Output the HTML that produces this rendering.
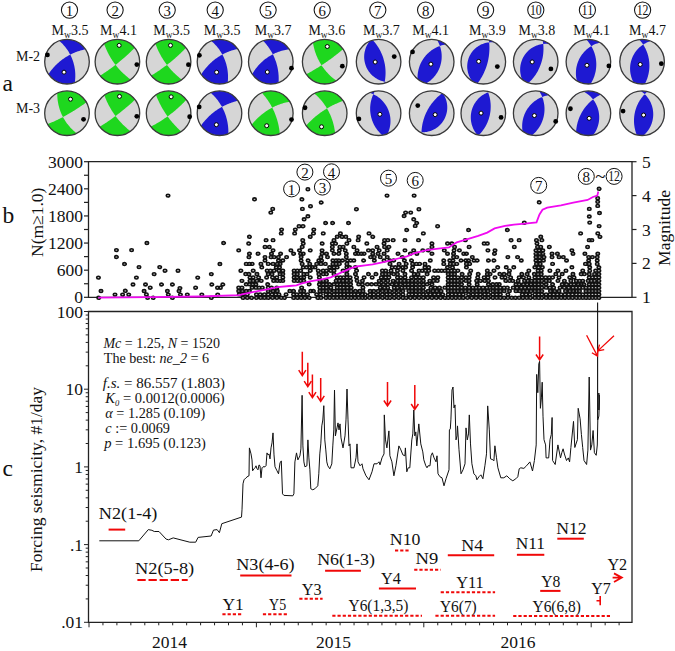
<!DOCTYPE html>
<html><head><meta charset="utf-8"><style>
html,body{margin:0;padding:0;background:#fff;width:675px;height:651px;overflow:hidden}
svg{display:block}
text{font-family:'Liberation Serif',serif;fill:#111}
</style></head><body>
<svg width="675" height="651" viewBox="0 0 675 651">
<text x="2.5" y="90.5" font-size="23.5" text-anchor="start" >a</text>
<text x="16" y="60.7" font-size="14" text-anchor="start" >M-2</text>
<text x="16" y="112.6" font-size="14" text-anchor="start" >M-3</text>
<circle cx="69.5" cy="10.1" r="8.1" fill="none" stroke="#111" stroke-width="1.05"/>
<text x="69.5" y="15.6" font-size="14.8" text-anchor="middle" >1</text>
<text x="70.0" y="34.5" font-size="14" text-anchor="middle">M<tspan font-size="9.5" dy="3">w</tspan><tspan dy="-3">3.5</tspan></text>
<circle cx="115.1" cy="10.1" r="8.1" fill="none" stroke="#111" stroke-width="1.05"/>
<text x="115.1" y="15.6" font-size="14.8" text-anchor="middle" >2</text>
<text x="118.5" y="34.5" font-size="14" text-anchor="middle">M<tspan font-size="9.5" dy="3">w</tspan><tspan dy="-3">4.1</tspan></text>
<circle cx="167.2" cy="10.1" r="8.1" fill="none" stroke="#111" stroke-width="1.05"/>
<text x="167.2" y="15.6" font-size="14.8" text-anchor="middle" >3</text>
<text x="171.7" y="34.5" font-size="14" text-anchor="middle">M<tspan font-size="9.5" dy="3">w</tspan><tspan dy="-3">3.5</tspan></text>
<circle cx="215.2" cy="10.1" r="8.1" fill="none" stroke="#111" stroke-width="1.05"/>
<text x="215.2" y="15.6" font-size="14.8" text-anchor="middle" >4</text>
<text x="222.1" y="34.5" font-size="14" text-anchor="middle">M<tspan font-size="9.5" dy="3">w</tspan><tspan dy="-3">3.5</tspan></text>
<circle cx="268.1" cy="10.1" r="8.1" fill="none" stroke="#111" stroke-width="1.05"/>
<text x="268.1" y="15.6" font-size="14.8" text-anchor="middle" >5</text>
<text x="273.1" y="34.5" font-size="14" text-anchor="middle">M<tspan font-size="9.5" dy="3">w</tspan><tspan dy="-3">3.7</tspan></text>
<circle cx="322.2" cy="10.1" r="8.1" fill="none" stroke="#111" stroke-width="1.05"/>
<text x="322.2" y="15.6" font-size="14.8" text-anchor="middle" >6</text>
<text x="326.8" y="34.5" font-size="14" text-anchor="middle">M<tspan font-size="9.5" dy="3">w</tspan><tspan dy="-3">3.6</tspan></text>
<circle cx="377.8" cy="10.1" r="8.1" fill="none" stroke="#111" stroke-width="1.05"/>
<text x="377.8" y="15.6" font-size="14.8" text-anchor="middle" >7</text>
<text x="381.4" y="34.5" font-size="14" text-anchor="middle">M<tspan font-size="9.5" dy="3">w</tspan><tspan dy="-3">3.7</tspan></text>
<circle cx="425.6" cy="10.1" r="8.1" fill="none" stroke="#111" stroke-width="1.05"/>
<text x="425.6" y="15.6" font-size="14.8" text-anchor="middle" >8</text>
<text x="430.7" y="34.5" font-size="14" text-anchor="middle">M<tspan font-size="9.5" dy="3">w</tspan><tspan dy="-3">4.1</tspan></text>
<circle cx="485.6" cy="10.1" r="8.1" fill="none" stroke="#111" stroke-width="1.05"/>
<text x="485.6" y="15.6" font-size="14.8" text-anchor="middle" >9</text>
<text x="487.4" y="34.5" font-size="14" text-anchor="middle">M<tspan font-size="9.5" dy="3">w</tspan><tspan dy="-3">3.9</tspan></text>
<circle cx="535.8" cy="10.1" r="8.1" fill="none" stroke="#111" stroke-width="1.05"/>
<text x="535.8" y="15.1" font-size="14.5" text-anchor="middle" textLength="11.8" lengthAdjust="spacingAndGlyphs">10</text>
<text x="536.9" y="34.5" font-size="14" text-anchor="middle">M<tspan font-size="9.5" dy="3">w</tspan><tspan dy="-3">3.8</tspan></text>
<circle cx="587.4" cy="10.1" r="8.1" fill="none" stroke="#111" stroke-width="1.05"/>
<text x="587.4" y="15.1" font-size="14.5" text-anchor="middle" textLength="11.8" lengthAdjust="spacingAndGlyphs">11</text>
<text x="591.7" y="34.5" font-size="14" text-anchor="middle">M<tspan font-size="9.5" dy="3">w</tspan><tspan dy="-3">4.1</tspan></text>
<circle cx="642.6" cy="10.1" r="8.1" fill="none" stroke="#111" stroke-width="1.05"/>
<text x="642.6" y="15.1" font-size="14.5" text-anchor="middle" textLength="11.8" lengthAdjust="spacingAndGlyphs">12</text>
<text x="647.5" y="34.5" font-size="14" text-anchor="middle">M<tspan font-size="9.5" dy="3">w</tspan><tspan dy="-3">4.7</tspan></text>
<circle cx="67" cy="61.7" r="22.3" fill="#1e19d2"/>
<path d="M74.77,82.60 L74.97,81.17 L75.12,79.80 L75.22,78.51 L75.28,77.27 L75.31,76.08 L75.30,74.95 L75.28,73.86 L75.22,72.81 L75.15,71.80 L75.06,70.82 L74.95,69.87 L74.82,68.95 L74.68,68.06 L74.53,67.19 L74.36,66.34 L74.18,65.51 L73.99,64.69 L73.78,63.89 L73.57,63.10 L73.34,62.33 L73.10,61.56 L72.85,60.80 L72.58,60.05 L72.30,59.30 L72.01,58.56 L71.71,57.82 L71.39,57.09 L71.05,56.35 L70.70,55.61 L70.34,54.87 L69.95,54.13 L69.54,53.38 L69.11,52.63 L68.66,51.87 L68.18,51.10 L67.68,50.32 L67.14,49.53 L66.57,48.73 L65.97,47.92 L65.32,47.09 L64.63,46.24 L63.89,45.38 L63.10,44.50 L62.24,43.61 L61.32,42.69 L60.32,41.75 L59.23,40.80 L59.23,40.80 L57.85,41.36 L56.51,42.02 L55.22,42.76 L53.98,43.59 L52.80,44.50 L51.69,45.49 L50.64,46.55 L49.66,47.68 L48.76,48.86 L47.95,50.11 L47.22,51.41 L46.57,52.75 L46.02,54.14 L45.56,55.56 L45.20,57.00 L44.94,58.47 L44.77,59.95 L44.70,61.44 L44.73,62.93 L44.87,64.41 L45.10,65.89 L45.42,67.34 L45.85,68.77 L46.37,70.16 L46.98,71.52 L47.68,72.84 L48.47,74.10 L49.34,75.31 L50.29,76.46 L51.31,77.55 L52.40,78.56 L53.56,79.50 L54.78,80.35 L56.05,81.13 L57.38,81.82 L58.74,82.41 L60.14,82.92 L61.58,83.33 L63.03,83.64 L64.51,83.86 L65.99,83.98 L67.48,83.99 L68.97,83.91 L70.45,83.73 L71.91,83.45 L73.36,83.07 L74.77,82.60Z M85.53,49.29 L84.11,49.59 L82.78,49.90 L81.53,50.23 L80.35,50.57 L79.23,50.91 L78.17,51.26 L77.16,51.61 L76.19,51.97 L75.26,52.34 L74.37,52.70 L73.51,53.07 L72.68,53.44 L71.88,53.82 L71.10,54.19 L70.35,54.57 L69.61,54.96 L68.89,55.35 L68.19,55.74 L67.50,56.14 L66.82,56.54 L66.15,56.95 L65.50,57.36 L64.85,57.79 L64.20,58.22 L63.56,58.66 L62.93,59.11 L62.30,59.57 L61.67,60.05 L61.04,60.53 L60.40,61.03 L59.77,61.55 L59.14,62.09 L58.50,62.64 L57.85,63.22 L57.20,63.81 L56.54,64.44 L55.87,65.09 L55.20,65.78 L54.51,66.50 L53.81,67.26 L53.10,68.06 L52.37,68.91 L51.62,69.81 L50.86,70.78 L50.09,71.81 L49.29,72.92 L48.47,74.11 L48.47,74.11 L49.34,75.32 L50.29,76.47 L51.32,77.55 L52.41,78.57 L53.57,79.50 L54.79,80.36 L56.06,81.13 L57.39,81.82 L58.75,82.42 L60.15,82.92 L61.59,83.33 L63.04,83.65 L64.52,83.86 L66.00,83.98 L67.49,83.99 L68.98,83.91 L70.46,83.73 L71.92,83.45 L73.37,83.07 L74.78,82.60 L76.16,82.03 L77.50,81.38 L78.79,80.63 L80.02,79.80 L81.20,78.89 L82.32,77.90 L83.37,76.84 L84.34,75.72 L85.24,74.53 L86.06,73.28 L86.79,71.98 L87.43,70.64 L87.98,69.25 L88.44,67.83 L88.80,66.39 L89.07,64.92 L89.23,63.44 L89.30,61.95 L89.27,60.46 L89.13,58.98 L88.90,57.50 L88.57,56.05 L88.15,54.62 L87.63,53.23 L87.02,51.87 L86.31,50.55 L85.53,49.29Z" fill="#d6d6d6" fill-rule="evenodd"/>
<circle cx="67" cy="61.7" r="22.3" fill="none" stroke="#3a3a3a" stroke-width="1.3"/>
<circle cx="47.43" cy="54.90" r="2.4" fill="#000"/>
<circle cx="64.03" cy="72.15" r="2.0" fill="#fff" stroke="#000" stroke-width="1"/>
<circle cx="117.4" cy="61.7" r="22.3" fill="#1ed71e"/>
<path d="M104.10,43.80 L104.59,45.16 L105.08,46.43 L105.55,47.62 L106.03,48.75 L106.50,49.81 L106.96,50.82 L107.42,51.78 L107.87,52.70 L108.32,53.58 L108.76,54.42 L109.20,55.23 L109.64,56.01 L110.07,56.77 L110.50,57.50 L110.93,58.22 L111.37,58.91 L111.80,59.59 L112.23,60.26 L112.66,60.91 L113.10,61.55 L113.54,62.19 L113.99,62.81 L114.43,63.43 L114.89,64.04 L115.35,64.65 L115.82,65.25 L116.30,65.86 L116.79,66.46 L117.29,67.07 L117.80,67.67 L118.32,68.28 L118.87,68.90 L119.42,69.52 L120.00,70.14 L120.60,70.78 L121.22,71.42 L121.87,72.08 L122.55,72.74 L123.26,73.43 L124.01,74.12 L124.80,74.84 L125.63,75.57 L126.51,76.33 L127.45,77.11 L128.46,77.91 L129.54,78.74 L130.70,79.60 L130.70,79.60 L131.86,78.67 L132.96,77.67 L134.00,76.59 L134.95,75.45 L135.83,74.25 L136.63,72.99 L137.34,71.68 L137.96,70.33 L138.49,68.93 L138.93,67.51 L139.27,66.06 L139.51,64.59 L139.66,63.10 L139.70,61.61 L139.64,60.12 L139.49,58.64 L139.24,57.17 L138.88,55.73 L138.44,54.30 L137.90,52.92 L137.26,51.57 L136.54,50.26 L135.74,49.01 L134.85,47.81 L133.88,46.68 L132.84,45.61 L131.73,44.62 L130.56,43.70 L129.33,42.86 L128.04,42.10 L126.71,41.44 L125.33,40.86 L123.92,40.38 L122.49,39.99 L121.02,39.70 L119.55,39.50 L118.06,39.41 L116.57,39.42 L115.08,39.52 L113.61,39.73 L112.15,40.03 L110.71,40.43 L109.31,40.92 L107.94,41.51 L106.61,42.19 L105.33,42.95 L104.10,43.80Z M100.01,75.67 L101.24,74.90 L102.38,74.17 L103.46,73.47 L104.47,72.81 L105.43,72.17 L106.34,71.55 L107.20,70.96 L108.03,70.39 L108.83,69.83 L109.60,69.29 L110.34,68.76 L111.05,68.24 L111.74,67.74 L112.42,67.24 L113.08,66.75 L113.72,66.27 L114.35,65.79 L114.97,65.32 L115.58,64.85 L116.18,64.38 L116.77,63.91 L117.36,63.45 L117.95,62.98 L118.53,62.51 L119.12,62.04 L119.70,61.57 L120.28,61.09 L120.87,60.60 L121.46,60.11 L122.05,59.60 L122.65,59.09 L123.26,58.57 L123.88,58.03 L124.51,57.48 L125.16,56.91 L125.82,56.32 L126.49,55.72 L127.18,55.08 L127.90,54.43 L128.64,53.74 L129.41,53.02 L130.20,52.26 L131.03,51.47 L131.90,50.62 L132.81,49.72 L133.77,48.76 L134.79,47.73 L134.79,47.73 L133.81,46.60 L132.77,45.54 L131.65,44.55 L130.48,43.64 L129.24,42.80 L127.95,42.06 L126.62,41.39 L125.24,40.82 L123.83,40.35 L122.39,39.97 L120.93,39.68 L119.45,39.49 L117.96,39.41 L116.47,39.42 L114.98,39.53 L113.51,39.74 L112.05,40.05 L110.62,40.46 L109.21,40.96 L107.84,41.55 L106.52,42.23 L105.24,43.00 L104.02,43.86 L102.86,44.79 L101.76,45.80 L100.74,46.88 L99.78,48.03 L98.91,49.23 L98.12,50.50 L97.41,51.81 L96.80,53.17 L96.27,54.56 L95.84,55.99 L95.51,57.44 L95.27,58.91 L95.14,60.40 L95.10,61.89 L95.16,63.38 L95.32,64.86 L95.58,66.32 L95.94,67.77 L96.40,69.19 L96.94,70.58 L97.58,71.92 L98.31,73.22 L99.12,74.47 L100.01,75.67Z" fill="#d6d6d6" fill-rule="evenodd"/>
<circle cx="117.4" cy="61.7" r="22.3" fill="none" stroke="#3a3a3a" stroke-width="1.3"/>
<circle cx="136.83" cy="64.57" r="2.4" fill="#000"/>
<circle cx="119.16" cy="45.36" r="2.0" fill="#fff" stroke="#000" stroke-width="1"/>
<circle cx="168.6" cy="61.7" r="22.3" fill="#1ed71e"/>
<path d="M155.40,43.73 L155.90,45.08 L156.40,46.35 L156.89,47.54 L157.37,48.66 L157.84,49.72 L158.31,50.72 L158.77,51.68 L159.23,52.59 L159.68,53.47 L160.12,54.31 L160.57,55.11 L161.00,55.89 L161.44,56.65 L161.87,57.38 L162.30,58.09 L162.73,58.79 L163.16,59.47 L163.59,60.13 L164.02,60.78 L164.46,61.42 L164.89,62.06 L165.33,62.68 L165.78,63.30 L166.23,63.91 L166.69,64.52 L167.15,65.13 L167.62,65.74 L168.11,66.34 L168.60,66.95 L169.10,67.56 L169.62,68.17 L170.16,68.79 L170.71,69.41 L171.28,70.05 L171.87,70.69 L172.48,71.34 L173.12,72.00 L173.79,72.67 L174.49,73.37 L175.22,74.07 L176.00,74.80 L176.82,75.55 L177.69,76.32 L178.61,77.11 L179.60,77.94 L180.66,78.79 L181.80,79.67 L181.80,79.67 L182.97,78.75 L184.08,77.75 L185.12,76.68 L186.08,75.55 L186.97,74.35 L187.77,73.09 L188.49,71.79 L189.12,70.44 L189.66,69.05 L190.10,67.62 L190.45,66.17 L190.70,64.71 L190.85,63.22 L190.90,61.73 L190.85,60.24 L190.71,58.76 L190.46,57.29 L190.12,55.84 L189.68,54.42 L189.14,53.03 L188.52,51.67 L187.80,50.36 L187.00,49.11 L186.12,47.91 L185.16,46.77 L184.13,45.69 L183.02,44.69 L181.85,43.77 L180.63,42.92 L179.35,42.16 L178.02,41.49 L176.65,40.90 L175.24,40.41 L173.80,40.02 L172.34,39.72 L170.87,39.52 L169.38,39.41 L167.89,39.41 L166.40,39.51 L164.92,39.71 L163.46,40.00 L162.03,40.39 L160.62,40.88 L159.24,41.46 L157.91,42.13 L156.63,42.89 L155.40,43.73Z M151.17,75.61 L152.40,74.86 L153.56,74.15 L154.64,73.47 L155.66,72.82 L156.63,72.19 L157.55,71.59 L158.43,71.00 L159.26,70.44 L160.07,69.89 L160.84,69.36 L161.58,68.84 L162.30,68.32 L163.00,67.82 L163.68,67.33 L164.34,66.85 L164.99,66.37 L165.62,65.90 L166.25,65.43 L166.86,64.96 L167.46,64.50 L168.06,64.03 L168.65,63.57 L169.24,63.10 L169.83,62.64 L170.41,62.17 L170.99,61.69 L171.58,61.21 L172.17,60.73 L172.76,60.23 L173.35,59.73 L173.96,59.22 L174.57,58.69 L175.18,58.16 L175.82,57.60 L176.46,57.03 L177.12,56.44 L177.79,55.83 L178.48,55.20 L179.20,54.54 L179.93,53.85 L180.70,53.13 L181.49,52.36 L182.31,51.56 L183.18,50.71 L184.08,49.80 L185.03,48.83 L186.03,47.79 L186.03,47.79 L185.06,46.66 L184.02,45.59 L182.91,44.60 L181.74,43.68 L180.51,42.84 L179.22,42.09 L177.89,41.43 L176.51,40.85 L175.10,40.37 L173.66,39.98 L172.20,39.69 L170.72,39.50 L169.24,39.41 L167.75,39.42 L166.26,39.52 L164.78,39.73 L163.32,40.03 L161.89,40.43 L160.48,40.93 L159.11,41.52 L157.79,42.20 L156.51,42.96 L155.28,43.81 L154.12,44.74 L153.02,45.75 L151.99,46.82 L151.03,47.97 L150.15,49.17 L149.36,50.43 L148.65,51.74 L148.03,53.10 L147.50,54.49 L147.06,55.91 L146.73,57.37 L146.48,58.84 L146.34,60.32 L146.30,61.81 L146.36,63.30 L146.51,64.78 L146.77,66.25 L147.12,67.70 L147.57,69.12 L148.11,70.51 L148.75,71.86 L149.47,73.16 L150.28,74.41 L151.17,75.61Z" fill="#d6d6d6" fill-rule="evenodd"/>
<circle cx="168.6" cy="61.7" r="22.3" fill="none" stroke="#3a3a3a" stroke-width="1.3"/>
<circle cx="188.44" cy="64.65" r="2.4" fill="#000"/>
<circle cx="170.49" cy="45.35" r="2.0" fill="#fff" stroke="#000" stroke-width="1"/>
<circle cx="219.5" cy="61.7" r="22.3" fill="#1e19d2"/>
<path d="M227.70,82.44 L227.85,81.00 L227.95,79.63 L228.00,78.33 L228.02,77.09 L228.01,75.91 L227.97,74.78 L227.91,73.69 L227.82,72.65 L227.72,71.64 L227.60,70.67 L227.46,69.73 L227.31,68.82 L227.15,67.93 L226.97,67.07 L226.78,66.23 L226.58,65.40 L226.37,64.59 L226.15,63.80 L225.91,63.02 L225.67,62.25 L225.41,61.50 L225.15,60.75 L224.87,60.00 L224.57,59.27 L224.27,58.53 L223.95,57.80 L223.62,57.08 L223.27,56.35 L222.91,55.62 L222.53,54.89 L222.14,54.16 L221.72,53.42 L221.28,52.67 L220.82,51.92 L220.33,51.16 L219.82,50.39 L219.27,49.61 L218.70,48.82 L218.08,48.02 L217.43,47.20 L216.73,46.36 L215.99,45.51 L215.19,44.64 L214.33,43.75 L213.40,42.84 L212.39,41.91 L211.30,40.96 L211.30,40.96 L209.93,41.56 L208.61,42.24 L207.33,43.01 L206.11,43.87 L204.95,44.80 L203.85,45.81 L202.83,46.89 L201.88,48.04 L201.00,49.24 L200.21,50.51 L199.51,51.82 L198.89,53.18 L198.37,54.57 L197.94,56.00 L197.61,57.45 L197.37,58.93 L197.24,60.41 L197.20,61.90 L197.26,63.39 L197.43,64.87 L197.69,66.34 L198.05,67.78 L198.50,69.20 L199.05,70.59 L199.69,71.94 L200.42,73.24 L201.23,74.48 L202.12,75.68 L203.10,76.81 L204.14,77.87 L205.26,78.86 L206.43,79.77 L207.67,80.60 L208.96,81.35 L210.29,82.01 L211.67,82.58 L213.08,83.06 L214.52,83.44 L215.99,83.72 L217.47,83.91 L218.95,83.99 L220.44,83.98 L221.93,83.87 L223.41,83.66 L224.86,83.35 L226.30,82.94 L227.70,82.44Z M237.78,48.93 L236.37,49.24 L235.04,49.57 L233.79,49.90 L232.61,50.25 L231.50,50.61 L230.44,50.97 L229.43,51.34 L228.46,51.71 L227.54,52.08 L226.65,52.46 L225.79,52.84 L224.97,53.23 L224.17,53.61 L223.40,54.00 L222.65,54.40 L221.92,54.79 L221.20,55.20 L220.50,55.60 L219.82,56.01 L219.15,56.43 L218.49,56.85 L217.83,57.28 L217.19,57.72 L216.55,58.16 L215.92,58.62 L215.29,59.08 L214.67,59.55 L214.05,60.04 L213.43,60.54 L212.81,61.06 L212.18,61.59 L211.56,62.14 L210.93,62.71 L210.30,63.31 L209.66,63.92 L209.02,64.56 L208.37,65.24 L207.71,65.94 L207.04,66.68 L206.36,67.46 L205.66,68.28 L204.96,69.15 L204.24,70.08 L203.51,71.06 L202.76,72.12 L202.00,73.25 L201.22,74.47 L201.22,74.47 L202.11,75.66 L203.09,76.79 L204.13,77.86 L205.24,78.85 L206.42,79.76 L207.66,80.60 L208.95,81.34 L210.28,82.01 L211.66,82.58 L213.07,83.05 L214.51,83.43 L215.97,83.72 L217.45,83.91 L218.94,83.99 L220.43,83.98 L221.92,83.87 L223.39,83.66 L224.85,83.35 L226.28,82.94 L227.69,82.44 L229.05,81.85 L230.38,81.17 L231.65,80.40 L232.88,79.54 L234.04,78.61 L235.13,77.60 L236.16,76.52 L237.11,75.38 L237.99,74.17 L238.78,72.91 L239.49,71.59 L240.10,70.24 L240.63,68.84 L241.06,67.41 L241.39,65.96 L241.62,64.49 L241.76,63.01 L241.80,61.52 L241.74,60.03 L241.58,58.54 L241.32,57.08 L240.96,55.63 L240.50,54.21 L239.96,52.82 L239.32,51.48 L238.59,50.18 L237.78,48.93Z" fill="#d6d6d6" fill-rule="evenodd"/>
<circle cx="219.5" cy="61.7" r="22.3" fill="none" stroke="#3a3a3a" stroke-width="1.3"/>
<circle cx="199.41" cy="55.29" r="2.4" fill="#000"/>
<circle cx="216.64" cy="72.22" r="2.0" fill="#fff" stroke="#000" stroke-width="1"/>
<circle cx="270.8" cy="61.7" r="22.3" fill="#1e19d2"/>
<path d="M289.35,49.32 L287.91,49.51 L286.56,49.73 L285.28,49.97 L284.08,50.23 L282.93,50.51 L281.84,50.81 L280.80,51.11 L279.81,51.43 L278.85,51.75 L277.93,52.08 L277.05,52.42 L276.20,52.77 L275.37,53.12 L274.57,53.48 L273.80,53.85 L273.04,54.22 L272.30,54.60 L271.58,54.98 L270.87,55.38 L270.18,55.78 L269.49,56.19 L268.82,56.61 L268.16,57.03 L267.50,57.47 L266.85,57.92 L266.21,58.38 L265.57,58.85 L264.93,59.34 L264.30,59.84 L263.67,60.36 L263.03,60.90 L262.40,61.45 L261.76,62.03 L261.12,62.63 L260.48,63.26 L259.83,63.92 L259.18,64.60 L258.52,65.32 L257.86,66.08 L257.19,66.88 L256.51,67.72 L255.82,68.62 L255.12,69.57 L254.41,70.58 L253.70,71.67 L252.98,72.83 L252.25,74.08 L252.25,74.08 L253.12,75.29 L254.07,76.44 L255.09,77.53 L256.18,78.54 L257.34,79.48 L258.56,80.34 L259.83,81.12 L261.15,81.81 L262.52,82.40 L263.92,82.91 L265.35,83.32 L266.81,83.64 L268.28,83.86 L269.77,83.98 L271.26,84.00 L272.75,83.91 L274.22,83.74 L275.69,83.46 L277.13,83.08 L278.55,82.61 L279.92,82.05 L281.26,81.39 L282.56,80.65 L283.79,79.82 L284.98,78.91 L286.09,77.93 L287.14,76.87 L288.12,75.75 L289.02,74.56 L289.84,73.31 L290.57,72.01 L291.22,70.67 L291.77,69.29 L292.23,67.87 L292.59,66.42 L292.86,64.96 L293.03,63.48 L293.10,61.99 L293.07,60.50 L292.94,59.01 L292.71,57.54 L292.38,56.09 L291.96,54.66 L291.44,53.26 L290.83,51.90 L290.13,50.58 L289.35,49.32Z M278.56,82.61 L278.64,81.16 L278.68,79.80 L278.69,78.50 L278.67,77.27 L278.63,76.10 L278.56,74.98 L278.47,73.90 L278.37,72.87 L278.25,71.88 L278.12,70.92 L277.97,69.99 L277.82,69.09 L277.65,68.22 L277.47,67.37 L277.29,66.54 L277.09,65.72 L276.89,64.93 L276.67,64.14 L276.45,63.37 L276.22,62.62 L275.97,61.87 L275.72,61.12 L275.46,60.39 L275.19,59.66 L274.91,58.93 L274.61,58.20 L274.31,57.47 L273.99,56.75 L273.66,56.02 L273.31,55.29 L272.95,54.55 L272.56,53.80 L272.16,53.05 L271.74,52.29 L271.30,51.52 L270.83,50.74 L270.34,49.94 L269.81,49.13 L269.25,48.30 L268.66,47.45 L268.02,46.57 L267.34,45.68 L266.61,44.76 L265.82,43.82 L264.97,42.84 L264.05,41.83 L263.04,40.79 L263.04,40.79 L261.67,41.36 L260.33,42.01 L259.04,42.76 L257.80,43.58 L256.62,44.49 L255.50,45.48 L254.45,46.54 L253.47,47.66 L252.57,48.85 L251.76,50.10 L251.02,51.40 L250.38,52.74 L249.83,54.12 L249.37,55.54 L249.00,56.99 L248.74,58.45 L248.57,59.93 L248.50,61.42 L248.53,62.91 L248.66,64.40 L248.89,65.87 L249.22,67.32 L249.64,68.75 L250.16,70.15 L250.77,71.51 L251.47,72.83 L252.26,74.09 L253.13,75.30 L254.08,76.45 L255.10,77.54 L256.19,78.55 L257.35,79.49 L258.57,80.35 L259.84,81.12 L261.16,81.81 L262.53,82.41 L263.93,82.92 L265.36,83.33 L266.82,83.64 L268.29,83.86 L269.78,83.98 L271.27,84.00 L272.76,83.91 L274.24,83.73 L275.70,83.46 L277.14,83.08 L278.56,82.61Z" fill="#d6d6d6" fill-rule="evenodd"/>
<circle cx="270.8" cy="61.7" r="22.3" fill="none" stroke="#3a3a3a" stroke-width="1.3"/>
<circle cx="291.48" cy="68.21" r="2.4" fill="#000"/>
<circle cx="267.29" cy="72.04" r="2.0" fill="#fff" stroke="#000" stroke-width="1"/>
<circle cx="324.7" cy="61.7" r="22.3" fill="#1ed71e"/>
<path d="M313.00,42.71 L313.23,44.14 L313.49,45.48 L313.76,46.75 L314.04,47.94 L314.33,49.08 L314.63,50.16 L314.94,51.19 L315.26,52.17 L315.58,53.12 L315.91,54.02 L316.24,54.90 L316.58,55.74 L316.92,56.56 L317.27,57.35 L317.62,58.13 L317.97,58.88 L318.33,59.61 L318.69,60.33 L319.07,61.04 L319.44,61.73 L319.83,62.42 L320.22,63.09 L320.62,63.76 L321.02,64.42 L321.44,65.08 L321.87,65.73 L322.30,66.38 L322.76,67.03 L323.22,67.68 L323.70,68.33 L324.19,68.98 L324.71,69.64 L325.24,70.29 L325.79,70.96 L326.37,71.63 L326.97,72.31 L327.61,73.00 L328.27,73.70 L328.97,74.42 L329.70,75.14 L330.48,75.88 L331.31,76.64 L332.19,77.41 L333.13,78.20 L334.14,79.01 L335.23,79.84 L336.40,80.69 L336.40,80.69 L337.64,79.86 L338.82,78.96 L339.95,77.97 L341.00,76.92 L341.98,75.80 L342.88,74.61 L343.70,73.37 L344.44,72.07 L345.09,70.73 L345.65,69.35 L346.11,67.93 L346.48,66.49 L346.75,65.02 L346.92,63.54 L347.00,62.06 L346.97,60.57 L346.85,59.08 L346.62,57.61 L346.30,56.15 L345.88,54.72 L345.37,53.32 L344.76,51.96 L344.07,50.64 L343.28,49.37 L342.42,48.16 L341.47,47.01 L340.46,45.92 L339.37,44.90 L338.21,43.96 L337.00,43.10 L335.73,42.32 L334.41,41.62 L333.05,41.02 L331.65,40.51 L330.21,40.09 L328.76,39.77 L327.29,39.55 L325.80,39.43 L324.31,39.40 L322.82,39.48 L321.34,39.65 L319.88,39.93 L318.43,40.30 L317.02,40.77 L315.64,41.32 L314.30,41.98 L313.00,42.71Z M306.28,74.27 L307.55,73.58 L308.74,72.93 L309.86,72.31 L310.91,71.71 L311.91,71.14 L312.86,70.59 L313.77,70.06 L314.64,69.55 L315.47,69.05 L316.27,68.56 L317.05,68.09 L317.80,67.63 L318.53,67.17 L319.24,66.73 L319.93,66.29 L320.61,65.86 L321.27,65.43 L321.92,65.01 L322.56,64.58 L323.20,64.16 L323.83,63.75 L324.45,63.33 L325.07,62.91 L325.69,62.49 L326.31,62.06 L326.92,61.63 L327.54,61.20 L328.16,60.76 L328.79,60.32 L329.42,59.87 L330.07,59.41 L330.72,58.93 L331.38,58.45 L332.05,57.95 L332.74,57.44 L333.44,56.91 L334.17,56.36 L334.91,55.79 L335.68,55.20 L336.47,54.58 L337.30,53.93 L338.16,53.24 L339.06,52.52 L339.99,51.75 L340.98,50.94 L342.02,50.07 L343.12,49.13 L343.12,49.13 L342.24,47.93 L341.28,46.79 L340.25,45.72 L339.15,44.71 L337.98,43.79 L336.76,42.94 L335.48,42.18 L334.15,41.50 L332.78,40.91 L331.37,40.42 L329.93,40.02 L328.47,39.72 L327.00,39.52 L325.51,39.41 L324.02,39.41 L322.53,39.51 L321.06,39.70 L319.60,39.99 L318.16,40.38 L316.75,40.87 L315.37,41.44 L314.04,42.11 L312.76,42.87 L311.53,43.71 L310.35,44.63 L309.25,45.62 L308.21,46.69 L307.24,47.83 L306.35,49.02 L305.55,50.28 L304.83,51.58 L304.20,52.93 L303.66,54.32 L303.21,55.74 L302.86,57.19 L302.61,58.66 L302.45,60.14 L302.40,61.63 L302.45,63.12 L302.59,64.61 L302.83,66.08 L303.17,67.53 L303.61,68.95 L304.14,70.34 L304.77,71.70 L305.48,73.01 L306.28,74.27Z" fill="#d6d6d6" fill-rule="evenodd"/>
<circle cx="324.7" cy="61.7" r="22.3" fill="none" stroke="#3a3a3a" stroke-width="1.3"/>
<circle cx="342.33" cy="66.15" r="2.4" fill="#000"/>
<circle cx="327.30" cy="46.52" r="2.0" fill="#fff" stroke="#000" stroke-width="1"/>
<circle cx="378.6" cy="61.7" r="22.3" fill="#1e19d2"/>
<path d="M369.49,41.35 L368.62,42.53 L367.85,43.72 L367.16,44.92 L366.56,46.12 L366.03,47.32 L365.58,48.52 L365.20,49.70 L364.89,50.88 L364.63,52.04 L364.43,53.19 L364.29,54.32 L364.21,55.44 L364.17,56.55 L364.18,57.64 L364.23,58.71 L364.33,59.77 L364.48,60.81 L364.66,61.83 L364.89,62.84 L365.15,63.83 L365.45,64.81 L365.79,65.77 L366.17,66.71 L366.58,67.63 L367.03,68.54 L367.52,69.44 L368.05,70.31 L368.61,71.17 L369.21,72.01 L369.86,72.83 L370.54,73.63 L371.26,74.40 L372.02,75.16 L372.83,75.89 L373.68,76.60 L374.57,77.28 L375.51,77.94 L376.50,78.55 L377.53,79.14 L378.62,79.69 L379.76,80.19 L380.95,80.65 L382.19,81.06 L383.49,81.41 L384.84,81.69 L386.25,81.91 L387.71,82.05 L387.71,82.05 L389.05,81.40 L390.34,80.66 L391.58,79.83 L392.76,78.93 L393.88,77.94 L394.93,76.88 L395.91,75.76 L396.81,74.57 L397.63,73.33 L398.36,72.03 L399.01,70.69 L399.56,69.30 L400.02,67.89 L400.39,66.44 L400.66,64.97 L400.83,63.49 L400.90,62.01 L400.87,60.52 L400.74,59.03 L400.51,57.56 L400.19,56.10 L399.76,54.67 L399.25,53.28 L398.64,51.92 L397.94,50.60 L397.16,49.33 L396.29,48.12 L395.34,46.97 L394.32,45.88 L393.23,44.87 L392.07,43.93 L390.86,43.07 L389.58,42.29 L388.26,41.60 L386.90,41.00 L385.50,40.49 L384.07,40.08 L382.61,39.76 L381.14,39.54 L379.65,39.42 L378.16,39.40 L376.67,39.48 L375.19,39.66 L373.73,39.94 L372.29,40.31 L370.87,40.78 L369.49,41.35Z M384.39,83.23 L384.69,81.82 L384.93,80.47 L385.12,79.18 L385.27,77.96 L385.39,76.78 L385.47,75.65 L385.52,74.57 L385.55,73.52 L385.56,72.51 L385.54,71.53 L385.51,70.59 L385.46,69.67 L385.39,68.77 L385.31,67.89 L385.22,67.04 L385.11,66.20 L384.99,65.37 L384.86,64.56 L384.71,63.76 L384.55,62.97 L384.38,62.19 L384.20,61.42 L384.01,60.65 L383.81,59.89 L383.59,59.13 L383.36,58.37 L383.11,57.61 L382.85,56.85 L382.58,56.09 L382.28,55.32 L381.97,54.54 L381.65,53.76 L381.30,52.98 L380.93,52.18 L380.54,51.37 L380.12,50.55 L379.67,49.71 L379.19,48.86 L378.68,47.99 L378.13,47.10 L377.54,46.19 L376.90,45.25 L376.22,44.29 L375.47,43.30 L374.66,42.29 L373.77,41.24 L372.81,40.17 L372.81,40.17 L371.38,40.60 L369.99,41.13 L368.63,41.75 L367.32,42.46 L366.06,43.26 L364.86,44.14 L363.72,45.09 L362.64,46.12 L361.64,47.22 L360.71,48.39 L359.86,49.61 L359.09,50.89 L358.42,52.22 L357.83,53.59 L357.33,55.00 L356.93,56.43 L356.63,57.89 L356.42,59.37 L356.32,60.85 L356.31,62.34 L356.40,63.83 L356.59,65.31 L356.88,66.77 L357.27,68.21 L357.75,69.62 L358.33,70.99 L358.99,72.33 L359.75,73.61 L360.59,74.85 L361.50,76.02 L362.50,77.13 L363.57,78.17 L364.70,79.14 L365.90,80.03 L367.15,80.83 L368.45,81.56 L369.80,82.19 L371.19,82.73 L372.61,83.18 L374.06,83.53 L375.53,83.79 L377.01,83.94 L378.50,84.00 L379.99,83.96 L381.47,83.81 L382.94,83.57 L384.39,83.23Z" fill="#d6d6d6" fill-rule="evenodd"/>
<circle cx="378.6" cy="61.7" r="22.3" fill="none" stroke="#3a3a3a" stroke-width="1.3"/>
<circle cx="394.22" cy="56.57" r="2.4" fill="#000"/>
<circle cx="375.16" cy="62.01" r="2.0" fill="#fff" stroke="#000" stroke-width="1"/>
<circle cx="431.7" cy="61.7" r="22.3" fill="#1e19d2"/>
<path d="M426.35,83.35 L427.58,82.58 L428.73,81.79 L429.80,80.98 L430.79,80.17 L431.71,79.35 L432.56,78.52 L433.36,77.69 L434.11,76.86 L434.80,76.03 L435.44,75.20 L436.05,74.37 L436.61,73.53 L437.13,72.71 L437.62,71.88 L438.07,71.05 L438.50,70.22 L438.89,69.39 L439.25,68.56 L439.59,67.73 L439.90,66.89 L440.18,66.06 L440.44,65.22 L440.67,64.37 L440.88,63.52 L441.07,62.66 L441.23,61.80 L441.37,60.93 L441.49,60.04 L441.58,59.15 L441.64,58.25 L441.68,57.33 L441.70,56.40 L441.68,55.46 L441.64,54.50 L441.56,53.52 L441.45,52.52 L441.30,51.51 L441.12,50.47 L440.89,49.41 L440.62,48.33 L440.31,47.22 L439.93,46.09 L439.50,44.93 L439.00,43.75 L438.44,42.54 L437.79,41.31 L437.05,40.05 L437.05,40.05 L435.60,39.74 L434.12,39.53 L432.63,39.42 L431.14,39.41 L429.66,39.49 L428.18,39.68 L426.71,39.96 L425.27,40.35 L423.86,40.82 L422.49,41.39 L421.15,42.05 L419.86,42.80 L418.63,43.64 L417.45,44.55 L416.33,45.54 L415.29,46.60 L414.32,47.73 L413.42,48.92 L412.61,50.17 L411.88,51.47 L411.24,52.82 L410.70,54.21 L410.24,55.63 L409.89,57.07 L409.63,58.54 L409.46,60.02 L409.40,61.51 L409.44,63.00 L409.57,64.48 L409.81,65.96 L410.14,67.41 L410.57,68.84 L411.10,70.23 L411.71,71.59 L412.42,72.90 L413.21,74.16 L414.08,75.37 L415.03,76.52 L416.06,77.60 L417.16,78.61 L418.32,79.54 L419.54,80.39 L420.82,81.16 L422.14,81.85 L423.51,82.44 L424.91,82.94 L426.35,83.35Z M445.85,44.46 L444.42,44.72 L443.06,45.03 L441.78,45.37 L440.57,45.75 L439.42,46.15 L438.32,46.58 L437.28,47.03 L436.29,47.50 L435.35,47.99 L434.44,48.48 L433.58,49.00 L432.75,49.52 L431.96,50.06 L431.19,50.60 L430.46,51.16 L429.75,51.73 L429.07,52.31 L428.41,52.90 L427.77,53.49 L427.16,54.10 L426.57,54.73 L425.99,55.36 L425.43,56.00 L424.89,56.66 L424.37,57.34 L423.86,58.03 L423.36,58.73 L422.89,59.45 L422.42,60.19 L421.97,60.95 L421.54,61.73 L421.12,62.54 L420.72,63.37 L420.33,64.22 L419.96,65.11 L419.61,66.02 L419.27,66.97 L418.96,67.95 L418.67,68.98 L418.40,70.04 L418.17,71.15 L417.96,72.30 L417.79,73.51 L417.65,74.77 L417.57,76.10 L417.53,77.48 L417.55,78.94 L417.55,78.94 L418.74,79.84 L419.98,80.67 L421.27,81.41 L422.61,82.06 L423.99,82.63 L425.41,83.09 L426.85,83.47 L428.31,83.74 L429.79,83.92 L431.28,84.00 L432.77,83.97 L434.26,83.85 L435.73,83.63 L437.19,83.31 L438.62,82.90 L440.02,82.39 L441.38,81.79 L442.70,81.10 L443.97,80.32 L445.19,79.46 L446.35,78.52 L447.44,77.50 L448.46,76.41 L449.40,75.26 L450.27,74.05 L451.05,72.78 L451.75,71.47 L452.36,70.10 L452.87,68.71 L453.29,67.28 L453.62,65.82 L453.84,64.35 L453.97,62.86 L454.00,61.37 L453.93,59.88 L453.76,58.40 L453.49,56.94 L453.12,55.49 L452.66,54.08 L452.10,52.69 L451.45,51.35 L450.72,50.06 L449.90,48.81 L449.00,47.62 L448.02,46.50 L446.97,45.45 L445.85,44.46Z" fill="#d6d6d6" fill-rule="evenodd"/>
<circle cx="431.7" cy="61.7" r="22.3" fill="none" stroke="#3a3a3a" stroke-width="1.3"/>
<circle cx="412.53" cy="51.91" r="2.4" fill="#000"/>
<circle cx="430.89" cy="64.15" r="2.0" fill="#fff" stroke="#000" stroke-width="1"/>
<circle cx="483.3" cy="61.7" r="22.3" fill="#1e19d2"/>
<path d="M494.59,42.47 L493.13,42.32 L491.70,42.26 L490.30,42.29 L488.93,42.39 L487.61,42.56 L486.32,42.80 L485.08,43.11 L483.87,43.47 L482.71,43.88 L481.59,44.34 L480.52,44.85 L479.48,45.41 L478.49,46.00 L477.54,46.63 L476.63,47.30 L475.76,48.01 L474.93,48.74 L474.15,49.51 L473.40,50.30 L472.70,51.12 L472.03,51.97 L471.41,52.85 L470.82,53.75 L470.28,54.67 L469.78,55.62 L469.32,56.60 L468.90,57.59 L468.52,58.61 L468.19,59.65 L467.91,60.71 L467.67,61.79 L467.48,62.89 L467.34,64.01 L467.25,65.15 L467.21,66.30 L467.23,67.48 L467.31,68.66 L467.45,69.87 L467.66,71.08 L467.93,72.31 L468.27,73.54 L468.68,74.78 L469.18,76.03 L469.75,77.27 L470.41,78.50 L471.16,79.72 L472.01,80.93 L472.01,80.93 L473.32,81.64 L474.67,82.26 L476.06,82.79 L477.49,83.23 L478.94,83.57 L480.41,83.81 L481.89,83.96 L483.38,84.00 L484.87,83.94 L486.35,83.79 L487.82,83.54 L489.27,83.19 L490.69,82.74 L492.08,82.20 L493.43,81.57 L494.74,80.84 L495.99,80.04 L497.19,79.15 L498.32,78.18 L499.39,77.14 L500.38,76.03 L501.30,74.86 L502.14,73.63 L502.90,72.34 L503.56,71.01 L504.14,69.64 L504.62,68.23 L505.01,66.79 L505.30,65.33 L505.50,63.85 L505.59,62.36 L505.58,60.87 L505.48,59.39 L505.28,57.91 L504.97,56.45 L504.57,55.01 L504.08,53.61 L503.49,52.24 L502.82,50.91 L502.05,49.63 L501.20,48.41 L500.28,47.24 L499.27,46.14 L498.20,45.11 L497.06,44.15 L495.85,43.27 L494.59,42.47Z M477.67,83.28 L478.52,82.11 L479.30,80.99 L480.01,79.91 L480.66,78.87 L481.26,77.87 L481.82,76.90 L482.34,75.96 L482.82,75.04 L483.27,74.16 L483.69,73.29 L484.08,72.45 L484.45,71.62 L484.80,70.81 L485.13,70.01 L485.44,69.22 L485.74,68.45 L486.01,67.68 L486.28,66.92 L486.53,66.17 L486.77,65.42 L486.99,64.67 L487.21,63.92 L487.42,63.17 L487.61,62.43 L487.80,61.67 L487.97,60.92 L488.14,60.15 L488.30,59.38 L488.45,58.60 L488.59,57.81 L488.72,57.00 L488.84,56.18 L488.96,55.35 L489.06,54.49 L489.15,53.61 L489.23,52.71 L489.30,51.78 L489.36,50.82 L489.40,49.82 L489.43,48.79 L489.44,47.72 L489.42,46.60 L489.39,45.43 L489.32,44.21 L489.23,42.92 L489.10,41.56 L488.93,40.12 L488.93,40.12 L487.48,39.79 L486.01,39.56 L484.52,39.43 L483.03,39.40 L481.54,39.47 L480.06,39.64 L478.60,39.90 L477.15,40.26 L475.73,40.72 L474.35,41.28 L473.00,41.92 L471.71,42.65 L470.46,43.47 L469.27,44.37 L468.14,45.34 L467.08,46.39 L466.10,47.51 L465.19,48.69 L464.36,49.93 L463.62,51.22 L462.96,52.56 L462.39,53.94 L461.92,55.35 L461.55,56.79 L461.27,58.26 L461.09,59.74 L461.01,61.22 L461.02,62.71 L461.14,64.20 L461.36,65.67 L461.67,67.13 L462.08,68.56 L462.59,69.97 L463.19,71.33 L463.87,72.65 L464.65,73.92 L465.51,75.14 L466.45,76.30 L467.46,77.39 L468.54,78.42 L469.69,79.37 L470.90,80.24 L472.17,81.02 L473.48,81.72 L474.84,82.33 L476.24,82.85 L477.67,83.28Z" fill="#d6d6d6" fill-rule="evenodd"/>
<circle cx="483.3" cy="61.7" r="22.3" fill="none" stroke="#3a3a3a" stroke-width="1.3"/>
<circle cx="497.32" cy="66.60" r="2.4" fill="#000"/>
<circle cx="478.69" cy="61.40" r="2.0" fill="#fff" stroke="#000" stroke-width="1"/>
<circle cx="535.7" cy="61.7" r="22.3" fill="#1e19d2"/>
<path d="M549.30,44.03 L547.85,43.88 L546.43,43.81 L545.05,43.81 L543.72,43.89 L542.43,44.03 L541.18,44.23 L539.97,44.49 L538.81,44.79 L537.69,45.14 L536.61,45.53 L535.56,45.96 L534.56,46.43 L533.59,46.92 L532.66,47.46 L531.77,48.02 L530.91,48.61 L530.08,49.22 L529.29,49.86 L528.53,50.53 L527.80,51.23 L527.10,51.94 L526.43,52.68 L525.80,53.45 L525.19,54.24 L524.61,55.05 L524.07,55.88 L523.55,56.74 L523.07,57.62 L522.62,58.53 L522.20,59.46 L521.82,60.42 L521.47,61.40 L521.15,62.41 L520.88,63.44 L520.64,64.50 L520.45,65.59 L520.30,66.71 L520.20,67.86 L520.15,69.03 L520.15,70.23 L520.22,71.46 L520.34,72.72 L520.54,74.01 L520.80,75.31 L521.15,76.65 L521.58,78.00 L522.10,79.37 L522.10,79.37 L523.31,80.24 L524.57,81.03 L525.89,81.73 L527.25,82.34 L528.65,82.85 L530.07,83.28 L531.53,83.61 L533.00,83.84 L534.49,83.97 L535.98,84.00 L537.46,83.93 L538.94,83.76 L540.41,83.50 L541.86,83.13 L543.27,82.67 L544.66,82.12 L546.00,81.48 L547.30,80.75 L548.55,79.93 L549.74,79.03 L550.86,78.05 L551.92,77.00 L552.91,75.89 L553.81,74.71 L554.64,73.47 L555.39,72.17 L556.04,70.84 L556.61,69.46 L557.08,68.04 L557.45,66.60 L557.73,65.14 L557.91,63.66 L558.00,62.17 L557.98,60.68 L557.86,59.19 L557.64,57.72 L557.33,56.26 L556.92,54.83 L556.41,53.43 L555.81,52.06 L555.12,50.74 L554.35,49.47 L553.49,48.25 L552.55,47.09 L551.54,46.00 L550.45,44.98 L549.30,44.03Z M528.65,82.85 L529.69,81.85 L530.65,80.87 L531.53,79.92 L532.35,78.98 L533.10,78.07 L533.80,77.18 L534.46,76.31 L535.07,75.46 L535.64,74.63 L536.17,73.80 L536.68,73.00 L537.15,72.20 L537.60,71.42 L538.02,70.64 L538.42,69.87 L538.80,69.11 L539.15,68.36 L539.49,67.61 L539.82,66.86 L540.12,66.11 L540.42,65.37 L540.69,64.62 L540.96,63.87 L541.21,63.12 L541.45,62.36 L541.67,61.60 L541.89,60.82 L542.09,60.04 L542.28,59.25 L542.46,58.45 L542.63,57.63 L542.78,56.79 L542.92,55.94 L543.05,55.07 L543.16,54.17 L543.26,53.25 L543.34,52.30 L543.41,51.33 L543.45,50.31 L543.48,49.27 L543.48,48.18 L543.45,47.04 L543.39,45.86 L543.30,44.63 L543.17,43.33 L542.99,41.97 L542.75,40.55 L542.75,40.55 L541.33,40.12 L539.87,39.79 L538.40,39.56 L536.91,39.43 L535.42,39.40 L533.94,39.47 L532.46,39.64 L530.99,39.90 L529.54,40.27 L528.13,40.73 L526.74,41.28 L525.40,41.92 L524.10,42.65 L522.85,43.47 L521.66,44.37 L520.54,45.35 L519.48,46.40 L518.49,47.51 L517.59,48.69 L516.76,49.93 L516.01,51.23 L515.36,52.56 L514.79,53.94 L514.32,55.36 L513.95,56.80 L513.67,58.26 L513.49,59.74 L513.40,61.23 L513.42,62.72 L513.54,64.21 L513.76,65.68 L514.07,67.14 L514.48,68.57 L514.99,69.97 L515.59,71.34 L516.28,72.66 L517.05,73.93 L517.91,75.15 L518.85,76.31 L519.86,77.40 L520.95,78.42 L522.10,79.37 L523.31,80.24 L524.57,81.03 L525.89,81.73 L527.25,82.34 L528.65,82.85Z" fill="#d6d6d6" fill-rule="evenodd"/>
<circle cx="535.7" cy="61.7" r="22.3" fill="none" stroke="#3a3a3a" stroke-width="1.3"/>
<circle cx="550.90" cy="68.90" r="2.4" fill="#000"/>
<circle cx="532.17" cy="61.92" r="2.0" fill="#fff" stroke="#000" stroke-width="1"/>
<circle cx="588.4" cy="61.7" r="22.3" fill="#1e19d2"/>
<path d="M599.94,42.62 L598.53,42.99 L597.20,43.41 L595.95,43.86 L594.76,44.35 L593.64,44.86 L592.58,45.40 L591.57,45.96 L590.62,46.53 L589.71,47.12 L588.85,47.73 L588.03,48.34 L587.25,48.97 L586.50,49.60 L585.79,50.25 L585.11,50.91 L584.47,51.57 L583.85,52.25 L583.26,52.93 L582.69,53.63 L582.15,54.33 L581.63,55.05 L581.13,55.77 L580.66,56.51 L580.21,57.26 L579.77,58.02 L579.36,58.79 L578.97,59.59 L578.60,60.39 L578.25,61.22 L577.92,62.06 L577.61,62.92 L577.32,63.80 L577.05,64.71 L576.81,65.64 L576.59,66.59 L576.40,67.58 L576.23,68.59 L576.10,69.63 L576.00,70.71 L575.93,71.82 L575.91,72.97 L575.92,74.16 L575.99,75.39 L576.11,76.67 L576.29,77.99 L576.54,79.36 L576.86,80.78 L576.86,80.78 L578.16,81.51 L579.51,82.15 L580.89,82.70 L582.31,83.15 L583.76,83.51 L585.23,83.77 L586.71,83.94 L588.20,84.00 L589.69,83.96 L591.17,83.83 L592.64,83.59 L594.09,83.26 L595.52,82.83 L596.92,82.31 L598.28,81.69 L599.59,80.99 L600.85,80.20 L602.06,79.33 L603.21,78.37 L604.29,77.35 L605.30,76.25 L606.23,75.09 L607.09,73.87 L607.86,72.60 L608.54,71.27 L609.14,69.90 L609.64,68.50 L610.04,67.07 L610.35,65.61 L610.57,64.13 L610.68,62.65 L610.69,61.16 L610.61,59.67 L610.42,58.19 L610.14,56.73 L609.76,55.29 L609.28,53.88 L608.71,52.50 L608.05,51.16 L607.31,49.87 L606.47,48.64 L605.56,47.46 L604.57,46.34 L603.51,45.30 L602.38,44.33 L601.19,43.43 L599.94,42.62Z M590.56,83.89 L591.32,82.66 L592.00,81.45 L592.61,80.28 L593.14,79.14 L593.62,78.03 L594.04,76.94 L594.42,75.89 L594.75,74.86 L595.04,73.85 L595.29,72.86 L595.51,71.90 L595.70,70.95 L595.86,70.02 L595.99,69.11 L596.09,68.21 L596.18,67.32 L596.24,66.45 L596.28,65.58 L596.29,64.73 L596.29,63.88 L596.27,63.04 L596.22,62.20 L596.16,61.36 L596.08,60.53 L595.98,59.70 L595.86,58.87 L595.72,58.04 L595.56,57.21 L595.38,56.37 L595.17,55.53 L594.95,54.68 L594.69,53.83 L594.42,52.97 L594.11,52.10 L593.77,51.21 L593.41,50.32 L593.01,49.42 L592.57,48.50 L592.09,47.57 L591.57,46.62 L590.99,45.65 L590.37,44.67 L589.69,43.67 L588.94,42.66 L588.12,41.62 L587.22,40.57 L586.24,39.51 L586.24,39.51 L584.76,39.70 L583.30,39.99 L581.86,40.38 L580.45,40.86 L579.08,41.44 L577.74,42.11 L576.46,42.87 L575.23,43.71 L574.06,44.63 L572.95,45.62 L571.91,46.69 L570.94,47.82 L570.05,49.02 L569.25,50.28 L568.53,51.58 L567.90,52.93 L567.36,54.32 L566.91,55.74 L566.56,57.19 L566.31,58.66 L566.15,60.14 L566.10,61.63 L566.15,63.12 L566.29,64.60 L566.53,66.07 L566.87,67.52 L567.31,68.95 L567.84,70.34 L568.47,71.69 L569.18,73.00 L569.98,74.26 L570.86,75.47 L571.81,76.61 L572.85,77.68 L573.95,78.68 L575.12,79.61 L576.34,80.46 L577.62,81.22 L578.95,81.90 L580.32,82.48 L581.73,82.98 L583.16,83.38 L584.62,83.68 L586.10,83.88 L587.58,83.99 L589.07,83.99 L590.56,83.89Z" fill="#d6d6d6" fill-rule="evenodd"/>
<circle cx="588.4" cy="61.7" r="22.3" fill="none" stroke="#3a3a3a" stroke-width="1.3"/>
<circle cx="608.88" cy="65.96" r="2.4" fill="#000"/>
<circle cx="586.95" cy="65.27" r="2.0" fill="#fff" stroke="#000" stroke-width="1"/>
<circle cx="642.1" cy="61.7" r="22.3" fill="#1e19d2"/>
<path d="M650.68,41.12 L649.29,41.56 L647.98,42.06 L646.74,42.60 L645.57,43.17 L644.47,43.77 L643.43,44.40 L642.45,45.05 L641.52,45.72 L640.65,46.41 L639.82,47.11 L639.04,47.83 L638.30,48.55 L637.60,49.29 L636.94,50.04 L636.31,50.80 L635.73,51.56 L635.17,52.34 L634.65,53.12 L634.15,53.92 L633.69,54.72 L633.26,55.53 L632.85,56.36 L632.47,57.19 L632.12,58.03 L631.79,58.89 L631.50,59.76 L631.22,60.64 L630.98,61.53 L630.76,62.44 L630.57,63.37 L630.41,64.31 L630.28,65.27 L630.18,66.24 L630.12,67.24 L630.08,68.25 L630.09,69.29 L630.13,70.35 L630.22,71.43 L630.34,72.54 L630.52,73.67 L630.75,74.82 L631.04,76.00 L631.38,77.21 L631.80,78.44 L632.29,79.70 L632.86,80.98 L633.52,82.28 L633.52,82.28 L634.91,82.81 L636.34,83.24 L637.79,83.58 L639.26,83.82 L640.75,83.96 L642.24,84.00 L643.73,83.94 L645.21,83.78 L646.68,83.53 L648.12,83.17 L649.54,82.72 L650.93,82.18 L652.28,81.54 L653.58,80.82 L654.83,80.01 L656.03,79.12 L657.16,78.15 L658.22,77.10 L659.22,75.99 L660.13,74.82 L660.97,73.58 L661.72,72.30 L662.39,70.96 L662.96,69.59 L663.44,68.18 L663.82,66.74 L664.11,65.27 L664.30,63.80 L664.39,62.31 L664.38,60.82 L664.27,59.33 L664.07,57.86 L663.76,56.40 L663.36,54.96 L662.86,53.56 L662.27,52.19 L661.59,50.86 L660.82,49.59 L659.97,48.36 L659.04,47.20 L658.03,46.10 L656.96,45.07 L655.81,44.11 L654.61,43.24 L653.35,42.44 L652.04,41.74 L650.68,41.12Z M644.89,83.82 L645.55,82.53 L646.13,81.28 L646.63,80.07 L647.08,78.90 L647.47,77.76 L647.82,76.66 L648.12,75.60 L648.38,74.56 L648.60,73.55 L648.79,72.56 L648.95,71.60 L649.09,70.66 L649.19,69.74 L649.28,68.83 L649.34,67.94 L649.38,67.07 L649.41,66.21 L649.41,65.36 L649.39,64.52 L649.36,63.69 L649.31,62.86 L649.24,62.04 L649.15,61.22 L649.05,60.41 L648.93,59.60 L648.79,58.79 L648.64,57.97 L648.46,57.16 L648.27,56.34 L648.05,55.52 L647.82,54.69 L647.56,53.85 L647.28,53.01 L646.97,52.15 L646.64,51.29 L646.28,50.41 L645.88,49.52 L645.45,48.61 L644.98,47.69 L644.47,46.74 L643.92,45.78 L643.31,44.80 L642.65,43.80 L641.93,42.78 L641.13,41.74 L640.26,40.67 L639.31,39.58 L639.31,39.58 L637.83,39.81 L636.38,40.15 L634.96,40.58 L633.56,41.10 L632.20,41.72 L630.89,42.42 L629.63,43.21 L628.42,44.09 L627.28,45.04 L626.20,46.07 L625.19,47.17 L624.25,48.33 L623.40,49.55 L622.63,50.83 L621.95,52.15 L621.36,53.52 L620.86,54.92 L620.45,56.36 L620.14,57.81 L619.93,59.29 L619.82,60.77 L619.81,62.27 L619.89,63.75 L620.08,65.23 L620.37,66.69 L620.75,68.13 L621.23,69.55 L621.80,70.92 L622.46,72.26 L623.21,73.55 L624.04,74.78 L624.95,75.96 L625.95,77.07 L627.01,78.12 L628.14,79.09 L629.33,79.98 L630.58,80.79 L631.88,81.52 L633.23,82.16 L634.62,82.71 L636.03,83.16 L637.48,83.52 L638.95,83.78 L640.43,83.94 L641.92,84.00 L643.41,83.96 L644.89,83.82Z" fill="#d6d6d6" fill-rule="evenodd"/>
<circle cx="642.1" cy="61.7" r="22.3" fill="none" stroke="#3a3a3a" stroke-width="1.3"/>
<circle cx="661.33" cy="63.63" r="2.4" fill="#000"/>
<circle cx="640.25" cy="64.48" r="2.0" fill="#fff" stroke="#000" stroke-width="1"/>
<circle cx="67" cy="113.2" r="22.3" fill="#1ed71e"/>
<path d="M57.30,93.12 L57.29,94.57 L57.32,95.94 L57.39,97.24 L57.48,98.47 L57.60,99.64 L57.74,100.76 L57.90,101.83 L58.08,102.86 L58.27,103.85 L58.47,104.80 L58.69,105.73 L58.91,106.62 L59.15,107.48 L59.40,108.32 L59.65,109.14 L59.92,109.95 L60.19,110.73 L60.47,111.50 L60.77,112.25 L61.07,112.99 L61.38,113.73 L61.70,114.45 L62.03,115.16 L62.37,115.87 L62.73,116.58 L63.10,117.28 L63.48,117.98 L63.87,118.68 L64.28,119.37 L64.71,120.07 L65.15,120.77 L65.61,121.48 L66.10,122.19 L66.60,122.90 L67.13,123.63 L67.69,124.36 L68.28,125.10 L68.90,125.85 L69.56,126.61 L70.26,127.39 L71.00,128.18 L71.79,128.99 L72.63,129.81 L73.54,130.65 L74.51,131.51 L75.57,132.38 L76.70,133.28 L76.70,133.28 L78.02,132.58 L79.29,131.80 L80.51,130.94 L81.66,130.00 L82.75,128.98 L83.77,127.90 L84.72,126.74 L85.58,125.53 L86.36,124.26 L87.06,122.94 L87.67,121.58 L88.18,120.18 L88.60,118.75 L88.92,117.30 L89.15,115.82 L89.27,114.34 L89.30,112.85 L89.22,111.36 L89.05,109.88 L88.78,108.41 L88.41,106.97 L87.95,105.55 L87.39,104.17 L86.74,102.83 L86.01,101.53 L85.18,100.29 L84.28,99.11 L83.30,97.98 L82.25,96.93 L81.13,95.95 L79.94,95.04 L78.70,94.22 L77.41,93.48 L76.07,92.83 L74.69,92.27 L73.27,91.80 L71.83,91.43 L70.36,91.15 L68.88,90.98 L67.39,90.90 L65.90,90.93 L64.42,91.05 L62.94,91.27 L61.49,91.59 L60.06,92.01 L58.66,92.52 L57.30,93.12Z M47.59,124.18 L48.92,123.62 L50.17,123.10 L51.35,122.59 L52.45,122.10 L53.51,121.63 L54.51,121.17 L55.46,120.73 L56.37,120.30 L57.25,119.88 L58.10,119.47 L58.91,119.07 L59.70,118.68 L60.47,118.29 L61.22,117.91 L61.95,117.54 L62.66,117.17 L63.36,116.80 L64.05,116.43 L64.72,116.07 L65.39,115.70 L66.06,115.34 L66.71,114.98 L67.37,114.61 L68.02,114.24 L68.67,113.87 L69.32,113.49 L69.97,113.11 L70.63,112.73 L71.29,112.34 L71.96,111.93 L72.64,111.52 L73.32,111.11 L74.02,110.67 L74.73,110.23 L75.46,109.77 L76.20,109.30 L76.96,108.80 L77.75,108.29 L78.56,107.75 L79.40,107.19 L80.27,106.60 L81.18,105.98 L82.12,105.32 L83.11,104.63 L84.15,103.88 L85.25,103.08 L86.41,102.22 L86.41,102.22 L85.64,100.95 L84.78,99.73 L83.84,98.58 L82.82,97.49 L81.74,96.46 L80.59,95.52 L79.38,94.65 L78.11,93.86 L76.79,93.16 L75.43,92.56 L74.03,92.04 L72.61,91.62 L71.15,91.29 L69.68,91.06 L68.19,90.93 L66.70,90.90 L65.22,90.97 L63.73,91.14 L62.27,91.41 L60.82,91.77 L59.41,92.23 L58.02,92.79 L56.68,93.43 L55.38,94.17 L54.14,94.98 L52.95,95.88 L51.82,96.86 L50.77,97.91 L49.78,99.03 L48.87,100.21 L48.05,101.45 L47.30,102.74 L46.65,104.08 L46.09,105.46 L45.62,106.88 L45.24,108.32 L44.96,109.78 L44.78,111.26 L44.70,112.75 L44.72,114.24 L44.84,115.73 L45.06,117.20 L45.38,118.66 L45.79,120.09 L46.30,121.49 L46.90,122.85 L47.59,124.18Z" fill="#d6d6d6" fill-rule="evenodd"/>
<circle cx="67" cy="113.2" r="22.3" fill="none" stroke="#3a3a3a" stroke-width="1.3"/>
<circle cx="83.54" cy="119.29" r="2.4" fill="#000"/>
<circle cx="70.52" cy="99.19" r="2.0" fill="#fff" stroke="#000" stroke-width="1"/>
<circle cx="117.4" cy="113.2" r="22.3" fill="#1ed71e"/>
<path d="M104.33,95.13 L104.83,96.49 L105.32,97.75 L105.81,98.95 L106.28,100.07 L106.75,101.13 L107.22,102.14 L107.67,103.09 L108.13,104.01 L108.57,104.89 L109.01,105.73 L109.45,106.54 L109.88,107.32 L110.31,108.08 L110.74,108.81 L111.16,109.53 L111.59,110.22 L112.02,110.90 L112.44,111.57 L112.87,112.22 L113.30,112.87 L113.73,113.50 L114.17,114.13 L114.61,114.75 L115.05,115.37 L115.50,115.98 L115.96,116.59 L116.43,117.20 L116.91,117.81 L117.40,118.42 L117.90,119.03 L118.41,119.65 L118.94,120.27 L119.48,120.90 L120.05,121.54 L120.63,122.18 L121.24,122.84 L121.87,123.51 L122.53,124.19 L123.22,124.89 L123.95,125.60 L124.72,126.34 L125.53,127.09 L126.39,127.87 L127.31,128.67 L128.29,129.51 L129.34,130.37 L130.47,131.27 L130.47,131.27 L131.65,130.36 L132.76,129.37 L133.81,128.30 L134.78,127.18 L135.67,125.98 L136.49,124.73 L137.21,123.43 L137.85,122.09 L138.40,120.70 L138.85,119.28 L139.21,117.84 L139.47,116.37 L139.64,114.89 L139.70,113.40 L139.66,111.91 L139.53,110.42 L139.29,108.95 L138.96,107.50 L138.53,106.07 L138.01,104.68 L137.39,103.32 L136.69,102.01 L135.90,100.74 L135.02,99.54 L134.07,98.39 L133.04,97.31 L131.95,96.30 L130.79,95.37 L129.57,94.51 L128.29,93.74 L126.97,93.06 L125.60,92.46 L124.20,91.96 L122.76,91.55 L121.30,91.24 L119.83,91.03 L118.34,90.92 L116.85,90.91 L115.37,90.99 L113.89,91.18 L112.42,91.46 L110.98,91.84 L109.57,92.32 L108.19,92.89 L106.86,93.55 L105.57,94.30 L104.33,95.13Z M99.72,126.80 L100.95,126.03 L102.10,125.31 L103.17,124.62 L104.19,123.96 L105.15,123.33 L106.07,122.72 L106.94,122.13 L107.77,121.57 L108.58,121.02 L109.35,120.49 L110.09,119.97 L110.81,119.46 L111.51,118.97 L112.19,118.48 L112.86,118.00 L113.51,117.53 L114.15,117.06 L114.77,116.60 L115.39,116.14 L116.00,115.69 L116.60,115.23 L117.20,114.78 L117.79,114.32 L118.39,113.87 L118.98,113.41 L119.57,112.95 L120.16,112.48 L120.76,112.01 L121.36,111.53 L121.97,111.04 L122.58,110.55 L123.20,110.04 L123.84,109.52 L124.48,108.99 L125.14,108.44 L125.82,107.87 L126.51,107.29 L127.22,106.68 L127.96,106.04 L128.72,105.38 L129.51,104.69 L130.33,103.96 L131.19,103.19 L132.09,102.38 L133.03,101.51 L134.02,100.59 L135.08,99.60 L135.08,99.60 L134.13,98.45 L133.11,97.37 L132.01,96.36 L130.86,95.42 L129.64,94.56 L128.37,93.78 L127.04,93.09 L125.68,92.49 L124.28,91.99 L122.85,91.58 L121.39,91.26 L119.91,91.04 L118.43,90.92 L116.94,90.90 L115.45,90.99 L113.97,91.17 L112.51,91.44 L111.06,91.82 L109.65,92.29 L108.27,92.85 L106.93,93.51 L105.64,94.25 L104.40,95.08 L103.22,95.99 L102.10,96.97 L101.05,98.03 L100.08,99.16 L99.18,100.35 L98.36,101.59 L97.63,102.89 L96.98,104.23 L96.43,105.62 L95.97,107.04 L95.61,108.48 L95.34,109.95 L95.17,111.43 L95.10,112.92 L95.13,114.41 L95.26,115.89 L95.49,117.36 L95.82,118.82 L96.24,120.25 L96.76,121.64 L97.37,123.00 L98.07,124.32 L98.86,125.59 L99.72,126.80Z" fill="#d6d6d6" fill-rule="evenodd"/>
<circle cx="117.4" cy="113.2" r="22.3" fill="none" stroke="#3a3a3a" stroke-width="1.3"/>
<circle cx="136.80" cy="116.36" r="2.4" fill="#000"/>
<circle cx="119.53" cy="96.41" r="2.0" fill="#fff" stroke="#000" stroke-width="1"/>
<circle cx="168.6" cy="113.2" r="22.3" fill="#1ed71e"/>
<path d="M155.94,94.84 L156.47,96.19 L156.98,97.44 L157.48,98.63 L157.97,99.74 L158.45,100.79 L158.92,101.79 L159.39,102.74 L159.84,103.65 L160.29,104.53 L160.72,105.36 L161.16,106.17 L161.59,106.95 L162.01,107.71 L162.43,108.44 L162.85,109.15 L163.27,109.85 L163.68,110.53 L164.10,111.20 L164.51,111.86 L164.93,112.51 L165.34,113.14 L165.77,113.78 L166.19,114.40 L166.62,115.02 L167.05,115.64 L167.50,116.26 L167.94,116.88 L168.40,117.50 L168.87,118.12 L169.35,118.75 L169.83,119.38 L170.34,120.01 L170.86,120.66 L171.39,121.31 L171.95,121.98 L172.53,122.65 L173.13,123.35 L173.75,124.05 L174.41,124.78 L175.10,125.53 L175.82,126.30 L176.59,127.09 L177.41,127.92 L178.27,128.77 L179.20,129.66 L180.19,130.59 L181.26,131.56 L181.26,131.56 L182.46,130.67 L183.59,129.71 L184.66,128.67 L185.66,127.56 L186.58,126.39 L187.42,125.16 L188.18,123.88 L188.85,122.54 L189.43,121.17 L189.91,119.76 L190.30,118.32 L190.60,116.86 L190.79,115.38 L190.89,113.90 L190.89,112.41 L190.78,110.92 L190.58,109.44 L190.28,107.98 L189.88,106.55 L189.39,105.14 L188.81,103.77 L188.13,102.44 L187.37,101.16 L186.52,99.93 L185.60,98.77 L184.60,97.66 L183.52,96.63 L182.38,95.67 L181.18,94.79 L179.92,93.99 L178.61,93.28 L177.26,92.65 L175.87,92.12 L174.45,91.68 L173.00,91.34 L171.53,91.09 L170.04,90.95 L168.55,90.90 L167.06,90.95 L165.58,91.11 L164.11,91.36 L162.66,91.70 L161.24,92.15 L159.85,92.69 L158.50,93.32 L157.19,94.04 L155.94,94.84Z M150.80,126.63 L152.08,125.97 L153.28,125.33 L154.41,124.72 L155.47,124.13 L156.47,123.56 L157.42,123.01 L158.33,122.47 L159.20,121.95 L160.03,121.44 L160.82,120.94 L161.59,120.45 L162.34,119.97 L163.06,119.50 L163.76,119.03 L164.44,118.57 L165.11,118.12 L165.76,117.67 L166.40,117.22 L167.03,116.77 L167.65,116.33 L168.27,115.88 L168.87,115.43 L169.48,114.98 L170.08,114.53 L170.67,114.08 L171.27,113.61 L171.87,113.15 L172.47,112.67 L173.07,112.19 L173.68,111.69 L174.29,111.19 L174.91,110.67 L175.54,110.14 L176.18,109.60 L176.83,109.03 L177.49,108.45 L178.17,107.84 L178.87,107.21 L179.59,106.55 L180.33,105.86 L181.09,105.14 L181.89,104.37 L182.71,103.57 L183.57,102.71 L184.47,101.79 L185.41,100.82 L186.40,99.77 L186.40,99.77 L185.46,98.61 L184.45,97.51 L183.37,96.49 L182.22,95.54 L181.01,94.67 L179.74,93.88 L178.43,93.18 L177.07,92.57 L175.67,92.05 L174.24,91.63 L172.79,91.30 L171.32,91.07 L169.83,90.93 L168.34,90.90 L166.85,90.97 L165.37,91.13 L163.91,91.40 L162.46,91.76 L161.04,92.22 L159.66,92.77 L158.31,93.41 L157.01,94.15 L155.77,94.96 L154.58,95.86 L153.45,96.83 L152.39,97.88 L151.41,99.00 L150.50,100.18 L149.67,101.42 L148.92,102.71 L148.26,104.05 L147.70,105.43 L147.23,106.84 L146.85,108.28 L146.57,109.75 L146.39,111.22 L146.31,112.71 L146.32,114.20 L146.44,115.69 L146.65,117.16 L146.97,118.62 L147.38,120.05 L147.88,121.45 L148.48,122.82 L149.17,124.14 L149.94,125.42 L150.80,126.63Z" fill="#d6d6d6" fill-rule="evenodd"/>
<circle cx="168.6" cy="113.2" r="22.3" fill="none" stroke="#3a3a3a" stroke-width="1.3"/>
<circle cx="189.65" cy="116.74" r="2.4" fill="#000"/>
<circle cx="171.13" cy="96.84" r="2.0" fill="#fff" stroke="#000" stroke-width="1"/>
<circle cx="219.5" cy="113.2" r="22.3" fill="#1e19d2"/>
<path d="M228.34,133.67 L228.37,132.23 L228.36,130.86 L228.31,129.57 L228.24,128.33 L228.15,127.16 L228.03,126.04 L227.90,124.97 L227.75,123.94 L227.59,122.95 L227.42,122.00 L227.23,121.08 L227.03,120.18 L226.82,119.32 L226.61,118.47 L226.38,117.65 L226.14,116.84 L225.90,116.05 L225.65,115.28 L225.38,114.52 L225.11,113.77 L224.83,113.03 L224.54,112.30 L224.24,111.58 L223.93,110.86 L223.61,110.15 L223.28,109.43 L222.93,108.72 L222.58,108.01 L222.20,107.30 L221.81,106.59 L221.41,105.87 L220.98,105.14 L220.54,104.41 L220.07,103.68 L219.59,102.93 L219.07,102.17 L218.53,101.40 L217.95,100.62 L217.34,99.82 L216.70,99.01 L216.01,98.18 L215.27,97.33 L214.49,96.46 L213.64,95.56 L212.72,94.64 L211.74,93.70 L210.66,92.73 L210.66,92.73 L209.32,93.36 L208.01,94.09 L206.76,94.90 L205.57,95.79 L204.44,96.76 L203.37,97.80 L202.38,98.91 L201.46,100.09 L200.63,101.32 L199.88,102.61 L199.21,103.94 L198.64,105.32 L198.16,106.73 L197.77,108.17 L197.49,109.63 L197.30,111.11 L197.21,112.60 L197.22,114.09 L197.33,115.57 L197.53,117.05 L197.84,118.51 L198.24,119.94 L198.74,121.35 L199.33,122.72 L200.01,124.04 L200.78,125.32 L201.63,126.54 L202.56,127.71 L203.57,128.80 L204.65,129.83 L205.79,130.79 L207.00,131.67 L208.26,132.46 L209.57,133.17 L210.93,133.79 L212.32,134.31 L213.75,134.74 L215.20,135.08 L216.67,135.32 L218.15,135.46 L219.64,135.50 L221.13,135.44 L222.61,135.28 L224.08,135.02 L225.53,134.67 L226.95,134.22 L228.34,133.67Z M238.03,100.79 L236.62,101.12 L235.30,101.47 L234.06,101.82 L232.89,102.18 L231.78,102.55 L230.72,102.92 L229.72,103.29 L228.76,103.66 L227.84,104.04 L226.96,104.41 L226.11,104.79 L225.29,105.17 L224.49,105.55 L223.72,105.93 L222.97,106.32 L222.24,106.71 L221.53,107.10 L220.83,107.49 L220.15,107.89 L219.48,108.29 L218.81,108.70 L218.16,109.12 L217.51,109.54 L216.87,109.97 L216.24,110.41 L215.60,110.85 L214.97,111.31 L214.34,111.78 L213.71,112.26 L213.08,112.76 L212.45,113.27 L211.81,113.80 L211.17,114.34 L210.53,114.91 L209.87,115.50 L209.21,116.11 L208.54,116.76 L207.85,117.43 L207.16,118.14 L206.45,118.88 L205.72,119.67 L204.98,120.51 L204.22,121.39 L203.44,122.34 L202.64,123.35 L201.82,124.44 L200.97,125.61 L200.97,125.61 L201.85,126.82 L202.79,127.97 L203.82,129.06 L204.91,130.07 L206.07,131.00 L207.29,131.86 L208.56,132.63 L209.89,133.32 L211.25,133.92 L212.65,134.42 L214.09,134.83 L215.54,135.15 L217.02,135.36 L218.51,135.48 L220.00,135.49 L221.48,135.41 L222.96,135.23 L224.43,134.95 L225.87,134.57 L227.28,134.10 L228.66,133.53 L230.00,132.87 L231.29,132.13 L232.53,131.30 L233.71,130.39 L234.82,129.40 L235.87,128.34 L236.85,127.22 L237.74,126.03 L238.56,124.78 L239.29,123.48 L239.93,122.14 L240.48,120.75 L240.94,119.33 L241.30,117.89 L241.57,116.42 L241.73,114.94 L241.80,113.45 L241.77,111.96 L241.63,110.48 L241.40,109.00 L241.07,107.55 L240.65,106.12 L240.13,104.72 L239.51,103.37 L238.81,102.05 L238.03,100.79Z" fill="#d6d6d6" fill-rule="evenodd"/>
<circle cx="219.5" cy="113.2" r="22.3" fill="none" stroke="#3a3a3a" stroke-width="1.3"/>
<circle cx="199.19" cy="106.93" r="2.4" fill="#000"/>
<circle cx="216.35" cy="124.69" r="2.0" fill="#fff" stroke="#000" stroke-width="1"/>
<circle cx="270.8" cy="113.2" r="22.3" fill="#1ed71e"/>
<path d="M289.87,101.65 L288.45,101.91 L287.12,102.20 L285.86,102.49 L284.67,102.80 L283.55,103.11 L282.48,103.43 L281.46,103.75 L280.48,104.08 L279.55,104.41 L278.65,104.75 L277.78,105.08 L276.94,105.42 L276.13,105.77 L275.34,106.11 L274.58,106.47 L273.83,106.82 L273.10,107.18 L272.38,107.54 L271.68,107.91 L270.99,108.28 L270.31,108.66 L269.63,109.04 L268.97,109.43 L268.31,109.83 L267.65,110.24 L267.00,110.66 L266.35,111.09 L265.70,111.53 L265.05,111.98 L264.40,112.45 L263.74,112.93 L263.08,113.43 L262.42,113.94 L261.74,114.48 L261.06,115.04 L260.37,115.63 L259.67,116.24 L258.96,116.88 L258.23,117.56 L257.49,118.27 L256.73,119.03 L255.95,119.83 L255.16,120.68 L254.34,121.59 L253.49,122.57 L252.62,123.62 L251.73,124.75 L251.73,124.75 L252.54,126.00 L253.44,127.19 L254.41,128.32 L255.46,129.38 L256.57,130.37 L257.75,131.28 L258.99,132.11 L260.28,132.86 L261.61,133.52 L262.99,134.09 L264.40,134.56 L265.85,134.94 L267.31,135.23 L268.79,135.41 L270.28,135.49 L271.77,135.48 L273.25,135.36 L274.73,135.15 L276.18,134.84 L277.62,134.43 L279.02,133.93 L280.39,133.33 L281.71,132.65 L282.99,131.88 L284.21,131.02 L285.37,130.09 L286.46,129.08 L287.49,127.99 L288.44,126.85 L289.31,125.64 L290.10,124.37 L290.80,123.06 L291.42,121.70 L291.94,120.31 L292.37,118.88 L292.70,117.42 L292.93,115.95 L293.06,114.47 L293.10,112.98 L293.03,111.49 L292.87,110.01 L292.61,108.54 L292.25,107.10 L291.79,105.68 L291.24,104.29 L290.60,102.95 L289.87,101.65Z M279.74,133.63 L279.61,132.19 L279.45,130.84 L279.27,129.56 L279.09,128.35 L278.89,127.20 L278.68,126.11 L278.47,125.07 L278.25,124.07 L278.02,123.11 L277.79,122.18 L277.55,121.29 L277.31,120.42 L277.06,119.58 L276.81,118.76 L276.55,117.97 L276.29,117.19 L276.03,116.42 L275.76,115.67 L275.49,114.94 L275.20,114.21 L274.92,113.49 L274.63,112.78 L274.33,112.07 L274.02,111.37 L273.70,110.67 L273.38,109.98 L273.05,109.28 L272.70,108.58 L272.35,107.88 L271.98,107.17 L271.60,106.46 L271.20,105.74 L270.79,105.01 L270.36,104.27 L269.91,103.52 L269.44,102.76 L268.94,101.97 L268.42,101.18 L267.87,100.36 L267.28,99.52 L266.66,98.65 L266.00,97.76 L265.29,96.83 L264.53,95.88 L263.71,94.88 L262.82,93.85 L261.86,92.77 L261.86,92.77 L260.51,93.42 L259.21,94.15 L257.97,94.96 L256.78,95.86 L255.65,96.84 L254.59,97.88 L253.60,99.00 L252.69,100.18 L251.87,101.42 L251.12,102.71 L250.46,104.05 L249.90,105.43 L249.43,106.84 L249.05,108.28 L248.77,109.75 L248.59,111.23 L248.51,112.71 L248.52,114.20 L248.64,115.69 L248.86,117.16 L249.17,118.62 L249.58,120.05 L250.08,121.46 L250.68,122.82 L251.37,124.14 L252.14,125.42 L253.00,126.64 L253.94,127.79 L254.95,128.89 L256.03,129.91 L257.18,130.86 L258.39,131.73 L259.66,132.52 L260.97,133.22 L262.33,133.83 L263.73,134.35 L265.16,134.77 L266.61,135.10 L268.08,135.33 L269.57,135.47 L271.06,135.50 L272.55,135.43 L274.03,135.27 L275.50,135.00 L276.94,134.64 L278.36,134.18 L279.74,133.63Z" fill="#d6d6d6" fill-rule="evenodd"/>
<circle cx="270.8" cy="113.2" r="22.3" fill="none" stroke="#3a3a3a" stroke-width="1.3"/>
<circle cx="291.51" cy="119.61" r="2.4" fill="#000"/>
<circle cx="266.71" cy="125.72" r="2.0" fill="#fff" stroke="#000" stroke-width="1"/>
<circle cx="324.7" cy="113.2" r="22.3" fill="#1ed71e"/>
<path d="M335.07,132.94 L334.90,131.51 L334.71,130.16 L334.51,128.88 L334.28,127.67 L334.05,126.53 L333.81,125.44 L333.55,124.40 L333.29,123.40 L333.02,122.44 L332.75,121.52 L332.47,120.63 L332.18,119.77 L331.89,118.94 L331.60,118.13 L331.30,117.34 L330.99,116.57 L330.68,115.82 L330.36,115.08 L330.04,114.35 L329.71,113.64 L329.37,112.93 L329.03,112.24 L328.68,111.55 L328.32,110.86 L327.95,110.18 L327.57,109.50 L327.18,108.83 L326.78,108.15 L326.37,107.47 L325.94,106.79 L325.50,106.11 L325.04,105.42 L324.56,104.72 L324.06,104.02 L323.54,103.31 L322.99,102.59 L322.42,101.85 L321.82,101.10 L321.18,100.34 L320.51,99.56 L319.80,98.76 L319.04,97.94 L318.23,97.09 L317.36,96.22 L316.43,95.33 L315.42,94.41 L314.33,93.46 L314.33,93.46 L313.04,94.19 L311.79,95.01 L310.61,95.92 L309.48,96.90 L308.43,97.95 L307.45,99.07 L306.54,100.25 L305.72,101.50 L304.98,102.79 L304.33,104.13 L303.77,105.51 L303.30,106.93 L302.93,108.37 L302.66,109.83 L302.48,111.31 L302.40,112.80 L302.43,114.29 L302.55,115.78 L302.77,117.25 L303.09,118.71 L303.51,120.14 L304.02,121.54 L304.62,122.90 L305.31,124.22 L306.09,125.49 L306.96,126.71 L307.90,127.86 L308.91,128.95 L310.00,129.97 L311.15,130.91 L312.37,131.78 L313.64,132.56 L314.95,133.26 L316.32,133.86 L317.72,134.38 L319.15,134.80 L320.60,135.12 L322.07,135.34 L323.56,135.47 L325.05,135.50 L326.54,135.42 L328.02,135.25 L329.48,134.98 L330.93,134.61 L332.34,134.15 L333.73,133.59 L335.07,132.94Z M343.28,100.87 L341.92,101.35 L340.65,101.83 L339.45,102.30 L338.32,102.76 L337.26,103.21 L336.25,103.66 L335.28,104.10 L334.36,104.53 L333.48,104.95 L332.63,105.37 L331.81,105.78 L331.02,106.20 L330.25,106.60 L329.51,107.01 L328.79,107.41 L328.08,107.81 L327.39,108.21 L326.71,108.62 L326.04,109.02 L325.39,109.42 L324.74,109.83 L324.10,110.24 L323.46,110.65 L322.83,111.07 L322.21,111.50 L321.58,111.93 L320.95,112.37 L320.33,112.81 L319.70,113.27 L319.06,113.74 L318.42,114.22 L317.78,114.72 L317.13,115.23 L316.46,115.76 L315.79,116.30 L315.11,116.87 L314.41,117.46 L313.69,118.08 L312.96,118.73 L312.20,119.42 L311.42,120.13 L310.62,120.89 L309.79,121.70 L308.93,122.56 L308.03,123.48 L307.10,124.47 L306.12,125.53 L306.12,125.53 L306.99,126.75 L307.93,127.90 L308.95,128.99 L310.04,130.00 L311.19,130.94 L312.41,131.81 L313.68,132.59 L315.00,133.28 L316.36,133.88 L317.76,134.39 L319.19,134.81 L320.65,135.13 L322.12,135.35 L323.61,135.47 L325.10,135.50 L326.59,135.42 L328.07,135.24 L329.53,134.97 L330.97,134.60 L332.39,134.13 L333.77,133.57 L335.11,132.92 L336.40,132.18 L337.65,131.36 L338.83,130.45 L339.95,129.47 L341.00,128.41 L341.98,127.29 L342.89,126.11 L343.71,124.86 L344.44,123.57 L345.09,122.22 L345.65,120.84 L346.11,119.43 L346.48,117.98 L346.75,116.52 L346.92,115.04 L347.00,113.55 L346.97,112.06 L346.84,110.57 L346.62,109.10 L346.30,107.64 L345.88,106.21 L345.36,104.82 L344.76,103.45 L344.06,102.14 L343.28,100.87Z" fill="#d6d6d6" fill-rule="evenodd"/>
<circle cx="324.7" cy="113.2" r="22.3" fill="none" stroke="#3a3a3a" stroke-width="1.3"/>
<circle cx="305.01" cy="107.75" r="2.4" fill="#000"/>
<circle cx="321.56" cy="126.79" r="2.0" fill="#fff" stroke="#000" stroke-width="1"/>
<circle cx="378.6" cy="113.2" r="22.3" fill="#1e19d2"/>
<path d="M387.66,133.58 L388.25,132.24 L388.76,130.94 L389.18,129.66 L389.54,128.41 L389.82,127.20 L390.05,126.01 L390.23,124.86 L390.36,123.73 L390.44,122.63 L390.48,121.56 L390.48,120.51 L390.45,119.48 L390.38,118.48 L390.28,117.50 L390.14,116.54 L389.98,115.60 L389.80,114.67 L389.58,113.77 L389.34,112.88 L389.08,112.00 L388.78,111.14 L388.47,110.29 L388.13,109.46 L387.76,108.63 L387.37,107.82 L386.95,107.02 L386.51,106.22 L386.03,105.44 L385.53,104.66 L385.00,103.90 L384.44,103.14 L383.85,102.39 L383.23,101.65 L382.57,100.92 L381.87,100.20 L381.13,99.48 L380.35,98.78 L379.53,98.09 L378.65,97.42 L377.73,96.76 L376.76,96.11 L375.72,95.49 L374.63,94.89 L373.46,94.32 L372.23,93.78 L370.92,93.28 L369.54,92.82 L369.54,92.82 L368.20,93.47 L366.90,94.21 L365.66,95.04 L364.48,95.94 L363.36,96.92 L362.30,97.98 L361.32,99.10 L360.42,100.29 L359.60,101.53 L358.86,102.83 L358.21,104.17 L357.65,105.55 L357.19,106.96 L356.82,108.41 L356.55,109.87 L356.38,111.35 L356.30,112.84 L356.33,114.33 L356.45,115.82 L356.68,117.29 L357.00,118.75 L357.42,120.18 L357.93,121.58 L358.54,122.94 L359.23,124.26 L360.02,125.52 L360.88,126.74 L361.82,127.89 L362.84,128.98 L363.93,130.00 L365.09,130.94 L366.30,131.80 L367.57,132.58 L368.89,133.28 L370.25,133.88 L371.65,134.39 L373.08,134.81 L374.54,135.13 L376.01,135.35 L377.50,135.47 L378.99,135.50 L380.48,135.42 L381.96,135.25 L383.42,134.97 L384.87,134.60 L386.28,134.14 L387.66,133.58Z M374.90,91.21 L374.20,92.48 L373.57,93.72 L373.03,94.92 L372.54,96.09 L372.12,97.23 L371.75,98.33 L371.43,99.42 L371.16,100.47 L370.92,101.50 L370.72,102.50 L370.56,103.48 L370.42,104.45 L370.32,105.39 L370.24,106.32 L370.19,107.23 L370.16,108.13 L370.16,109.01 L370.17,109.88 L370.21,110.75 L370.27,111.60 L370.35,112.45 L370.45,113.29 L370.57,114.12 L370.71,114.95 L370.87,115.78 L371.05,116.61 L371.25,117.44 L371.47,118.26 L371.72,119.09 L371.99,119.92 L372.28,120.76 L372.60,121.59 L372.95,122.44 L373.33,123.29 L373.73,124.15 L374.18,125.01 L374.65,125.89 L375.17,126.77 L375.73,127.67 L376.33,128.57 L376.99,129.49 L377.70,130.41 L378.47,131.35 L379.31,132.30 L380.22,133.26 L381.21,134.22 L382.30,135.19 L382.30,135.19 L383.76,134.90 L385.19,134.50 L386.60,134.01 L387.98,133.43 L389.31,132.76 L390.59,132.00 L391.82,131.16 L392.99,130.24 L394.09,129.24 L395.13,128.17 L396.09,127.03 L396.98,125.83 L397.78,124.58 L398.50,123.27 L399.13,121.92 L399.66,120.53 L400.10,119.10 L400.45,117.65 L400.70,116.19 L400.85,114.70 L400.90,113.21 L400.85,111.72 L400.70,110.24 L400.46,108.77 L400.11,107.32 L399.67,105.90 L399.14,104.51 L398.51,103.15 L397.79,101.85 L396.99,100.59 L396.11,99.39 L395.15,98.25 L394.11,97.18 L393.01,96.18 L391.84,95.25 L390.61,94.41 L389.33,93.65 L388.00,92.98 L386.63,92.39 L385.22,91.91 L383.78,91.51 L382.32,91.21 L380.85,91.01 L379.36,90.91 L377.87,90.91 L376.38,91.01 L374.90,91.21Z" fill="#d6d6d6" fill-rule="evenodd"/>
<circle cx="378.6" cy="113.2" r="22.3" fill="none" stroke="#3a3a3a" stroke-width="1.3"/>
<circle cx="358.90" cy="118.91" r="2.4" fill="#000"/>
<circle cx="379.88" cy="114.29" r="2.0" fill="#fff" stroke="#000" stroke-width="1"/>
<circle cx="431.7" cy="113.2" r="22.3" fill="#1e19d2"/>
<path d="M419.94,132.15 L421.41,132.25 L422.83,132.27 L424.22,132.21 L425.57,132.08 L426.87,131.88 L428.13,131.62 L429.35,131.30 L430.52,130.93 L431.65,130.51 L432.74,130.04 L433.79,129.53 L434.79,128.99 L435.75,128.41 L436.68,127.79 L437.56,127.15 L438.40,126.47 L439.21,125.76 L439.98,125.03 L440.71,124.27 L441.40,123.48 L442.05,122.67 L442.67,121.84 L443.26,120.98 L443.80,120.10 L444.31,119.20 L444.79,118.27 L445.22,117.33 L445.62,116.36 L445.97,115.36 L446.29,114.35 L446.56,113.32 L446.80,112.26 L446.98,111.18 L447.13,110.08 L447.22,108.96 L447.26,107.82 L447.25,106.66 L447.19,105.48 L447.06,104.28 L446.87,103.06 L446.62,101.83 L446.29,100.58 L445.89,99.33 L445.42,98.06 L444.85,96.79 L444.20,95.52 L443.46,94.25 L443.46,94.25 L442.17,93.51 L440.83,92.85 L439.45,92.29 L438.04,91.82 L436.59,91.44 L435.13,91.17 L433.65,90.99 L432.16,90.90 L430.67,90.92 L429.19,91.04 L427.71,91.26 L426.25,91.58 L424.82,91.99 L423.42,92.49 L422.06,93.09 L420.73,93.78 L419.46,94.56 L418.24,95.42 L417.09,96.36 L415.99,97.37 L414.97,98.45 L414.02,99.60 L413.16,100.81 L412.37,102.08 L411.67,103.40 L411.06,104.76 L410.54,106.15 L410.12,107.58 L409.79,109.04 L409.56,110.51 L409.43,111.99 L409.40,113.48 L409.47,114.97 L409.64,116.45 L409.91,117.92 L410.27,119.37 L410.73,120.78 L411.28,122.17 L411.93,123.51 L412.66,124.81 L413.48,126.05 L414.38,127.24 L415.35,128.37 L416.40,129.43 L417.52,130.41 L418.70,131.32 L419.94,132.15Z M441.95,93.39 L440.80,94.28 L439.74,95.14 L438.75,95.98 L437.84,96.81 L436.98,97.62 L436.18,98.41 L435.43,99.18 L434.72,99.95 L434.05,100.70 L433.41,101.43 L432.81,102.16 L432.24,102.88 L431.70,103.59 L431.18,104.29 L430.68,104.99 L430.20,105.68 L429.75,106.37 L429.30,107.05 L428.88,107.74 L428.47,108.42 L428.07,109.11 L427.69,109.80 L427.32,110.49 L426.96,111.19 L426.61,111.89 L426.27,112.60 L425.94,113.32 L425.61,114.05 L425.30,114.80 L424.99,115.55 L424.70,116.32 L424.41,117.11 L424.13,117.92 L423.85,118.75 L423.59,119.61 L423.33,120.49 L423.09,121.40 L422.85,122.34 L422.62,123.32 L422.41,124.34 L422.21,125.40 L422.03,126.51 L421.86,127.68 L421.72,128.90 L421.60,130.20 L421.51,131.56 L421.45,133.01 L421.45,133.01 L422.80,133.65 L424.18,134.20 L425.60,134.65 L427.05,135.01 L428.52,135.27 L430.00,135.43 L431.49,135.50 L432.98,135.46 L434.46,135.33 L435.93,135.09 L437.39,134.76 L438.81,134.33 L440.21,133.81 L441.57,133.20 L442.88,132.49 L444.14,131.70 L445.35,130.83 L446.50,129.88 L447.58,128.86 L448.59,127.76 L449.53,126.60 L450.38,125.38 L451.15,124.10 L451.84,122.78 L452.43,121.41 L452.93,120.01 L453.34,118.58 L453.65,117.12 L453.87,115.64 L453.98,114.16 L453.99,112.67 L453.91,111.18 L453.72,109.70 L453.44,108.24 L453.06,106.80 L452.59,105.38 L452.02,104.01 L451.36,102.67 L450.61,101.38 L449.78,100.14 L448.87,98.97 L447.88,97.85 L446.82,96.80 L445.69,95.83 L444.50,94.94 L443.25,94.12 L441.95,93.39Z" fill="#d6d6d6" fill-rule="evenodd"/>
<circle cx="431.7" cy="113.2" r="22.3" fill="none" stroke="#3a3a3a" stroke-width="1.3"/>
<circle cx="417.77" cy="105.54" r="2.4" fill="#000"/>
<circle cx="435.15" cy="114.67" r="2.0" fill="#fff" stroke="#000" stroke-width="1"/>
<circle cx="483.3" cy="113.2" r="22.3" fill="#1e19d2"/>
<path d="M489.52,91.78 L488.13,92.26 L486.82,92.80 L485.59,93.38 L484.42,94.00 L483.32,94.65 L482.29,95.34 L481.31,96.05 L480.39,96.78 L479.53,97.54 L478.72,98.31 L477.95,99.10 L477.24,99.90 L476.57,100.72 L475.94,101.54 L475.35,102.38 L474.80,103.23 L474.29,104.09 L473.82,104.95 L473.39,105.83 L472.98,106.71 L472.62,107.60 L472.28,108.51 L471.98,109.42 L471.72,110.34 L471.48,111.27 L471.28,112.21 L471.11,113.16 L470.98,114.12 L470.88,115.09 L470.81,116.08 L470.79,117.07 L470.79,118.08 L470.84,119.10 L470.93,120.14 L471.06,121.19 L471.24,122.25 L471.46,123.32 L471.73,124.41 L472.06,125.51 L472.44,126.62 L472.88,127.75 L473.39,128.88 L473.97,130.02 L474.62,131.17 L475.35,132.32 L476.17,133.47 L477.08,134.62 L477.08,134.62 L478.53,134.98 L479.99,135.25 L481.48,135.43 L482.96,135.50 L484.45,135.47 L485.94,135.34 L487.41,135.12 L488.87,134.79 L490.30,134.37 L491.70,133.86 L493.06,133.25 L494.37,132.56 L495.64,131.77 L496.85,130.91 L498.01,129.96 L499.09,128.94 L500.11,127.85 L501.05,126.70 L501.91,125.48 L502.69,124.21 L503.38,122.89 L503.99,121.53 L504.50,120.13 L504.91,118.70 L505.23,117.24 L505.45,115.77 L505.57,114.28 L505.60,112.79 L505.52,111.30 L505.34,109.82 L505.07,108.36 L504.70,106.91 L504.23,105.50 L503.67,104.12 L503.02,102.78 L502.28,101.49 L501.45,100.24 L500.54,99.06 L499.56,97.94 L498.51,96.89 L497.38,95.91 L496.20,95.01 L494.95,94.19 L493.66,93.45 L492.31,92.80 L490.93,92.25 L489.52,91.78Z M478.88,135.06 L479.89,134.01 L480.81,132.99 L481.65,131.99 L482.43,131.01 L483.14,130.05 L483.80,129.11 L484.40,128.19 L484.96,127.28 L485.48,126.39 L485.96,125.52 L486.41,124.66 L486.82,123.81 L487.21,122.97 L487.57,122.14 L487.90,121.32 L488.21,120.51 L488.50,119.71 L488.76,118.91 L489.01,118.11 L489.24,117.32 L489.45,116.52 L489.65,115.73 L489.82,114.93 L489.98,114.14 L490.13,113.34 L490.26,112.53 L490.37,111.72 L490.47,110.90 L490.55,110.06 L490.62,109.22 L490.66,108.37 L490.69,107.50 L490.70,106.62 L490.70,105.72 L490.67,104.80 L490.61,103.85 L490.54,102.89 L490.43,101.89 L490.30,100.87 L490.14,99.82 L489.94,98.73 L489.70,97.61 L489.42,96.45 L489.08,95.25 L488.70,94.00 L488.24,92.70 L487.72,91.34 L487.72,91.34 L486.25,91.10 L484.77,90.95 L483.28,90.90 L481.79,90.95 L480.31,91.10 L478.84,91.35 L477.39,91.70 L475.96,92.14 L474.57,92.68 L473.22,93.31 L471.92,94.02 L470.66,94.83 L469.46,95.71 L468.33,96.68 L467.26,97.71 L466.26,98.82 L465.33,99.99 L464.49,101.22 L463.73,102.50 L463.06,103.83 L462.48,105.21 L461.99,106.61 L461.60,108.05 L461.31,109.51 L461.11,110.99 L461.01,112.48 L461.01,113.97 L461.11,115.45 L461.31,116.93 L461.61,118.39 L462.01,119.83 L462.50,121.24 L463.08,122.61 L463.75,123.94 L464.52,125.22 L465.36,126.45 L466.28,127.61 L467.29,128.72 L468.36,129.75 L469.50,130.71 L470.70,131.60 L471.95,132.40 L473.26,133.11 L474.61,133.74 L476.01,134.27 L477.43,134.71 L478.88,135.06Z" fill="#d6d6d6" fill-rule="evenodd"/>
<circle cx="483.3" cy="113.2" r="22.3" fill="none" stroke="#3a3a3a" stroke-width="1.3"/>
<circle cx="501.08" cy="117.41" r="2.4" fill="#000"/>
<circle cx="481.05" cy="113.12" r="2.0" fill="#fff" stroke="#000" stroke-width="1"/>
<circle cx="535.7" cy="113.2" r="22.3" fill="#1e19d2"/>
<path d="M548.85,95.19 L547.41,95.44 L546.06,95.75 L544.77,96.10 L543.55,96.48 L542.39,96.90 L541.28,97.35 L540.23,97.82 L539.24,98.31 L538.28,98.82 L537.37,99.35 L536.51,99.89 L535.68,100.45 L534.88,101.02 L534.12,101.60 L533.39,102.20 L532.69,102.80 L532.01,103.42 L531.37,104.05 L530.74,104.69 L530.14,105.35 L529.57,106.01 L529.01,106.69 L528.48,107.39 L527.96,108.09 L527.46,108.81 L526.99,109.55 L526.53,110.30 L526.09,111.07 L525.67,111.86 L525.26,112.67 L524.88,113.50 L524.52,114.35 L524.17,115.23 L523.85,116.13 L523.55,117.06 L523.27,118.02 L523.02,119.02 L522.79,120.04 L522.59,121.11 L522.43,122.21 L522.30,123.35 L522.21,124.54 L522.17,125.77 L522.17,127.05 L522.23,128.38 L522.36,129.77 L522.55,131.21 L522.55,131.21 L523.78,132.05 L525.07,132.80 L526.40,133.47 L527.78,134.05 L529.19,134.53 L530.63,134.92 L532.09,135.21 L533.57,135.40 L535.05,135.49 L536.54,135.48 L538.03,135.38 L539.51,135.17 L540.97,134.87 L542.40,134.47 L543.81,133.97 L545.18,133.39 L546.50,132.71 L547.78,131.94 L549.01,131.09 L550.17,130.17 L551.27,129.16 L552.31,128.08 L553.26,126.94 L554.14,125.74 L554.94,124.48 L555.65,123.17 L556.27,121.81 L556.80,120.42 L557.23,119.00 L557.57,117.54 L557.81,116.07 L557.96,114.59 L558.00,113.10 L557.94,111.61 L557.79,110.13 L557.53,108.66 L557.18,107.21 L556.73,105.79 L556.19,104.40 L555.56,103.05 L554.84,101.75 L554.03,100.50 L553.14,99.30 L552.17,98.17 L551.13,97.10 L550.02,96.11 L548.85,95.19Z M532.10,135.21 L533.20,134.27 L534.22,133.32 L535.16,132.39 L536.02,131.45 L536.82,130.53 L537.55,129.61 L538.22,128.70 L538.85,127.79 L539.42,126.90 L539.96,126.02 L540.45,125.14 L540.90,124.27 L541.32,123.41 L541.71,122.55 L542.07,121.70 L542.40,120.86 L542.70,120.01 L542.97,119.18 L543.22,118.34 L543.45,117.50 L543.65,116.67 L543.83,115.83 L543.99,114.99 L544.13,114.15 L544.25,113.30 L544.34,112.45 L544.42,111.59 L544.47,110.73 L544.50,109.86 L544.50,108.97 L544.49,108.08 L544.45,107.17 L544.38,106.25 L544.29,105.32 L544.16,104.37 L544.01,103.40 L543.82,102.41 L543.60,101.40 L543.34,100.37 L543.04,99.32 L542.69,98.24 L542.28,97.14 L541.83,96.00 L541.31,94.84 L540.72,93.66 L540.06,92.44 L539.30,91.19 L539.30,91.19 L537.83,91.00 L536.34,90.91 L534.85,90.92 L533.36,91.02 L531.89,91.23 L530.43,91.53 L528.99,91.93 L527.59,92.43 L526.22,93.02 L524.89,93.70 L523.61,94.46 L522.39,95.31 L521.22,96.24 L520.12,97.24 L519.09,98.32 L518.13,99.46 L517.26,100.67 L516.46,101.93 L515.75,103.24 L515.13,104.59 L514.60,105.99 L514.16,107.41 L513.83,108.86 L513.59,110.33 L513.44,111.82 L513.40,113.31 L513.46,114.79 L513.61,116.28 L513.87,117.75 L514.22,119.19 L514.67,120.61 L515.21,122.00 L515.84,123.35 L516.57,124.66 L517.38,125.91 L518.26,127.10 L519.23,128.24 L520.27,129.30 L521.38,130.30 L522.56,131.22 L523.79,132.05 L525.08,132.81 L526.41,133.47 L527.78,134.05 L529.19,134.53 L530.63,134.92 L532.10,135.21Z" fill="#d6d6d6" fill-rule="evenodd"/>
<circle cx="535.7" cy="113.2" r="22.3" fill="none" stroke="#3a3a3a" stroke-width="1.3"/>
<circle cx="555.69" cy="121.41" r="2.4" fill="#000"/>
<circle cx="534.36" cy="115.56" r="2.0" fill="#fff" stroke="#000" stroke-width="1"/>
<circle cx="588.4" cy="113.2" r="22.3" fill="#1e19d2"/>
<path d="M593.32,134.95 L594.17,133.76 L594.93,132.59 L595.60,131.42 L596.20,130.27 L596.73,129.14 L597.19,128.02 L597.60,126.92 L597.95,125.84 L598.25,124.78 L598.51,123.73 L598.72,122.70 L598.89,121.68 L599.02,120.68 L599.12,119.70 L599.18,118.73 L599.21,117.77 L599.20,116.83 L599.17,115.89 L599.11,114.97 L599.02,114.05 L598.90,113.15 L598.76,112.25 L598.59,111.36 L598.39,110.48 L598.16,109.60 L597.91,108.73 L597.62,107.86 L597.31,107.00 L596.97,106.14 L596.59,105.28 L596.19,104.42 L595.75,103.57 L595.28,102.72 L594.77,101.87 L594.22,101.03 L593.63,100.19 L592.99,99.35 L592.31,98.51 L591.58,97.68 L590.80,96.85 L589.96,96.04 L589.06,95.23 L588.10,94.43 L587.06,93.65 L585.95,92.89 L584.76,92.15 L583.48,91.45 L583.48,91.45 L582.04,91.83 L580.63,92.30 L579.25,92.86 L577.91,93.52 L576.62,94.27 L575.38,95.09 L574.20,96.00 L573.08,96.99 L572.04,98.05 L571.06,99.18 L570.16,100.37 L569.35,101.61 L568.61,102.91 L567.97,104.26 L567.42,105.64 L566.96,107.06 L566.60,108.51 L566.33,109.97 L566.17,111.45 L566.10,112.94 L566.13,114.43 L566.27,115.92 L566.50,117.39 L566.83,118.84 L567.25,120.27 L567.77,121.67 L568.38,123.03 L569.08,124.34 L569.87,125.61 L570.74,126.82 L571.69,127.97 L572.71,129.05 L573.81,130.06 L574.97,131.00 L576.18,131.86 L577.46,132.63 L578.78,133.32 L580.14,133.92 L581.55,134.42 L582.98,134.83 L584.44,135.14 L585.91,135.36 L587.40,135.48 L588.89,135.49 L590.38,135.41 L591.85,135.23 L593.32,134.95Z M600.71,94.60 L599.42,95.26 L598.21,95.93 L597.09,96.59 L596.04,97.26 L595.06,97.92 L594.13,98.58 L593.26,99.24 L592.43,99.89 L591.64,100.54 L590.90,101.18 L590.19,101.82 L589.51,102.46 L588.87,103.10 L588.25,103.74 L587.65,104.38 L587.08,105.01 L586.53,105.65 L586.00,106.29 L585.48,106.93 L584.98,107.57 L584.50,108.22 L584.04,108.87 L583.58,109.53 L583.14,110.20 L582.71,110.88 L582.29,111.56 L581.88,112.26 L581.48,112.97 L581.10,113.69 L580.72,114.43 L580.35,115.19 L579.98,115.96 L579.63,116.76 L579.29,117.58 L578.95,118.42 L578.63,119.30 L578.32,120.20 L578.01,121.14 L577.72,122.11 L577.45,123.13 L577.18,124.19 L576.94,125.30 L576.72,126.47 L576.51,127.70 L576.34,128.99 L576.20,130.35 L576.09,131.80 L576.09,131.80 L577.36,132.58 L578.68,133.27 L580.05,133.88 L581.45,134.39 L582.88,134.80 L584.33,135.13 L585.80,135.35 L587.29,135.47 L588.78,135.50 L590.27,135.42 L591.75,135.25 L593.21,134.97 L594.66,134.60 L596.07,134.14 L597.45,133.58 L598.80,132.93 L600.09,132.19 L601.33,131.37 L602.52,130.46 L603.64,129.48 L604.69,128.43 L605.67,127.31 L606.58,126.12 L607.40,124.88 L608.14,123.58 L608.79,122.24 L609.34,120.86 L609.81,119.44 L610.18,118.00 L610.45,116.53 L610.62,115.05 L610.70,113.57 L610.67,112.08 L610.55,110.59 L610.32,109.12 L610.00,107.66 L609.58,106.23 L609.07,104.83 L608.47,103.47 L607.77,102.15 L606.99,100.88 L606.13,99.67 L605.18,98.51 L604.16,97.43 L603.07,96.41 L601.92,95.47 L600.71,94.60Z" fill="#d6d6d6" fill-rule="evenodd"/>
<circle cx="588.4" cy="113.2" r="22.3" fill="none" stroke="#3a3a3a" stroke-width="1.3"/>
<circle cx="570.41" cy="108.75" r="2.4" fill="#000"/>
<circle cx="589.15" cy="118.34" r="2.0" fill="#fff" stroke="#000" stroke-width="1"/>
<circle cx="642.1" cy="113.2" r="22.3" fill="#1e19d2"/>
<path d="M643.46,135.46 L644.55,134.48 L645.54,133.49 L646.45,132.48 L647.28,131.47 L648.04,130.46 L648.73,129.45 L649.35,128.43 L649.92,127.43 L650.43,126.42 L650.89,125.43 L651.30,124.44 L651.67,123.45 L651.99,122.47 L652.27,121.50 L652.51,120.53 L652.72,119.57 L652.89,118.62 L653.02,117.67 L653.12,116.73 L653.19,115.79 L653.23,114.85 L653.23,113.92 L653.21,112.99 L653.15,112.06 L653.06,111.13 L652.94,110.21 L652.79,109.28 L652.61,108.36 L652.40,107.43 L652.15,106.51 L651.86,105.58 L651.54,104.65 L651.18,103.72 L650.79,102.79 L650.35,101.86 L649.87,100.93 L649.34,99.99 L648.76,99.06 L648.13,98.13 L647.44,97.19 L646.70,96.27 L645.89,95.35 L645.02,94.43 L644.07,93.53 L643.04,92.65 L641.93,91.78 L640.74,90.94 L640.74,90.94 L639.25,91.08 L637.78,91.32 L636.33,91.66 L634.91,92.09 L633.51,92.62 L632.16,93.24 L630.85,93.95 L629.59,94.74 L628.38,95.62 L627.24,96.58 L626.16,97.61 L625.15,98.70 L624.22,99.87 L623.37,101.09 L622.61,102.37 L621.93,103.70 L621.34,105.07 L620.84,106.47 L620.44,107.91 L620.13,109.36 L619.93,110.84 L619.82,112.33 L619.81,113.82 L619.90,115.30 L620.09,116.78 L620.38,118.24 L620.76,119.68 L621.24,121.10 L621.82,122.47 L622.48,123.80 L623.23,125.09 L624.07,126.32 L624.99,127.50 L625.98,128.61 L627.05,129.65 L628.18,130.62 L629.37,131.51 L630.63,132.32 L631.93,133.05 L633.28,133.68 L634.66,134.22 L636.09,134.67 L637.53,135.03 L639.00,135.28 L640.48,135.44 L641.97,135.50 L643.46,135.46Z M647.46,91.55 L646.37,92.51 L645.37,93.46 L644.45,94.40 L643.60,95.33 L642.82,96.24 L642.10,97.14 L641.42,98.02 L640.80,98.89 L640.22,99.75 L639.68,100.60 L639.18,101.44 L638.71,102.27 L638.27,103.09 L637.86,103.91 L637.48,104.71 L637.12,105.52 L636.79,106.31 L636.48,107.11 L636.18,107.90 L635.91,108.69 L635.66,109.48 L635.43,110.28 L635.21,111.07 L635.02,111.87 L634.84,112.67 L634.67,113.48 L634.52,114.30 L634.39,115.13 L634.28,115.96 L634.19,116.81 L634.11,117.67 L634.05,118.55 L634.01,119.44 L634.00,120.35 L634.00,121.28 L634.03,122.23 L634.08,123.21 L634.16,124.21 L634.27,125.25 L634.42,126.31 L634.60,127.41 L634.82,128.54 L635.09,129.71 L635.41,130.92 L635.78,132.18 L636.22,133.49 L636.74,134.85 L636.74,134.85 L638.20,135.16 L639.67,135.37 L641.16,135.48 L642.65,135.49 L644.14,135.41 L645.61,135.22 L647.08,134.94 L648.52,134.56 L649.93,134.08 L651.31,133.51 L652.64,132.85 L653.93,132.10 L655.17,131.27 L656.35,130.36 L657.46,129.37 L658.51,128.30 L659.48,127.17 L660.37,125.98 L661.19,124.73 L661.91,123.43 L662.55,122.09 L663.10,120.70 L663.55,119.28 L663.91,117.83 L664.17,116.37 L664.34,114.89 L664.40,113.40 L664.36,111.91 L664.23,110.42 L663.99,108.95 L663.66,107.50 L663.23,106.07 L662.71,104.68 L662.09,103.32 L661.39,102.01 L660.60,100.74 L659.72,99.53 L658.77,98.39 L657.74,97.31 L656.65,96.30 L655.49,95.36 L654.26,94.51 L652.99,93.74 L651.67,93.06 L650.30,92.46 L648.89,91.96 L647.46,91.55Z" fill="#d6d6d6" fill-rule="evenodd"/>
<circle cx="642.1" cy="113.2" r="22.3" fill="none" stroke="#3a3a3a" stroke-width="1.3"/>
<circle cx="623.07" cy="111.03" r="2.4" fill="#000"/>
<circle cx="643.58" cy="115.05" r="2.0" fill="#fff" stroke="#000" stroke-width="1"/>
<text x="2.5" y="223.4" font-size="23.5" text-anchor="start" >b</text>
<path d="M88.5,161.7H632.0V297.3H88.5Z" fill="none" stroke="#222" stroke-width="1.3"/>
<line x1="84.0" y1="297.30" x2="88.5" y2="297.30" stroke="#222" stroke-width="1.2"/>
<text x="83" y="303.3" font-size="17.5" text-anchor="end" >0</text>
<line x1="84.0" y1="283.74" x2="88.5" y2="283.74" stroke="#222" stroke-width="1.2"/>
<line x1="84.0" y1="270.18" x2="88.5" y2="270.18" stroke="#222" stroke-width="1.2"/>
<text x="83" y="276.18" font-size="17.5" text-anchor="end" >600</text>
<line x1="84.0" y1="256.62" x2="88.5" y2="256.62" stroke="#222" stroke-width="1.2"/>
<line x1="84.0" y1="243.06" x2="88.5" y2="243.06" stroke="#222" stroke-width="1.2"/>
<text x="83" y="249.06" font-size="17.5" text-anchor="end" >1200</text>
<line x1="84.0" y1="229.50" x2="88.5" y2="229.50" stroke="#222" stroke-width="1.2"/>
<line x1="84.0" y1="215.94" x2="88.5" y2="215.94" stroke="#222" stroke-width="1.2"/>
<text x="83" y="221.94" font-size="17.5" text-anchor="end" >1800</text>
<line x1="84.0" y1="202.38" x2="88.5" y2="202.38" stroke="#222" stroke-width="1.2"/>
<line x1="84.0" y1="188.82" x2="88.5" y2="188.82" stroke="#222" stroke-width="1.2"/>
<text x="83" y="194.82" font-size="17.5" text-anchor="end" >2400</text>
<line x1="84.0" y1="175.26" x2="88.5" y2="175.26" stroke="#222" stroke-width="1.2"/>
<line x1="84.0" y1="161.70" x2="88.5" y2="161.70" stroke="#222" stroke-width="1.2"/>
<text x="83" y="167.7" font-size="17.5" text-anchor="end" >3000</text>
<line x1="632.0" y1="297.30" x2="636.5" y2="297.30" stroke="#222" stroke-width="1.2"/>
<text x="642" y="303.3" font-size="17.5" text-anchor="start" >1</text>
<line x1="632.0" y1="263.40" x2="636.5" y2="263.40" stroke="#222" stroke-width="1.2"/>
<text x="642" y="269.4" font-size="17.5" text-anchor="start" >2</text>
<line x1="632.0" y1="229.50" x2="636.5" y2="229.50" stroke="#222" stroke-width="1.2"/>
<text x="642" y="235.5" font-size="17.5" text-anchor="start" >3</text>
<line x1="632.0" y1="195.60" x2="636.5" y2="195.60" stroke="#222" stroke-width="1.2"/>
<text x="642" y="201.6" font-size="17.5" text-anchor="start" >4</text>
<line x1="632.0" y1="161.70" x2="636.5" y2="161.70" stroke="#222" stroke-width="1.2"/>
<text x="642" y="167.7" font-size="17.5" text-anchor="start" >5</text>
<text transform="translate(43,222.3) rotate(-90)" font-size="17.5" text-anchor="middle">N(m≥1.0)</text>
<text transform="translate(670,228) rotate(-90)" font-size="17.5" text-anchor="middle">Magnitude</text>
<path d="M247.68,236.78a1.75,1.4 0 1,0 3.5,0a1.75,1.4 0 1,0 -3.5,0M264.33,240.17a1.75,1.4 0 1,0 3.5,0a1.75,1.4 0 1,0 -3.5,0M271.31,240.17a1.75,1.4 0 1,0 3.5,0a1.75,1.4 0 1,0 -3.5,0M246.92,243.56a1.75,1.4 0 1,0 3.5,0a1.75,1.4 0 1,0 -3.5,0M263.25,246.95a1.75,1.4 0 1,0 3.5,0a1.75,1.4 0 1,0 -3.5,0M267.55,246.95a1.75,1.4 0 1,0 3.5,0a1.75,1.4 0 1,0 -3.5,0M236.94,250.34a1.75,1.4 0 1,0 3.5,0a1.75,1.4 0 1,0 -3.5,0M271.31,250.34a1.75,1.4 0 1,0 3.5,0a1.75,1.4 0 1,0 -3.5,0M247.68,253.73a1.75,1.4 0 1,0 3.5,0a1.75,1.4 0 1,0 -3.5,0M256.27,253.73a1.75,1.4 0 1,0 3.5,0a1.75,1.4 0 1,0 -3.5,0M269.70,253.73a1.75,1.4 0 1,0 3.5,0a1.75,1.4 0 1,0 -3.5,0M278.83,253.73a1.75,1.4 0 1,0 3.5,0a1.75,1.4 0 1,0 -3.5,0M247.14,257.12a1.75,1.4 0 1,0 3.5,0a1.75,1.4 0 1,0 -3.5,0M263.25,257.12a1.75,1.4 0 1,0 3.5,0a1.75,1.4 0 1,0 -3.5,0M269.16,257.12a1.75,1.4 0 1,0 3.5,0a1.75,1.4 0 1,0 -3.5,0M272.38,257.12a1.75,1.4 0 1,0 3.5,0a1.75,1.4 0 1,0 -3.5,0M276.68,257.12a1.75,1.4 0 1,0 3.5,0a1.75,1.4 0 1,0 -3.5,0M263.25,260.51a1.75,1.4 0 1,0 3.5,0a1.75,1.4 0 1,0 -3.5,0M276.68,260.51a1.75,1.4 0 1,0 3.5,0a1.75,1.4 0 1,0 -3.5,0M244.45,263.90a1.75,1.4 0 1,0 3.5,0a1.75,1.4 0 1,0 -3.5,0M247.68,263.90a1.75,1.4 0 1,0 3.5,0a1.75,1.4 0 1,0 -3.5,0M250.36,263.90a1.75,1.4 0 1,0 3.5,0a1.75,1.4 0 1,0 -3.5,0M259.17,263.90a1.75,1.4 0 1,0 3.5,0a1.75,1.4 0 1,0 -3.5,0M266.47,263.90a1.75,1.4 0 1,0 3.5,0a1.75,1.4 0 1,0 -3.5,0M271.31,263.90a1.75,1.4 0 1,0 3.5,0a1.75,1.4 0 1,0 -3.5,0M275.60,263.90a1.75,1.4 0 1,0 3.5,0a1.75,1.4 0 1,0 -3.5,0M278.29,263.90a1.75,1.4 0 1,0 3.5,0a1.75,1.4 0 1,0 -3.5,0M260.03,267.29a1.75,1.4 0 1,0 3.5,0a1.75,1.4 0 1,0 -3.5,0M274.53,267.29a1.75,1.4 0 1,0 3.5,0a1.75,1.4 0 1,0 -3.5,0M277.75,267.29a1.75,1.4 0 1,0 3.5,0a1.75,1.4 0 1,0 -3.5,0M239.08,270.68a1.75,1.4 0 1,0 3.5,0a1.75,1.4 0 1,0 -3.5,0M251.44,270.68a1.75,1.4 0 1,0 3.5,0a1.75,1.4 0 1,0 -3.5,0M265.40,270.68a1.75,1.4 0 1,0 3.5,0a1.75,1.4 0 1,0 -3.5,0M268.62,270.68a1.75,1.4 0 1,0 3.5,0a1.75,1.4 0 1,0 -3.5,0M272.38,270.68a1.75,1.4 0 1,0 3.5,0a1.75,1.4 0 1,0 -3.5,0M277.21,270.68a1.75,1.4 0 1,0 3.5,0a1.75,1.4 0 1,0 -3.5,0M243.92,274.07a1.75,1.4 0 1,0 3.5,0a1.75,1.4 0 1,0 -3.5,0M247.14,274.07a1.75,1.4 0 1,0 3.5,0a1.75,1.4 0 1,0 -3.5,0M255.20,274.07a1.75,1.4 0 1,0 3.5,0a1.75,1.4 0 1,0 -3.5,0M266.47,274.07a1.75,1.4 0 1,0 3.5,0a1.75,1.4 0 1,0 -3.5,0M270.23,274.07a1.75,1.4 0 1,0 3.5,0a1.75,1.4 0 1,0 -3.5,0M278.29,274.07a1.75,1.4 0 1,0 3.5,0a1.75,1.4 0 1,0 -3.5,0M248.21,277.46a1.75,1.4 0 1,0 3.5,0a1.75,1.4 0 1,0 -3.5,0M251.44,277.46a1.75,1.4 0 1,0 3.5,0a1.75,1.4 0 1,0 -3.5,0M256.81,277.46a1.75,1.4 0 1,0 3.5,0a1.75,1.4 0 1,0 -3.5,0M264.86,277.46a1.75,1.4 0 1,0 3.5,0a1.75,1.4 0 1,0 -3.5,0M270.77,277.46a1.75,1.4 0 1,0 3.5,0a1.75,1.4 0 1,0 -3.5,0M275.07,277.46a1.75,1.4 0 1,0 3.5,0a1.75,1.4 0 1,0 -3.5,0M240.16,280.85a1.75,1.4 0 1,0 3.5,0a1.75,1.4 0 1,0 -3.5,0M248.21,280.85a1.75,1.4 0 1,0 3.5,0a1.75,1.4 0 1,0 -3.5,0M251.44,280.85a1.75,1.4 0 1,0 3.5,0a1.75,1.4 0 1,0 -3.5,0M255.20,280.85a1.75,1.4 0 1,0 3.5,0a1.75,1.4 0 1,0 -3.5,0M259.49,280.85a1.75,1.4 0 1,0 3.5,0a1.75,1.4 0 1,0 -3.5,0M271.84,280.85a1.75,1.4 0 1,0 3.5,0a1.75,1.4 0 1,0 -3.5,0M275.60,280.85a1.75,1.4 0 1,0 3.5,0a1.75,1.4 0 1,0 -3.5,0M278.29,280.85a1.75,1.4 0 1,0 3.5,0a1.75,1.4 0 1,0 -3.5,0M244.45,284.24a1.75,1.4 0 1,0 3.5,0a1.75,1.4 0 1,0 -3.5,0M247.68,284.24a1.75,1.4 0 1,0 3.5,0a1.75,1.4 0 1,0 -3.5,0M250.90,284.24a1.75,1.4 0 1,0 3.5,0a1.75,1.4 0 1,0 -3.5,0M254.12,284.24a1.75,1.4 0 1,0 3.5,0a1.75,1.4 0 1,0 -3.5,0M265.94,284.24a1.75,1.4 0 1,0 3.5,0a1.75,1.4 0 1,0 -3.5,0M236.94,287.63a1.75,1.4 0 1,0 3.5,0a1.75,1.4 0 1,0 -3.5,0M240.16,287.63a1.75,1.4 0 1,0 3.5,0a1.75,1.4 0 1,0 -3.5,0M250.36,287.63a1.75,1.4 0 1,0 3.5,0a1.75,1.4 0 1,0 -3.5,0M254.12,287.63a1.75,1.4 0 1,0 3.5,0a1.75,1.4 0 1,0 -3.5,0M257.34,287.63a1.75,1.4 0 1,0 3.5,0a1.75,1.4 0 1,0 -3.5,0M260.57,287.63a1.75,1.4 0 1,0 3.5,0a1.75,1.4 0 1,0 -3.5,0M266.47,287.63a1.75,1.4 0 1,0 3.5,0a1.75,1.4 0 1,0 -3.5,0M269.70,287.63a1.75,1.4 0 1,0 3.5,0a1.75,1.4 0 1,0 -3.5,0M275.07,287.63a1.75,1.4 0 1,0 3.5,0a1.75,1.4 0 1,0 -3.5,0M236.94,291.02a1.75,1.4 0 1,0 3.5,0a1.75,1.4 0 1,0 -3.5,0M240.69,291.02a1.75,1.4 0 1,0 3.5,0a1.75,1.4 0 1,0 -3.5,0M244.45,291.02a1.75,1.4 0 1,0 3.5,0a1.75,1.4 0 1,0 -3.5,0M247.68,291.02a1.75,1.4 0 1,0 3.5,0a1.75,1.4 0 1,0 -3.5,0M266.47,291.02a1.75,1.4 0 1,0 3.5,0a1.75,1.4 0 1,0 -3.5,0M271.31,291.02a1.75,1.4 0 1,0 3.5,0a1.75,1.4 0 1,0 -3.5,0M275.60,291.02a1.75,1.4 0 1,0 3.5,0a1.75,1.4 0 1,0 -3.5,0M237.47,294.41a1.75,1.4 0 1,0 3.5,0a1.75,1.4 0 1,0 -3.5,0M241.23,294.41a1.75,1.4 0 1,0 3.5,0a1.75,1.4 0 1,0 -3.5,0M245.53,294.41a1.75,1.4 0 1,0 3.5,0a1.75,1.4 0 1,0 -3.5,0M254.66,294.41a1.75,1.4 0 1,0 3.5,0a1.75,1.4 0 1,0 -3.5,0M258.42,294.41a1.75,1.4 0 1,0 3.5,0a1.75,1.4 0 1,0 -3.5,0M262.71,294.41a1.75,1.4 0 1,0 3.5,0a1.75,1.4 0 1,0 -3.5,0M266.47,294.41a1.75,1.4 0 1,0 3.5,0a1.75,1.4 0 1,0 -3.5,0M270.23,294.41a1.75,1.4 0 1,0 3.5,0a1.75,1.4 0 1,0 -3.5,0M273.99,294.41a1.75,1.4 0 1,0 3.5,0a1.75,1.4 0 1,0 -3.5,0M277.21,294.41a1.75,1.4 0 1,0 3.5,0a1.75,1.4 0 1,0 -3.5,0M241.23,297.80a1.75,1.4 0 1,0 3.5,0a1.75,1.4 0 1,0 -3.5,0M245.53,297.80a1.75,1.4 0 1,0 3.5,0a1.75,1.4 0 1,0 -3.5,0M249.82,297.80a1.75,1.4 0 1,0 3.5,0a1.75,1.4 0 1,0 -3.5,0M254.66,297.80a1.75,1.4 0 1,0 3.5,0a1.75,1.4 0 1,0 -3.5,0M258.95,297.80a1.75,1.4 0 1,0 3.5,0a1.75,1.4 0 1,0 -3.5,0M262.71,297.80a1.75,1.4 0 1,0 3.5,0a1.75,1.4 0 1,0 -3.5,0M266.47,297.80a1.75,1.4 0 1,0 3.5,0a1.75,1.4 0 1,0 -3.5,0M270.77,297.80a1.75,1.4 0 1,0 3.5,0a1.75,1.4 0 1,0 -3.5,0M275.07,297.80a1.75,1.4 0 1,0 3.5,0a1.75,1.4 0 1,0 -3.5,0M279.47,233.39a1.75,1.4 0 1,0 3.5,0a1.75,1.4 0 1,0 -3.5,0M292.90,233.39a1.75,1.4 0 1,0 3.5,0a1.75,1.4 0 1,0 -3.5,0M311.70,233.39a1.75,1.4 0 1,0 3.5,0a1.75,1.4 0 1,0 -3.5,0M308.47,236.78a1.75,1.4 0 1,0 3.5,0a1.75,1.4 0 1,0 -3.5,0M300.95,240.17a1.75,1.4 0 1,0 3.5,0a1.75,1.4 0 1,0 -3.5,0M301.49,243.56a1.75,1.4 0 1,0 3.5,0a1.75,1.4 0 1,0 -3.5,0M300.42,246.95a1.75,1.4 0 1,0 3.5,0a1.75,1.4 0 1,0 -3.5,0M289.14,250.34a1.75,1.4 0 1,0 3.5,0a1.75,1.4 0 1,0 -3.5,0M297.73,250.34a1.75,1.4 0 1,0 3.5,0a1.75,1.4 0 1,0 -3.5,0M308.47,250.34a1.75,1.4 0 1,0 3.5,0a1.75,1.4 0 1,0 -3.5,0M320.29,250.34a1.75,1.4 0 1,0 3.5,0a1.75,1.4 0 1,0 -3.5,0M291.82,253.73a1.75,1.4 0 1,0 3.5,0a1.75,1.4 0 1,0 -3.5,0M298.81,253.73a1.75,1.4 0 1,0 3.5,0a1.75,1.4 0 1,0 -3.5,0M301.49,253.73a1.75,1.4 0 1,0 3.5,0a1.75,1.4 0 1,0 -3.5,0M320.29,253.73a1.75,1.4 0 1,0 3.5,0a1.75,1.4 0 1,0 -3.5,0M284.84,257.12a1.75,1.4 0 1,0 3.5,0a1.75,1.4 0 1,0 -3.5,0M299.34,257.12a1.75,1.4 0 1,0 3.5,0a1.75,1.4 0 1,0 -3.5,0M319.21,257.12a1.75,1.4 0 1,0 3.5,0a1.75,1.4 0 1,0 -3.5,0M281.08,260.51a1.75,1.4 0 1,0 3.5,0a1.75,1.4 0 1,0 -3.5,0M299.34,260.51a1.75,1.4 0 1,0 3.5,0a1.75,1.4 0 1,0 -3.5,0M306.33,260.51a1.75,1.4 0 1,0 3.5,0a1.75,1.4 0 1,0 -3.5,0M317.07,260.51a1.75,1.4 0 1,0 3.5,0a1.75,1.4 0 1,0 -3.5,0M300.42,263.90a1.75,1.4 0 1,0 3.5,0a1.75,1.4 0 1,0 -3.5,0M307.94,263.90a1.75,1.4 0 1,0 3.5,0a1.75,1.4 0 1,0 -3.5,0M314.92,263.90a1.75,1.4 0 1,0 3.5,0a1.75,1.4 0 1,0 -3.5,0M319.21,263.90a1.75,1.4 0 1,0 3.5,0a1.75,1.4 0 1,0 -3.5,0M301.49,267.29a1.75,1.4 0 1,0 3.5,0a1.75,1.4 0 1,0 -3.5,0M304.71,267.29a1.75,1.4 0 1,0 3.5,0a1.75,1.4 0 1,0 -3.5,0M307.94,267.29a1.75,1.4 0 1,0 3.5,0a1.75,1.4 0 1,0 -3.5,0M310.62,267.29a1.75,1.4 0 1,0 3.5,0a1.75,1.4 0 1,0 -3.5,0M313.31,267.29a1.75,1.4 0 1,0 3.5,0a1.75,1.4 0 1,0 -3.5,0M281.08,270.68a1.75,1.4 0 1,0 3.5,0a1.75,1.4 0 1,0 -3.5,0M292.36,270.68a1.75,1.4 0 1,0 3.5,0a1.75,1.4 0 1,0 -3.5,0M295.58,270.68a1.75,1.4 0 1,0 3.5,0a1.75,1.4 0 1,0 -3.5,0M298.81,270.68a1.75,1.4 0 1,0 3.5,0a1.75,1.4 0 1,0 -3.5,0M308.47,270.68a1.75,1.4 0 1,0 3.5,0a1.75,1.4 0 1,0 -3.5,0M316.53,270.68a1.75,1.4 0 1,0 3.5,0a1.75,1.4 0 1,0 -3.5,0M281.08,274.07a1.75,1.4 0 1,0 3.5,0a1.75,1.4 0 1,0 -3.5,0M292.36,274.07a1.75,1.4 0 1,0 3.5,0a1.75,1.4 0 1,0 -3.5,0M295.58,274.07a1.75,1.4 0 1,0 3.5,0a1.75,1.4 0 1,0 -3.5,0M302.03,274.07a1.75,1.4 0 1,0 3.5,0a1.75,1.4 0 1,0 -3.5,0M305.25,274.07a1.75,1.4 0 1,0 3.5,0a1.75,1.4 0 1,0 -3.5,0M317.07,274.07a1.75,1.4 0 1,0 3.5,0a1.75,1.4 0 1,0 -3.5,0M281.08,277.46a1.75,1.4 0 1,0 3.5,0a1.75,1.4 0 1,0 -3.5,0M292.36,277.46a1.75,1.4 0 1,0 3.5,0a1.75,1.4 0 1,0 -3.5,0M295.05,277.46a1.75,1.4 0 1,0 3.5,0a1.75,1.4 0 1,0 -3.5,0M299.34,277.46a1.75,1.4 0 1,0 3.5,0a1.75,1.4 0 1,0 -3.5,0M302.03,277.46a1.75,1.4 0 1,0 3.5,0a1.75,1.4 0 1,0 -3.5,0M308.47,277.46a1.75,1.4 0 1,0 3.5,0a1.75,1.4 0 1,0 -3.5,0M317.60,277.46a1.75,1.4 0 1,0 3.5,0a1.75,1.4 0 1,0 -3.5,0M281.08,280.85a1.75,1.4 0 1,0 3.5,0a1.75,1.4 0 1,0 -3.5,0M292.36,280.85a1.75,1.4 0 1,0 3.5,0a1.75,1.4 0 1,0 -3.5,0M295.58,280.85a1.75,1.4 0 1,0 3.5,0a1.75,1.4 0 1,0 -3.5,0M298.81,280.85a1.75,1.4 0 1,0 3.5,0a1.75,1.4 0 1,0 -3.5,0M302.03,280.85a1.75,1.4 0 1,0 3.5,0a1.75,1.4 0 1,0 -3.5,0M318.14,280.85a1.75,1.4 0 1,0 3.5,0a1.75,1.4 0 1,0 -3.5,0M307.40,284.24a1.75,1.4 0 1,0 3.5,0a1.75,1.4 0 1,0 -3.5,0M317.60,284.24a1.75,1.4 0 1,0 3.5,0a1.75,1.4 0 1,0 -3.5,0M299.88,287.63a1.75,1.4 0 1,0 3.5,0a1.75,1.4 0 1,0 -3.5,0M318.14,287.63a1.75,1.4 0 1,0 3.5,0a1.75,1.4 0 1,0 -3.5,0M288.07,291.02a1.75,1.4 0 1,0 3.5,0a1.75,1.4 0 1,0 -3.5,0M291.82,291.02a1.75,1.4 0 1,0 3.5,0a1.75,1.4 0 1,0 -3.5,0M298.81,291.02a1.75,1.4 0 1,0 3.5,0a1.75,1.4 0 1,0 -3.5,0M302.03,291.02a1.75,1.4 0 1,0 3.5,0a1.75,1.4 0 1,0 -3.5,0M309.01,291.02a1.75,1.4 0 1,0 3.5,0a1.75,1.4 0 1,0 -3.5,0M311.70,291.02a1.75,1.4 0 1,0 3.5,0a1.75,1.4 0 1,0 -3.5,0M318.14,291.02a1.75,1.4 0 1,0 3.5,0a1.75,1.4 0 1,0 -3.5,0M284.31,294.41a1.75,1.4 0 1,0 3.5,0a1.75,1.4 0 1,0 -3.5,0M291.82,294.41a1.75,1.4 0 1,0 3.5,0a1.75,1.4 0 1,0 -3.5,0M295.05,294.41a1.75,1.4 0 1,0 3.5,0a1.75,1.4 0 1,0 -3.5,0M298.27,294.41a1.75,1.4 0 1,0 3.5,0a1.75,1.4 0 1,0 -3.5,0M302.03,294.41a1.75,1.4 0 1,0 3.5,0a1.75,1.4 0 1,0 -3.5,0M305.79,294.41a1.75,1.4 0 1,0 3.5,0a1.75,1.4 0 1,0 -3.5,0M314.92,294.41a1.75,1.4 0 1,0 3.5,0a1.75,1.4 0 1,0 -3.5,0M318.68,294.41a1.75,1.4 0 1,0 3.5,0a1.75,1.4 0 1,0 -3.5,0M279.47,297.80a1.75,1.4 0 1,0 3.5,0a1.75,1.4 0 1,0 -3.5,0M282.69,297.80a1.75,1.4 0 1,0 3.5,0a1.75,1.4 0 1,0 -3.5,0M291.82,297.80a1.75,1.4 0 1,0 3.5,0a1.75,1.4 0 1,0 -3.5,0M295.58,297.80a1.75,1.4 0 1,0 3.5,0a1.75,1.4 0 1,0 -3.5,0M299.34,297.80a1.75,1.4 0 1,0 3.5,0a1.75,1.4 0 1,0 -3.5,0M303.10,297.80a1.75,1.4 0 1,0 3.5,0a1.75,1.4 0 1,0 -3.5,0M307.40,297.80a1.75,1.4 0 1,0 3.5,0a1.75,1.4 0 1,0 -3.5,0M315.99,297.80a1.75,1.4 0 1,0 3.5,0a1.75,1.4 0 1,0 -3.5,0M319.21,297.80a1.75,1.4 0 1,0 3.5,0a1.75,1.4 0 1,0 -3.5,0M321.47,233.39a1.75,1.4 0 1,0 3.5,0a1.75,1.4 0 1,0 -3.5,0M338.66,233.39a1.75,1.4 0 1,0 3.5,0a1.75,1.4 0 1,0 -3.5,0M335.44,236.78a1.75,1.4 0 1,0 3.5,0a1.75,1.4 0 1,0 -3.5,0M340.27,236.78a1.75,1.4 0 1,0 3.5,0a1.75,1.4 0 1,0 -3.5,0M344.03,236.78a1.75,1.4 0 1,0 3.5,0a1.75,1.4 0 1,0 -3.5,0M356.92,236.78a1.75,1.4 0 1,0 3.5,0a1.75,1.4 0 1,0 -3.5,0M332.21,240.17a1.75,1.4 0 1,0 3.5,0a1.75,1.4 0 1,0 -3.5,0M347.25,240.17a1.75,1.4 0 1,0 3.5,0a1.75,1.4 0 1,0 -3.5,0M356.38,240.17a1.75,1.4 0 1,0 3.5,0a1.75,1.4 0 1,0 -3.5,0M320.40,243.56a1.75,1.4 0 1,0 3.5,0a1.75,1.4 0 1,0 -3.5,0M330.60,243.56a1.75,1.4 0 1,0 3.5,0a1.75,1.4 0 1,0 -3.5,0M333.82,243.56a1.75,1.4 0 1,0 3.5,0a1.75,1.4 0 1,0 -3.5,0M345.10,243.56a1.75,1.4 0 1,0 3.5,0a1.75,1.4 0 1,0 -3.5,0M330.60,246.95a1.75,1.4 0 1,0 3.5,0a1.75,1.4 0 1,0 -3.5,0M338.12,246.95a1.75,1.4 0 1,0 3.5,0a1.75,1.4 0 1,0 -3.5,0M341.34,246.95a1.75,1.4 0 1,0 3.5,0a1.75,1.4 0 1,0 -3.5,0M352.08,246.95a1.75,1.4 0 1,0 3.5,0a1.75,1.4 0 1,0 -3.5,0M330.60,250.34a1.75,1.4 0 1,0 3.5,0a1.75,1.4 0 1,0 -3.5,0M337.58,250.34a1.75,1.4 0 1,0 3.5,0a1.75,1.4 0 1,0 -3.5,0M343.49,250.34a1.75,1.4 0 1,0 3.5,0a1.75,1.4 0 1,0 -3.5,0M355.31,250.34a1.75,1.4 0 1,0 3.5,0a1.75,1.4 0 1,0 -3.5,0M324.69,253.73a1.75,1.4 0 1,0 3.5,0a1.75,1.4 0 1,0 -3.5,0M332.21,253.73a1.75,1.4 0 1,0 3.5,0a1.75,1.4 0 1,0 -3.5,0M337.05,253.73a1.75,1.4 0 1,0 3.5,0a1.75,1.4 0 1,0 -3.5,0M344.57,253.73a1.75,1.4 0 1,0 3.5,0a1.75,1.4 0 1,0 -3.5,0M353.70,253.73a1.75,1.4 0 1,0 3.5,0a1.75,1.4 0 1,0 -3.5,0M356.38,253.73a1.75,1.4 0 1,0 3.5,0a1.75,1.4 0 1,0 -3.5,0M359.60,253.73a1.75,1.4 0 1,0 3.5,0a1.75,1.4 0 1,0 -3.5,0M362.29,253.73a1.75,1.4 0 1,0 3.5,0a1.75,1.4 0 1,0 -3.5,0M325.77,257.12a1.75,1.4 0 1,0 3.5,0a1.75,1.4 0 1,0 -3.5,0M344.57,257.12a1.75,1.4 0 1,0 3.5,0a1.75,1.4 0 1,0 -3.5,0M319.86,260.51a1.75,1.4 0 1,0 3.5,0a1.75,1.4 0 1,0 -3.5,0M331.14,260.51a1.75,1.4 0 1,0 3.5,0a1.75,1.4 0 1,0 -3.5,0M334.36,260.51a1.75,1.4 0 1,0 3.5,0a1.75,1.4 0 1,0 -3.5,0M337.05,260.51a1.75,1.4 0 1,0 3.5,0a1.75,1.4 0 1,0 -3.5,0M340.81,260.51a1.75,1.4 0 1,0 3.5,0a1.75,1.4 0 1,0 -3.5,0M345.64,260.51a1.75,1.4 0 1,0 3.5,0a1.75,1.4 0 1,0 -3.5,0M348.86,260.51a1.75,1.4 0 1,0 3.5,0a1.75,1.4 0 1,0 -3.5,0M352.08,260.51a1.75,1.4 0 1,0 3.5,0a1.75,1.4 0 1,0 -3.5,0M323.62,263.90a1.75,1.4 0 1,0 3.5,0a1.75,1.4 0 1,0 -3.5,0M331.14,263.90a1.75,1.4 0 1,0 3.5,0a1.75,1.4 0 1,0 -3.5,0M334.36,263.90a1.75,1.4 0 1,0 3.5,0a1.75,1.4 0 1,0 -3.5,0M337.58,263.90a1.75,1.4 0 1,0 3.5,0a1.75,1.4 0 1,0 -3.5,0M345.10,263.90a1.75,1.4 0 1,0 3.5,0a1.75,1.4 0 1,0 -3.5,0M327.92,267.29a1.75,1.4 0 1,0 3.5,0a1.75,1.4 0 1,0 -3.5,0M332.21,267.29a1.75,1.4 0 1,0 3.5,0a1.75,1.4 0 1,0 -3.5,0M335.44,267.29a1.75,1.4 0 1,0 3.5,0a1.75,1.4 0 1,0 -3.5,0M345.10,267.29a1.75,1.4 0 1,0 3.5,0a1.75,1.4 0 1,0 -3.5,0M347.79,267.29a1.75,1.4 0 1,0 3.5,0a1.75,1.4 0 1,0 -3.5,0M353.70,267.29a1.75,1.4 0 1,0 3.5,0a1.75,1.4 0 1,0 -3.5,0M321.47,270.68a1.75,1.4 0 1,0 3.5,0a1.75,1.4 0 1,0 -3.5,0M324.69,270.68a1.75,1.4 0 1,0 3.5,0a1.75,1.4 0 1,0 -3.5,0M328.99,270.68a1.75,1.4 0 1,0 3.5,0a1.75,1.4 0 1,0 -3.5,0M332.21,270.68a1.75,1.4 0 1,0 3.5,0a1.75,1.4 0 1,0 -3.5,0M341.34,270.68a1.75,1.4 0 1,0 3.5,0a1.75,1.4 0 1,0 -3.5,0M345.10,270.68a1.75,1.4 0 1,0 3.5,0a1.75,1.4 0 1,0 -3.5,0M354.77,270.68a1.75,1.4 0 1,0 3.5,0a1.75,1.4 0 1,0 -3.5,0M321.47,274.07a1.75,1.4 0 1,0 3.5,0a1.75,1.4 0 1,0 -3.5,0M324.69,274.07a1.75,1.4 0 1,0 3.5,0a1.75,1.4 0 1,0 -3.5,0M332.21,274.07a1.75,1.4 0 1,0 3.5,0a1.75,1.4 0 1,0 -3.5,0M345.10,274.07a1.75,1.4 0 1,0 3.5,0a1.75,1.4 0 1,0 -3.5,0M353.70,274.07a1.75,1.4 0 1,0 3.5,0a1.75,1.4 0 1,0 -3.5,0M335.44,277.46a1.75,1.4 0 1,0 3.5,0a1.75,1.4 0 1,0 -3.5,0M338.66,277.46a1.75,1.4 0 1,0 3.5,0a1.75,1.4 0 1,0 -3.5,0M341.88,277.46a1.75,1.4 0 1,0 3.5,0a1.75,1.4 0 1,0 -3.5,0M345.10,277.46a1.75,1.4 0 1,0 3.5,0a1.75,1.4 0 1,0 -3.5,0M348.33,277.46a1.75,1.4 0 1,0 3.5,0a1.75,1.4 0 1,0 -3.5,0M354.77,277.46a1.75,1.4 0 1,0 3.5,0a1.75,1.4 0 1,0 -3.5,0M362.29,277.46a1.75,1.4 0 1,0 3.5,0a1.75,1.4 0 1,0 -3.5,0M321.47,280.85a1.75,1.4 0 1,0 3.5,0a1.75,1.4 0 1,0 -3.5,0M324.69,280.85a1.75,1.4 0 1,0 3.5,0a1.75,1.4 0 1,0 -3.5,0M334.36,280.85a1.75,1.4 0 1,0 3.5,0a1.75,1.4 0 1,0 -3.5,0M337.58,280.85a1.75,1.4 0 1,0 3.5,0a1.75,1.4 0 1,0 -3.5,0M341.34,280.85a1.75,1.4 0 1,0 3.5,0a1.75,1.4 0 1,0 -3.5,0M345.10,280.85a1.75,1.4 0 1,0 3.5,0a1.75,1.4 0 1,0 -3.5,0M348.86,280.85a1.75,1.4 0 1,0 3.5,0a1.75,1.4 0 1,0 -3.5,0M355.31,280.85a1.75,1.4 0 1,0 3.5,0a1.75,1.4 0 1,0 -3.5,0M360.68,280.85a1.75,1.4 0 1,0 3.5,0a1.75,1.4 0 1,0 -3.5,0M321.47,284.24a1.75,1.4 0 1,0 3.5,0a1.75,1.4 0 1,0 -3.5,0M324.69,284.24a1.75,1.4 0 1,0 3.5,0a1.75,1.4 0 1,0 -3.5,0M327.92,284.24a1.75,1.4 0 1,0 3.5,0a1.75,1.4 0 1,0 -3.5,0M332.21,284.24a1.75,1.4 0 1,0 3.5,0a1.75,1.4 0 1,0 -3.5,0M335.44,284.24a1.75,1.4 0 1,0 3.5,0a1.75,1.4 0 1,0 -3.5,0M338.66,284.24a1.75,1.4 0 1,0 3.5,0a1.75,1.4 0 1,0 -3.5,0M341.88,284.24a1.75,1.4 0 1,0 3.5,0a1.75,1.4 0 1,0 -3.5,0M345.10,284.24a1.75,1.4 0 1,0 3.5,0a1.75,1.4 0 1,0 -3.5,0M348.86,284.24a1.75,1.4 0 1,0 3.5,0a1.75,1.4 0 1,0 -3.5,0M356.92,284.24a1.75,1.4 0 1,0 3.5,0a1.75,1.4 0 1,0 -3.5,0M360.68,284.24a1.75,1.4 0 1,0 3.5,0a1.75,1.4 0 1,0 -3.5,0M321.47,287.63a1.75,1.4 0 1,0 3.5,0a1.75,1.4 0 1,0 -3.5,0M324.69,287.63a1.75,1.4 0 1,0 3.5,0a1.75,1.4 0 1,0 -3.5,0M328.99,287.63a1.75,1.4 0 1,0 3.5,0a1.75,1.4 0 1,0 -3.5,0M335.44,287.63a1.75,1.4 0 1,0 3.5,0a1.75,1.4 0 1,0 -3.5,0M338.66,287.63a1.75,1.4 0 1,0 3.5,0a1.75,1.4 0 1,0 -3.5,0M341.88,287.63a1.75,1.4 0 1,0 3.5,0a1.75,1.4 0 1,0 -3.5,0M345.64,287.63a1.75,1.4 0 1,0 3.5,0a1.75,1.4 0 1,0 -3.5,0M349.40,287.63a1.75,1.4 0 1,0 3.5,0a1.75,1.4 0 1,0 -3.5,0M361.21,287.63a1.75,1.4 0 1,0 3.5,0a1.75,1.4 0 1,0 -3.5,0M321.47,291.02a1.75,1.4 0 1,0 3.5,0a1.75,1.4 0 1,0 -3.5,0M324.69,291.02a1.75,1.4 0 1,0 3.5,0a1.75,1.4 0 1,0 -3.5,0M327.92,291.02a1.75,1.4 0 1,0 3.5,0a1.75,1.4 0 1,0 -3.5,0M332.21,291.02a1.75,1.4 0 1,0 3.5,0a1.75,1.4 0 1,0 -3.5,0M335.44,291.02a1.75,1.4 0 1,0 3.5,0a1.75,1.4 0 1,0 -3.5,0M338.66,291.02a1.75,1.4 0 1,0 3.5,0a1.75,1.4 0 1,0 -3.5,0M342.42,291.02a1.75,1.4 0 1,0 3.5,0a1.75,1.4 0 1,0 -3.5,0M345.64,291.02a1.75,1.4 0 1,0 3.5,0a1.75,1.4 0 1,0 -3.5,0M349.40,291.02a1.75,1.4 0 1,0 3.5,0a1.75,1.4 0 1,0 -3.5,0M353.70,291.02a1.75,1.4 0 1,0 3.5,0a1.75,1.4 0 1,0 -3.5,0M357.99,291.02a1.75,1.4 0 1,0 3.5,0a1.75,1.4 0 1,0 -3.5,0M361.21,291.02a1.75,1.4 0 1,0 3.5,0a1.75,1.4 0 1,0 -3.5,0M324.16,294.41a1.75,1.4 0 1,0 3.5,0a1.75,1.4 0 1,0 -3.5,0M327.92,294.41a1.75,1.4 0 1,0 3.5,0a1.75,1.4 0 1,0 -3.5,0M332.21,294.41a1.75,1.4 0 1,0 3.5,0a1.75,1.4 0 1,0 -3.5,0M335.44,294.41a1.75,1.4 0 1,0 3.5,0a1.75,1.4 0 1,0 -3.5,0M338.66,294.41a1.75,1.4 0 1,0 3.5,0a1.75,1.4 0 1,0 -3.5,0M342.42,294.41a1.75,1.4 0 1,0 3.5,0a1.75,1.4 0 1,0 -3.5,0M346.18,294.41a1.75,1.4 0 1,0 3.5,0a1.75,1.4 0 1,0 -3.5,0M349.40,294.41a1.75,1.4 0 1,0 3.5,0a1.75,1.4 0 1,0 -3.5,0M352.62,294.41a1.75,1.4 0 1,0 3.5,0a1.75,1.4 0 1,0 -3.5,0M356.38,294.41a1.75,1.4 0 1,0 3.5,0a1.75,1.4 0 1,0 -3.5,0M360.68,294.41a1.75,1.4 0 1,0 3.5,0a1.75,1.4 0 1,0 -3.5,0M324.16,297.80a1.75,1.4 0 1,0 3.5,0a1.75,1.4 0 1,0 -3.5,0M327.92,297.80a1.75,1.4 0 1,0 3.5,0a1.75,1.4 0 1,0 -3.5,0M331.68,297.80a1.75,1.4 0 1,0 3.5,0a1.75,1.4 0 1,0 -3.5,0M335.44,297.80a1.75,1.4 0 1,0 3.5,0a1.75,1.4 0 1,0 -3.5,0M339.20,297.80a1.75,1.4 0 1,0 3.5,0a1.75,1.4 0 1,0 -3.5,0M342.42,297.80a1.75,1.4 0 1,0 3.5,0a1.75,1.4 0 1,0 -3.5,0M346.18,297.80a1.75,1.4 0 1,0 3.5,0a1.75,1.4 0 1,0 -3.5,0M349.40,297.80a1.75,1.4 0 1,0 3.5,0a1.75,1.4 0 1,0 -3.5,0M353.16,297.80a1.75,1.4 0 1,0 3.5,0a1.75,1.4 0 1,0 -3.5,0M356.92,297.80a1.75,1.4 0 1,0 3.5,0a1.75,1.4 0 1,0 -3.5,0M360.68,297.80a1.75,1.4 0 1,0 3.5,0a1.75,1.4 0 1,0 -3.5,0M367.23,233.39a1.75,1.4 0 1,0 3.5,0a1.75,1.4 0 1,0 -3.5,0M370.99,236.78a1.75,1.4 0 1,0 3.5,0a1.75,1.4 0 1,0 -3.5,0M382.81,240.17a1.75,1.4 0 1,0 3.5,0a1.75,1.4 0 1,0 -3.5,0M386.03,240.17a1.75,1.4 0 1,0 3.5,0a1.75,1.4 0 1,0 -3.5,0M391.40,240.17a1.75,1.4 0 1,0 3.5,0a1.75,1.4 0 1,0 -3.5,0M403.21,240.17a1.75,1.4 0 1,0 3.5,0a1.75,1.4 0 1,0 -3.5,0M365.08,243.56a1.75,1.4 0 1,0 3.5,0a1.75,1.4 0 1,0 -3.5,0M382.27,243.56a1.75,1.4 0 1,0 3.5,0a1.75,1.4 0 1,0 -3.5,0M375.29,246.95a1.75,1.4 0 1,0 3.5,0a1.75,1.4 0 1,0 -3.5,0M382.81,246.95a1.75,1.4 0 1,0 3.5,0a1.75,1.4 0 1,0 -3.5,0M387.10,246.95a1.75,1.4 0 1,0 3.5,0a1.75,1.4 0 1,0 -3.5,0M366.69,250.34a1.75,1.4 0 1,0 3.5,0a1.75,1.4 0 1,0 -3.5,0M370.99,250.34a1.75,1.4 0 1,0 3.5,0a1.75,1.4 0 1,0 -3.5,0M377.44,250.34a1.75,1.4 0 1,0 3.5,0a1.75,1.4 0 1,0 -3.5,0M385.49,250.34a1.75,1.4 0 1,0 3.5,0a1.75,1.4 0 1,0 -3.5,0M403.21,250.34a1.75,1.4 0 1,0 3.5,0a1.75,1.4 0 1,0 -3.5,0M370.99,253.73a1.75,1.4 0 1,0 3.5,0a1.75,1.4 0 1,0 -3.5,0M376.36,253.73a1.75,1.4 0 1,0 3.5,0a1.75,1.4 0 1,0 -3.5,0M382.27,253.73a1.75,1.4 0 1,0 3.5,0a1.75,1.4 0 1,0 -3.5,0M396.23,253.73a1.75,1.4 0 1,0 3.5,0a1.75,1.4 0 1,0 -3.5,0M368.84,257.12a1.75,1.4 0 1,0 3.5,0a1.75,1.4 0 1,0 -3.5,0M372.60,257.12a1.75,1.4 0 1,0 3.5,0a1.75,1.4 0 1,0 -3.5,0M378.51,257.12a1.75,1.4 0 1,0 3.5,0a1.75,1.4 0 1,0 -3.5,0M385.49,257.12a1.75,1.4 0 1,0 3.5,0a1.75,1.4 0 1,0 -3.5,0M400.53,257.12a1.75,1.4 0 1,0 3.5,0a1.75,1.4 0 1,0 -3.5,0M361.86,260.51a1.75,1.4 0 1,0 3.5,0a1.75,1.4 0 1,0 -3.5,0M372.60,260.51a1.75,1.4 0 1,0 3.5,0a1.75,1.4 0 1,0 -3.5,0M382.27,260.51a1.75,1.4 0 1,0 3.5,0a1.75,1.4 0 1,0 -3.5,0M388.18,260.51a1.75,1.4 0 1,0 3.5,0a1.75,1.4 0 1,0 -3.5,0M391.94,260.51a1.75,1.4 0 1,0 3.5,0a1.75,1.4 0 1,0 -3.5,0M402.68,260.51a1.75,1.4 0 1,0 3.5,0a1.75,1.4 0 1,0 -3.5,0M388.18,263.90a1.75,1.4 0 1,0 3.5,0a1.75,1.4 0 1,0 -3.5,0M397.31,263.90a1.75,1.4 0 1,0 3.5,0a1.75,1.4 0 1,0 -3.5,0M390.33,267.29a1.75,1.4 0 1,0 3.5,0a1.75,1.4 0 1,0 -3.5,0M393.55,267.29a1.75,1.4 0 1,0 3.5,0a1.75,1.4 0 1,0 -3.5,0M396.77,267.29a1.75,1.4 0 1,0 3.5,0a1.75,1.4 0 1,0 -3.5,0M401.07,267.29a1.75,1.4 0 1,0 3.5,0a1.75,1.4 0 1,0 -3.5,0M380.66,270.68a1.75,1.4 0 1,0 3.5,0a1.75,1.4 0 1,0 -3.5,0M383.88,270.68a1.75,1.4 0 1,0 3.5,0a1.75,1.4 0 1,0 -3.5,0M389.25,270.68a1.75,1.4 0 1,0 3.5,0a1.75,1.4 0 1,0 -3.5,0M395.70,270.68a1.75,1.4 0 1,0 3.5,0a1.75,1.4 0 1,0 -3.5,0M401.07,270.68a1.75,1.4 0 1,0 3.5,0a1.75,1.4 0 1,0 -3.5,0M366.69,274.07a1.75,1.4 0 1,0 3.5,0a1.75,1.4 0 1,0 -3.5,0M374.21,274.07a1.75,1.4 0 1,0 3.5,0a1.75,1.4 0 1,0 -3.5,0M380.66,274.07a1.75,1.4 0 1,0 3.5,0a1.75,1.4 0 1,0 -3.5,0M383.88,274.07a1.75,1.4 0 1,0 3.5,0a1.75,1.4 0 1,0 -3.5,0M387.10,274.07a1.75,1.4 0 1,0 3.5,0a1.75,1.4 0 1,0 -3.5,0M391.94,274.07a1.75,1.4 0 1,0 3.5,0a1.75,1.4 0 1,0 -3.5,0M395.70,274.07a1.75,1.4 0 1,0 3.5,0a1.75,1.4 0 1,0 -3.5,0M403.21,274.07a1.75,1.4 0 1,0 3.5,0a1.75,1.4 0 1,0 -3.5,0M370.45,277.46a1.75,1.4 0 1,0 3.5,0a1.75,1.4 0 1,0 -3.5,0M379.58,277.46a1.75,1.4 0 1,0 3.5,0a1.75,1.4 0 1,0 -3.5,0M383.88,277.46a1.75,1.4 0 1,0 3.5,0a1.75,1.4 0 1,0 -3.5,0M387.10,277.46a1.75,1.4 0 1,0 3.5,0a1.75,1.4 0 1,0 -3.5,0M395.70,277.46a1.75,1.4 0 1,0 3.5,0a1.75,1.4 0 1,0 -3.5,0M398.92,277.46a1.75,1.4 0 1,0 3.5,0a1.75,1.4 0 1,0 -3.5,0M377.44,280.85a1.75,1.4 0 1,0 3.5,0a1.75,1.4 0 1,0 -3.5,0M381.73,280.85a1.75,1.4 0 1,0 3.5,0a1.75,1.4 0 1,0 -3.5,0M386.03,280.85a1.75,1.4 0 1,0 3.5,0a1.75,1.4 0 1,0 -3.5,0M391.40,280.85a1.75,1.4 0 1,0 3.5,0a1.75,1.4 0 1,0 -3.5,0M395.70,280.85a1.75,1.4 0 1,0 3.5,0a1.75,1.4 0 1,0 -3.5,0M398.92,280.85a1.75,1.4 0 1,0 3.5,0a1.75,1.4 0 1,0 -3.5,0M402.68,280.85a1.75,1.4 0 1,0 3.5,0a1.75,1.4 0 1,0 -3.5,0M365.62,284.24a1.75,1.4 0 1,0 3.5,0a1.75,1.4 0 1,0 -3.5,0M369.92,284.24a1.75,1.4 0 1,0 3.5,0a1.75,1.4 0 1,0 -3.5,0M374.21,284.24a1.75,1.4 0 1,0 3.5,0a1.75,1.4 0 1,0 -3.5,0M377.44,284.24a1.75,1.4 0 1,0 3.5,0a1.75,1.4 0 1,0 -3.5,0M381.73,284.24a1.75,1.4 0 1,0 3.5,0a1.75,1.4 0 1,0 -3.5,0M386.03,284.24a1.75,1.4 0 1,0 3.5,0a1.75,1.4 0 1,0 -3.5,0M390.33,284.24a1.75,1.4 0 1,0 3.5,0a1.75,1.4 0 1,0 -3.5,0M394.62,284.24a1.75,1.4 0 1,0 3.5,0a1.75,1.4 0 1,0 -3.5,0M398.92,284.24a1.75,1.4 0 1,0 3.5,0a1.75,1.4 0 1,0 -3.5,0M403.21,284.24a1.75,1.4 0 1,0 3.5,0a1.75,1.4 0 1,0 -3.5,0M378.51,287.63a1.75,1.4 0 1,0 3.5,0a1.75,1.4 0 1,0 -3.5,0M382.81,287.63a1.75,1.4 0 1,0 3.5,0a1.75,1.4 0 1,0 -3.5,0M386.03,287.63a1.75,1.4 0 1,0 3.5,0a1.75,1.4 0 1,0 -3.5,0M392.47,287.63a1.75,1.4 0 1,0 3.5,0a1.75,1.4 0 1,0 -3.5,0M395.70,287.63a1.75,1.4 0 1,0 3.5,0a1.75,1.4 0 1,0 -3.5,0M399.99,287.63a1.75,1.4 0 1,0 3.5,0a1.75,1.4 0 1,0 -3.5,0M403.21,287.63a1.75,1.4 0 1,0 3.5,0a1.75,1.4 0 1,0 -3.5,0M368.31,291.02a1.75,1.4 0 1,0 3.5,0a1.75,1.4 0 1,0 -3.5,0M372.07,291.02a1.75,1.4 0 1,0 3.5,0a1.75,1.4 0 1,0 -3.5,0M376.36,291.02a1.75,1.4 0 1,0 3.5,0a1.75,1.4 0 1,0 -3.5,0M380.66,291.02a1.75,1.4 0 1,0 3.5,0a1.75,1.4 0 1,0 -3.5,0M384.42,291.02a1.75,1.4 0 1,0 3.5,0a1.75,1.4 0 1,0 -3.5,0M388.18,291.02a1.75,1.4 0 1,0 3.5,0a1.75,1.4 0 1,0 -3.5,0M392.47,291.02a1.75,1.4 0 1,0 3.5,0a1.75,1.4 0 1,0 -3.5,0M396.77,291.02a1.75,1.4 0 1,0 3.5,0a1.75,1.4 0 1,0 -3.5,0M401.07,291.02a1.75,1.4 0 1,0 3.5,0a1.75,1.4 0 1,0 -3.5,0M363.47,294.41a1.75,1.4 0 1,0 3.5,0a1.75,1.4 0 1,0 -3.5,0M368.31,294.41a1.75,1.4 0 1,0 3.5,0a1.75,1.4 0 1,0 -3.5,0M372.07,294.41a1.75,1.4 0 1,0 3.5,0a1.75,1.4 0 1,0 -3.5,0M376.36,294.41a1.75,1.4 0 1,0 3.5,0a1.75,1.4 0 1,0 -3.5,0M380.66,294.41a1.75,1.4 0 1,0 3.5,0a1.75,1.4 0 1,0 -3.5,0M384.95,294.41a1.75,1.4 0 1,0 3.5,0a1.75,1.4 0 1,0 -3.5,0M388.18,294.41a1.75,1.4 0 1,0 3.5,0a1.75,1.4 0 1,0 -3.5,0M392.47,294.41a1.75,1.4 0 1,0 3.5,0a1.75,1.4 0 1,0 -3.5,0M396.77,294.41a1.75,1.4 0 1,0 3.5,0a1.75,1.4 0 1,0 -3.5,0M401.07,294.41a1.75,1.4 0 1,0 3.5,0a1.75,1.4 0 1,0 -3.5,0M363.47,297.80a1.75,1.4 0 1,0 3.5,0a1.75,1.4 0 1,0 -3.5,0M367.77,297.80a1.75,1.4 0 1,0 3.5,0a1.75,1.4 0 1,0 -3.5,0M372.07,297.80a1.75,1.4 0 1,0 3.5,0a1.75,1.4 0 1,0 -3.5,0M376.36,297.80a1.75,1.4 0 1,0 3.5,0a1.75,1.4 0 1,0 -3.5,0M380.66,297.80a1.75,1.4 0 1,0 3.5,0a1.75,1.4 0 1,0 -3.5,0M384.95,297.80a1.75,1.4 0 1,0 3.5,0a1.75,1.4 0 1,0 -3.5,0M388.18,297.80a1.75,1.4 0 1,0 3.5,0a1.75,1.4 0 1,0 -3.5,0M392.47,297.80a1.75,1.4 0 1,0 3.5,0a1.75,1.4 0 1,0 -3.5,0M396.77,297.80a1.75,1.4 0 1,0 3.5,0a1.75,1.4 0 1,0 -3.5,0M401.07,297.80a1.75,1.4 0 1,0 3.5,0a1.75,1.4 0 1,0 -3.5,0M404.94,230.00a1.75,1.4 0 1,0 3.5,0a1.75,1.4 0 1,0 -3.5,0M421.58,233.39a1.75,1.4 0 1,0 3.5,0a1.75,1.4 0 1,0 -3.5,0M416.75,240.17a1.75,1.4 0 1,0 3.5,0a1.75,1.4 0 1,0 -3.5,0M430.18,243.56a1.75,1.4 0 1,0 3.5,0a1.75,1.4 0 1,0 -3.5,0M445.75,243.56a1.75,1.4 0 1,0 3.5,0a1.75,1.4 0 1,0 -3.5,0M430.18,246.95a1.75,1.4 0 1,0 3.5,0a1.75,1.4 0 1,0 -3.5,0M411.92,250.34a1.75,1.4 0 1,0 3.5,0a1.75,1.4 0 1,0 -3.5,0M421.05,250.34a1.75,1.4 0 1,0 3.5,0a1.75,1.4 0 1,0 -3.5,0M426.42,250.34a1.75,1.4 0 1,0 3.5,0a1.75,1.4 0 1,0 -3.5,0M442.53,250.34a1.75,1.4 0 1,0 3.5,0a1.75,1.4 0 1,0 -3.5,0M408.69,253.73a1.75,1.4 0 1,0 3.5,0a1.75,1.4 0 1,0 -3.5,0M415.14,253.73a1.75,1.4 0 1,0 3.5,0a1.75,1.4 0 1,0 -3.5,0M430.18,253.73a1.75,1.4 0 1,0 3.5,0a1.75,1.4 0 1,0 -3.5,0M445.75,253.73a1.75,1.4 0 1,0 3.5,0a1.75,1.4 0 1,0 -3.5,0M409.77,260.51a1.75,1.4 0 1,0 3.5,0a1.75,1.4 0 1,0 -3.5,0M428.57,260.51a1.75,1.4 0 1,0 3.5,0a1.75,1.4 0 1,0 -3.5,0M441.99,260.51a1.75,1.4 0 1,0 3.5,0a1.75,1.4 0 1,0 -3.5,0M404.40,263.90a1.75,1.4 0 1,0 3.5,0a1.75,1.4 0 1,0 -3.5,0M410.84,263.90a1.75,1.4 0 1,0 3.5,0a1.75,1.4 0 1,0 -3.5,0M414.60,263.90a1.75,1.4 0 1,0 3.5,0a1.75,1.4 0 1,0 -3.5,0M417.82,263.90a1.75,1.4 0 1,0 3.5,0a1.75,1.4 0 1,0 -3.5,0M423.20,263.90a1.75,1.4 0 1,0 3.5,0a1.75,1.4 0 1,0 -3.5,0M441.99,263.90a1.75,1.4 0 1,0 3.5,0a1.75,1.4 0 1,0 -3.5,0M403.86,267.29a1.75,1.4 0 1,0 3.5,0a1.75,1.4 0 1,0 -3.5,0M410.84,267.29a1.75,1.4 0 1,0 3.5,0a1.75,1.4 0 1,0 -3.5,0M423.20,267.29a1.75,1.4 0 1,0 3.5,0a1.75,1.4 0 1,0 -3.5,0M426.95,267.29a1.75,1.4 0 1,0 3.5,0a1.75,1.4 0 1,0 -3.5,0M445.75,267.29a1.75,1.4 0 1,0 3.5,0a1.75,1.4 0 1,0 -3.5,0M409.77,270.68a1.75,1.4 0 1,0 3.5,0a1.75,1.4 0 1,0 -3.5,0M417.29,270.68a1.75,1.4 0 1,0 3.5,0a1.75,1.4 0 1,0 -3.5,0M420.51,270.68a1.75,1.4 0 1,0 3.5,0a1.75,1.4 0 1,0 -3.5,0M423.73,270.68a1.75,1.4 0 1,0 3.5,0a1.75,1.4 0 1,0 -3.5,0M426.95,270.68a1.75,1.4 0 1,0 3.5,0a1.75,1.4 0 1,0 -3.5,0M432.86,270.68a1.75,1.4 0 1,0 3.5,0a1.75,1.4 0 1,0 -3.5,0M436.62,270.68a1.75,1.4 0 1,0 3.5,0a1.75,1.4 0 1,0 -3.5,0M439.84,270.68a1.75,1.4 0 1,0 3.5,0a1.75,1.4 0 1,0 -3.5,0M443.07,270.68a1.75,1.4 0 1,0 3.5,0a1.75,1.4 0 1,0 -3.5,0M412.45,274.07a1.75,1.4 0 1,0 3.5,0a1.75,1.4 0 1,0 -3.5,0M416.21,274.07a1.75,1.4 0 1,0 3.5,0a1.75,1.4 0 1,0 -3.5,0M425.34,274.07a1.75,1.4 0 1,0 3.5,0a1.75,1.4 0 1,0 -3.5,0M403.32,277.46a1.75,1.4 0 1,0 3.5,0a1.75,1.4 0 1,0 -3.5,0M409.77,277.46a1.75,1.4 0 1,0 3.5,0a1.75,1.4 0 1,0 -3.5,0M414.07,277.46a1.75,1.4 0 1,0 3.5,0a1.75,1.4 0 1,0 -3.5,0M417.82,277.46a1.75,1.4 0 1,0 3.5,0a1.75,1.4 0 1,0 -3.5,0M421.58,277.46a1.75,1.4 0 1,0 3.5,0a1.75,1.4 0 1,0 -3.5,0M431.79,277.46a1.75,1.4 0 1,0 3.5,0a1.75,1.4 0 1,0 -3.5,0M436.08,277.46a1.75,1.4 0 1,0 3.5,0a1.75,1.4 0 1,0 -3.5,0M406.55,280.85a1.75,1.4 0 1,0 3.5,0a1.75,1.4 0 1,0 -3.5,0M410.31,280.85a1.75,1.4 0 1,0 3.5,0a1.75,1.4 0 1,0 -3.5,0M414.07,280.85a1.75,1.4 0 1,0 3.5,0a1.75,1.4 0 1,0 -3.5,0M417.82,280.85a1.75,1.4 0 1,0 3.5,0a1.75,1.4 0 1,0 -3.5,0M421.58,280.85a1.75,1.4 0 1,0 3.5,0a1.75,1.4 0 1,0 -3.5,0M428.03,280.85a1.75,1.4 0 1,0 3.5,0a1.75,1.4 0 1,0 -3.5,0M431.79,280.85a1.75,1.4 0 1,0 3.5,0a1.75,1.4 0 1,0 -3.5,0M435.55,280.85a1.75,1.4 0 1,0 3.5,0a1.75,1.4 0 1,0 -3.5,0M406.55,284.24a1.75,1.4 0 1,0 3.5,0a1.75,1.4 0 1,0 -3.5,0M410.31,284.24a1.75,1.4 0 1,0 3.5,0a1.75,1.4 0 1,0 -3.5,0M414.07,284.24a1.75,1.4 0 1,0 3.5,0a1.75,1.4 0 1,0 -3.5,0M417.82,284.24a1.75,1.4 0 1,0 3.5,0a1.75,1.4 0 1,0 -3.5,0M421.58,284.24a1.75,1.4 0 1,0 3.5,0a1.75,1.4 0 1,0 -3.5,0M425.34,284.24a1.75,1.4 0 1,0 3.5,0a1.75,1.4 0 1,0 -3.5,0M430.18,284.24a1.75,1.4 0 1,0 3.5,0a1.75,1.4 0 1,0 -3.5,0M406.55,287.63a1.75,1.4 0 1,0 3.5,0a1.75,1.4 0 1,0 -3.5,0M410.31,287.63a1.75,1.4 0 1,0 3.5,0a1.75,1.4 0 1,0 -3.5,0M414.07,287.63a1.75,1.4 0 1,0 3.5,0a1.75,1.4 0 1,0 -3.5,0M417.82,287.63a1.75,1.4 0 1,0 3.5,0a1.75,1.4 0 1,0 -3.5,0M421.58,287.63a1.75,1.4 0 1,0 3.5,0a1.75,1.4 0 1,0 -3.5,0M429.10,287.63a1.75,1.4 0 1,0 3.5,0a1.75,1.4 0 1,0 -3.5,0M433.40,287.63a1.75,1.4 0 1,0 3.5,0a1.75,1.4 0 1,0 -3.5,0M437.70,287.63a1.75,1.4 0 1,0 3.5,0a1.75,1.4 0 1,0 -3.5,0M443.07,287.63a1.75,1.4 0 1,0 3.5,0a1.75,1.4 0 1,0 -3.5,0M407.08,291.02a1.75,1.4 0 1,0 3.5,0a1.75,1.4 0 1,0 -3.5,0M410.31,291.02a1.75,1.4 0 1,0 3.5,0a1.75,1.4 0 1,0 -3.5,0M414.07,291.02a1.75,1.4 0 1,0 3.5,0a1.75,1.4 0 1,0 -3.5,0M417.82,291.02a1.75,1.4 0 1,0 3.5,0a1.75,1.4 0 1,0 -3.5,0M421.58,291.02a1.75,1.4 0 1,0 3.5,0a1.75,1.4 0 1,0 -3.5,0M426.42,291.02a1.75,1.4 0 1,0 3.5,0a1.75,1.4 0 1,0 -3.5,0M431.25,291.02a1.75,1.4 0 1,0 3.5,0a1.75,1.4 0 1,0 -3.5,0M435.01,291.02a1.75,1.4 0 1,0 3.5,0a1.75,1.4 0 1,0 -3.5,0M439.31,291.02a1.75,1.4 0 1,0 3.5,0a1.75,1.4 0 1,0 -3.5,0M407.08,294.41a1.75,1.4 0 1,0 3.5,0a1.75,1.4 0 1,0 -3.5,0M410.31,294.41a1.75,1.4 0 1,0 3.5,0a1.75,1.4 0 1,0 -3.5,0M414.07,294.41a1.75,1.4 0 1,0 3.5,0a1.75,1.4 0 1,0 -3.5,0M417.82,294.41a1.75,1.4 0 1,0 3.5,0a1.75,1.4 0 1,0 -3.5,0M421.58,294.41a1.75,1.4 0 1,0 3.5,0a1.75,1.4 0 1,0 -3.5,0M424.81,294.41a1.75,1.4 0 1,0 3.5,0a1.75,1.4 0 1,0 -3.5,0M428.57,294.41a1.75,1.4 0 1,0 3.5,0a1.75,1.4 0 1,0 -3.5,0M432.86,294.41a1.75,1.4 0 1,0 3.5,0a1.75,1.4 0 1,0 -3.5,0M436.62,294.41a1.75,1.4 0 1,0 3.5,0a1.75,1.4 0 1,0 -3.5,0M440.92,294.41a1.75,1.4 0 1,0 3.5,0a1.75,1.4 0 1,0 -3.5,0M404.40,297.80a1.75,1.4 0 1,0 3.5,0a1.75,1.4 0 1,0 -3.5,0M408.69,297.80a1.75,1.4 0 1,0 3.5,0a1.75,1.4 0 1,0 -3.5,0M412.99,297.80a1.75,1.4 0 1,0 3.5,0a1.75,1.4 0 1,0 -3.5,0M417.29,297.80a1.75,1.4 0 1,0 3.5,0a1.75,1.4 0 1,0 -3.5,0M421.58,297.80a1.75,1.4 0 1,0 3.5,0a1.75,1.4 0 1,0 -3.5,0M425.88,297.80a1.75,1.4 0 1,0 3.5,0a1.75,1.4 0 1,0 -3.5,0M430.18,297.80a1.75,1.4 0 1,0 3.5,0a1.75,1.4 0 1,0 -3.5,0M434.47,297.80a1.75,1.4 0 1,0 3.5,0a1.75,1.4 0 1,0 -3.5,0M438.77,297.80a1.75,1.4 0 1,0 3.5,0a1.75,1.4 0 1,0 -3.5,0M443.07,297.80a1.75,1.4 0 1,0 3.5,0a1.75,1.4 0 1,0 -3.5,0M466.81,230.00a1.75,1.4 0 1,0 3.5,0a1.75,1.4 0 1,0 -3.5,0M463.58,240.17a1.75,1.4 0 1,0 3.5,0a1.75,1.4 0 1,0 -3.5,0M450.16,243.56a1.75,1.4 0 1,0 3.5,0a1.75,1.4 0 1,0 -3.5,0M482.38,243.56a1.75,1.4 0 1,0 3.5,0a1.75,1.4 0 1,0 -3.5,0M485.60,243.56a1.75,1.4 0 1,0 3.5,0a1.75,1.4 0 1,0 -3.5,0M452.84,246.95a1.75,1.4 0 1,0 3.5,0a1.75,1.4 0 1,0 -3.5,0M467.34,246.95a1.75,1.4 0 1,0 3.5,0a1.75,1.4 0 1,0 -3.5,0M452.31,250.34a1.75,1.4 0 1,0 3.5,0a1.75,1.4 0 1,0 -3.5,0M457.68,250.34a1.75,1.4 0 1,0 3.5,0a1.75,1.4 0 1,0 -3.5,0M486.14,250.34a1.75,1.4 0 1,0 3.5,0a1.75,1.4 0 1,0 -3.5,0M451.77,253.73a1.75,1.4 0 1,0 3.5,0a1.75,1.4 0 1,0 -3.5,0M461.97,253.73a1.75,1.4 0 1,0 3.5,0a1.75,1.4 0 1,0 -3.5,0M464.66,253.73a1.75,1.4 0 1,0 3.5,0a1.75,1.4 0 1,0 -3.5,0M451.77,257.12a1.75,1.4 0 1,0 3.5,0a1.75,1.4 0 1,0 -3.5,0M454.99,257.12a1.75,1.4 0 1,0 3.5,0a1.75,1.4 0 1,0 -3.5,0M470.57,257.12a1.75,1.4 0 1,0 3.5,0a1.75,1.4 0 1,0 -3.5,0M448.01,260.51a1.75,1.4 0 1,0 3.5,0a1.75,1.4 0 1,0 -3.5,0M451.23,260.51a1.75,1.4 0 1,0 3.5,0a1.75,1.4 0 1,0 -3.5,0M459.29,260.51a1.75,1.4 0 1,0 3.5,0a1.75,1.4 0 1,0 -3.5,0M464.12,260.51a1.75,1.4 0 1,0 3.5,0a1.75,1.4 0 1,0 -3.5,0M466.81,260.51a1.75,1.4 0 1,0 3.5,0a1.75,1.4 0 1,0 -3.5,0M472.18,260.51a1.75,1.4 0 1,0 3.5,0a1.75,1.4 0 1,0 -3.5,0M475.40,260.51a1.75,1.4 0 1,0 3.5,0a1.75,1.4 0 1,0 -3.5,0M486.68,260.51a1.75,1.4 0 1,0 3.5,0a1.75,1.4 0 1,0 -3.5,0M448.55,263.90a1.75,1.4 0 1,0 3.5,0a1.75,1.4 0 1,0 -3.5,0M451.77,263.90a1.75,1.4 0 1,0 3.5,0a1.75,1.4 0 1,0 -3.5,0M454.99,263.90a1.75,1.4 0 1,0 3.5,0a1.75,1.4 0 1,0 -3.5,0M464.66,263.90a1.75,1.4 0 1,0 3.5,0a1.75,1.4 0 1,0 -3.5,0M467.88,263.90a1.75,1.4 0 1,0 3.5,0a1.75,1.4 0 1,0 -3.5,0M450.69,267.29a1.75,1.4 0 1,0 3.5,0a1.75,1.4 0 1,0 -3.5,0M464.66,267.29a1.75,1.4 0 1,0 3.5,0a1.75,1.4 0 1,0 -3.5,0M446.40,270.68a1.75,1.4 0 1,0 3.5,0a1.75,1.4 0 1,0 -3.5,0M449.62,270.68a1.75,1.4 0 1,0 3.5,0a1.75,1.4 0 1,0 -3.5,0M452.84,270.68a1.75,1.4 0 1,0 3.5,0a1.75,1.4 0 1,0 -3.5,0M456.07,270.68a1.75,1.4 0 1,0 3.5,0a1.75,1.4 0 1,0 -3.5,0M468.95,270.68a1.75,1.4 0 1,0 3.5,0a1.75,1.4 0 1,0 -3.5,0M485.60,270.68a1.75,1.4 0 1,0 3.5,0a1.75,1.4 0 1,0 -3.5,0M446.40,274.07a1.75,1.4 0 1,0 3.5,0a1.75,1.4 0 1,0 -3.5,0M449.62,274.07a1.75,1.4 0 1,0 3.5,0a1.75,1.4 0 1,0 -3.5,0M452.84,274.07a1.75,1.4 0 1,0 3.5,0a1.75,1.4 0 1,0 -3.5,0M460.36,274.07a1.75,1.4 0 1,0 3.5,0a1.75,1.4 0 1,0 -3.5,0M467.88,274.07a1.75,1.4 0 1,0 3.5,0a1.75,1.4 0 1,0 -3.5,0M476.47,274.07a1.75,1.4 0 1,0 3.5,0a1.75,1.4 0 1,0 -3.5,0M485.60,274.07a1.75,1.4 0 1,0 3.5,0a1.75,1.4 0 1,0 -3.5,0M488.29,274.07a1.75,1.4 0 1,0 3.5,0a1.75,1.4 0 1,0 -3.5,0M446.40,277.46a1.75,1.4 0 1,0 3.5,0a1.75,1.4 0 1,0 -3.5,0M449.62,277.46a1.75,1.4 0 1,0 3.5,0a1.75,1.4 0 1,0 -3.5,0M452.84,277.46a1.75,1.4 0 1,0 3.5,0a1.75,1.4 0 1,0 -3.5,0M456.07,277.46a1.75,1.4 0 1,0 3.5,0a1.75,1.4 0 1,0 -3.5,0M459.82,277.46a1.75,1.4 0 1,0 3.5,0a1.75,1.4 0 1,0 -3.5,0M464.12,277.46a1.75,1.4 0 1,0 3.5,0a1.75,1.4 0 1,0 -3.5,0M467.34,277.46a1.75,1.4 0 1,0 3.5,0a1.75,1.4 0 1,0 -3.5,0M475.94,277.46a1.75,1.4 0 1,0 3.5,0a1.75,1.4 0 1,0 -3.5,0M482.38,277.46a1.75,1.4 0 1,0 3.5,0a1.75,1.4 0 1,0 -3.5,0M486.14,277.46a1.75,1.4 0 1,0 3.5,0a1.75,1.4 0 1,0 -3.5,0M446.40,280.85a1.75,1.4 0 1,0 3.5,0a1.75,1.4 0 1,0 -3.5,0M449.62,280.85a1.75,1.4 0 1,0 3.5,0a1.75,1.4 0 1,0 -3.5,0M452.84,280.85a1.75,1.4 0 1,0 3.5,0a1.75,1.4 0 1,0 -3.5,0M456.07,280.85a1.75,1.4 0 1,0 3.5,0a1.75,1.4 0 1,0 -3.5,0M459.82,280.85a1.75,1.4 0 1,0 3.5,0a1.75,1.4 0 1,0 -3.5,0M464.12,280.85a1.75,1.4 0 1,0 3.5,0a1.75,1.4 0 1,0 -3.5,0M467.34,280.85a1.75,1.4 0 1,0 3.5,0a1.75,1.4 0 1,0 -3.5,0M474.86,280.85a1.75,1.4 0 1,0 3.5,0a1.75,1.4 0 1,0 -3.5,0M478.62,280.85a1.75,1.4 0 1,0 3.5,0a1.75,1.4 0 1,0 -3.5,0M482.92,280.85a1.75,1.4 0 1,0 3.5,0a1.75,1.4 0 1,0 -3.5,0M486.68,280.85a1.75,1.4 0 1,0 3.5,0a1.75,1.4 0 1,0 -3.5,0M446.40,284.24a1.75,1.4 0 1,0 3.5,0a1.75,1.4 0 1,0 -3.5,0M449.62,284.24a1.75,1.4 0 1,0 3.5,0a1.75,1.4 0 1,0 -3.5,0M452.84,284.24a1.75,1.4 0 1,0 3.5,0a1.75,1.4 0 1,0 -3.5,0M456.07,284.24a1.75,1.4 0 1,0 3.5,0a1.75,1.4 0 1,0 -3.5,0M459.82,284.24a1.75,1.4 0 1,0 3.5,0a1.75,1.4 0 1,0 -3.5,0M467.34,284.24a1.75,1.4 0 1,0 3.5,0a1.75,1.4 0 1,0 -3.5,0M475.40,284.24a1.75,1.4 0 1,0 3.5,0a1.75,1.4 0 1,0 -3.5,0M486.68,284.24a1.75,1.4 0 1,0 3.5,0a1.75,1.4 0 1,0 -3.5,0M446.40,287.63a1.75,1.4 0 1,0 3.5,0a1.75,1.4 0 1,0 -3.5,0M449.62,287.63a1.75,1.4 0 1,0 3.5,0a1.75,1.4 0 1,0 -3.5,0M452.84,287.63a1.75,1.4 0 1,0 3.5,0a1.75,1.4 0 1,0 -3.5,0M456.07,287.63a1.75,1.4 0 1,0 3.5,0a1.75,1.4 0 1,0 -3.5,0M459.82,287.63a1.75,1.4 0 1,0 3.5,0a1.75,1.4 0 1,0 -3.5,0M463.58,287.63a1.75,1.4 0 1,0 3.5,0a1.75,1.4 0 1,0 -3.5,0M467.34,287.63a1.75,1.4 0 1,0 3.5,0a1.75,1.4 0 1,0 -3.5,0M471.10,287.63a1.75,1.4 0 1,0 3.5,0a1.75,1.4 0 1,0 -3.5,0M474.33,287.63a1.75,1.4 0 1,0 3.5,0a1.75,1.4 0 1,0 -3.5,0M477.55,287.63a1.75,1.4 0 1,0 3.5,0a1.75,1.4 0 1,0 -3.5,0M481.31,287.63a1.75,1.4 0 1,0 3.5,0a1.75,1.4 0 1,0 -3.5,0M485.07,287.63a1.75,1.4 0 1,0 3.5,0a1.75,1.4 0 1,0 -3.5,0M488.29,287.63a1.75,1.4 0 1,0 3.5,0a1.75,1.4 0 1,0 -3.5,0M446.40,291.02a1.75,1.4 0 1,0 3.5,0a1.75,1.4 0 1,0 -3.5,0M449.62,291.02a1.75,1.4 0 1,0 3.5,0a1.75,1.4 0 1,0 -3.5,0M452.84,291.02a1.75,1.4 0 1,0 3.5,0a1.75,1.4 0 1,0 -3.5,0M456.07,291.02a1.75,1.4 0 1,0 3.5,0a1.75,1.4 0 1,0 -3.5,0M459.82,291.02a1.75,1.4 0 1,0 3.5,0a1.75,1.4 0 1,0 -3.5,0M463.58,291.02a1.75,1.4 0 1,0 3.5,0a1.75,1.4 0 1,0 -3.5,0M467.34,291.02a1.75,1.4 0 1,0 3.5,0a1.75,1.4 0 1,0 -3.5,0M471.10,291.02a1.75,1.4 0 1,0 3.5,0a1.75,1.4 0 1,0 -3.5,0M474.86,291.02a1.75,1.4 0 1,0 3.5,0a1.75,1.4 0 1,0 -3.5,0M478.62,291.02a1.75,1.4 0 1,0 3.5,0a1.75,1.4 0 1,0 -3.5,0M482.38,291.02a1.75,1.4 0 1,0 3.5,0a1.75,1.4 0 1,0 -3.5,0M486.14,291.02a1.75,1.4 0 1,0 3.5,0a1.75,1.4 0 1,0 -3.5,0M446.40,294.41a1.75,1.4 0 1,0 3.5,0a1.75,1.4 0 1,0 -3.5,0M450.16,294.41a1.75,1.4 0 1,0 3.5,0a1.75,1.4 0 1,0 -3.5,0M453.92,294.41a1.75,1.4 0 1,0 3.5,0a1.75,1.4 0 1,0 -3.5,0M457.68,294.41a1.75,1.4 0 1,0 3.5,0a1.75,1.4 0 1,0 -3.5,0M461.44,294.41a1.75,1.4 0 1,0 3.5,0a1.75,1.4 0 1,0 -3.5,0M466.81,294.41a1.75,1.4 0 1,0 3.5,0a1.75,1.4 0 1,0 -3.5,0M471.10,294.41a1.75,1.4 0 1,0 3.5,0a1.75,1.4 0 1,0 -3.5,0M474.86,294.41a1.75,1.4 0 1,0 3.5,0a1.75,1.4 0 1,0 -3.5,0M478.62,294.41a1.75,1.4 0 1,0 3.5,0a1.75,1.4 0 1,0 -3.5,0M482.92,294.41a1.75,1.4 0 1,0 3.5,0a1.75,1.4 0 1,0 -3.5,0M486.68,294.41a1.75,1.4 0 1,0 3.5,0a1.75,1.4 0 1,0 -3.5,0M446.40,297.80a1.75,1.4 0 1,0 3.5,0a1.75,1.4 0 1,0 -3.5,0M450.16,297.80a1.75,1.4 0 1,0 3.5,0a1.75,1.4 0 1,0 -3.5,0M453.92,297.80a1.75,1.4 0 1,0 3.5,0a1.75,1.4 0 1,0 -3.5,0M457.68,297.80a1.75,1.4 0 1,0 3.5,0a1.75,1.4 0 1,0 -3.5,0M461.44,297.80a1.75,1.4 0 1,0 3.5,0a1.75,1.4 0 1,0 -3.5,0M465.73,297.80a1.75,1.4 0 1,0 3.5,0a1.75,1.4 0 1,0 -3.5,0M470.03,297.80a1.75,1.4 0 1,0 3.5,0a1.75,1.4 0 1,0 -3.5,0M474.33,297.80a1.75,1.4 0 1,0 3.5,0a1.75,1.4 0 1,0 -3.5,0M478.62,297.80a1.75,1.4 0 1,0 3.5,0a1.75,1.4 0 1,0 -3.5,0M482.92,297.80a1.75,1.4 0 1,0 3.5,0a1.75,1.4 0 1,0 -3.5,0M486.68,297.80a1.75,1.4 0 1,0 3.5,0a1.75,1.4 0 1,0 -3.5,0M505.58,230.00a1.75,1.4 0 1,0 3.5,0a1.75,1.4 0 1,0 -3.5,0M509.34,240.17a1.75,1.4 0 1,0 3.5,0a1.75,1.4 0 1,0 -3.5,0M517.40,240.17a1.75,1.4 0 1,0 3.5,0a1.75,1.4 0 1,0 -3.5,0M512.57,246.95a1.75,1.4 0 1,0 3.5,0a1.75,1.4 0 1,0 -3.5,0M493.23,250.34a1.75,1.4 0 1,0 3.5,0a1.75,1.4 0 1,0 -3.5,0M492.69,253.73a1.75,1.4 0 1,0 3.5,0a1.75,1.4 0 1,0 -3.5,0M506.12,257.12a1.75,1.4 0 1,0 3.5,0a1.75,1.4 0 1,0 -3.5,0M515.79,257.12a1.75,1.4 0 1,0 3.5,0a1.75,1.4 0 1,0 -3.5,0M492.16,260.51a1.75,1.4 0 1,0 3.5,0a1.75,1.4 0 1,0 -3.5,0M519.55,260.51a1.75,1.4 0 1,0 3.5,0a1.75,1.4 0 1,0 -3.5,0M495.92,267.29a1.75,1.4 0 1,0 3.5,0a1.75,1.4 0 1,0 -3.5,0M504.51,267.29a1.75,1.4 0 1,0 3.5,0a1.75,1.4 0 1,0 -3.5,0M512.03,267.29a1.75,1.4 0 1,0 3.5,0a1.75,1.4 0 1,0 -3.5,0M492.16,270.68a1.75,1.4 0 1,0 3.5,0a1.75,1.4 0 1,0 -3.5,0M507.73,270.68a1.75,1.4 0 1,0 3.5,0a1.75,1.4 0 1,0 -3.5,0M527.07,270.68a1.75,1.4 0 1,0 3.5,0a1.75,1.4 0 1,0 -3.5,0M498.07,274.07a1.75,1.4 0 1,0 3.5,0a1.75,1.4 0 1,0 -3.5,0M502.36,274.07a1.75,1.4 0 1,0 3.5,0a1.75,1.4 0 1,0 -3.5,0M507.20,274.07a1.75,1.4 0 1,0 3.5,0a1.75,1.4 0 1,0 -3.5,0M520.08,274.07a1.75,1.4 0 1,0 3.5,0a1.75,1.4 0 1,0 -3.5,0M525.46,274.07a1.75,1.4 0 1,0 3.5,0a1.75,1.4 0 1,0 -3.5,0M493.23,277.46a1.75,1.4 0 1,0 3.5,0a1.75,1.4 0 1,0 -3.5,0M500.21,277.46a1.75,1.4 0 1,0 3.5,0a1.75,1.4 0 1,0 -3.5,0M503.44,277.46a1.75,1.4 0 1,0 3.5,0a1.75,1.4 0 1,0 -3.5,0M508.81,277.46a1.75,1.4 0 1,0 3.5,0a1.75,1.4 0 1,0 -3.5,0M517.40,277.46a1.75,1.4 0 1,0 3.5,0a1.75,1.4 0 1,0 -3.5,0M521.70,277.46a1.75,1.4 0 1,0 3.5,0a1.75,1.4 0 1,0 -3.5,0M527.07,277.46a1.75,1.4 0 1,0 3.5,0a1.75,1.4 0 1,0 -3.5,0M503.97,280.85a1.75,1.4 0 1,0 3.5,0a1.75,1.4 0 1,0 -3.5,0M507.73,280.85a1.75,1.4 0 1,0 3.5,0a1.75,1.4 0 1,0 -3.5,0M510.95,280.85a1.75,1.4 0 1,0 3.5,0a1.75,1.4 0 1,0 -3.5,0M516.33,280.85a1.75,1.4 0 1,0 3.5,0a1.75,1.4 0 1,0 -3.5,0M522.77,280.85a1.75,1.4 0 1,0 3.5,0a1.75,1.4 0 1,0 -3.5,0M525.99,280.85a1.75,1.4 0 1,0 3.5,0a1.75,1.4 0 1,0 -3.5,0M529.75,280.85a1.75,1.4 0 1,0 3.5,0a1.75,1.4 0 1,0 -3.5,0M491.08,284.24a1.75,1.4 0 1,0 3.5,0a1.75,1.4 0 1,0 -3.5,0M494.84,284.24a1.75,1.4 0 1,0 3.5,0a1.75,1.4 0 1,0 -3.5,0M497.53,284.24a1.75,1.4 0 1,0 3.5,0a1.75,1.4 0 1,0 -3.5,0M514.18,284.24a1.75,1.4 0 1,0 3.5,0a1.75,1.4 0 1,0 -3.5,0M517.40,284.24a1.75,1.4 0 1,0 3.5,0a1.75,1.4 0 1,0 -3.5,0M521.70,284.24a1.75,1.4 0 1,0 3.5,0a1.75,1.4 0 1,0 -3.5,0M525.46,284.24a1.75,1.4 0 1,0 3.5,0a1.75,1.4 0 1,0 -3.5,0M529.21,284.24a1.75,1.4 0 1,0 3.5,0a1.75,1.4 0 1,0 -3.5,0M491.08,287.63a1.75,1.4 0 1,0 3.5,0a1.75,1.4 0 1,0 -3.5,0M494.84,287.63a1.75,1.4 0 1,0 3.5,0a1.75,1.4 0 1,0 -3.5,0M498.60,287.63a1.75,1.4 0 1,0 3.5,0a1.75,1.4 0 1,0 -3.5,0M502.36,287.63a1.75,1.4 0 1,0 3.5,0a1.75,1.4 0 1,0 -3.5,0M505.58,287.63a1.75,1.4 0 1,0 3.5,0a1.75,1.4 0 1,0 -3.5,0M511.49,287.63a1.75,1.4 0 1,0 3.5,0a1.75,1.4 0 1,0 -3.5,0M515.25,287.63a1.75,1.4 0 1,0 3.5,0a1.75,1.4 0 1,0 -3.5,0M519.55,287.63a1.75,1.4 0 1,0 3.5,0a1.75,1.4 0 1,0 -3.5,0M523.31,287.63a1.75,1.4 0 1,0 3.5,0a1.75,1.4 0 1,0 -3.5,0M527.07,287.63a1.75,1.4 0 1,0 3.5,0a1.75,1.4 0 1,0 -3.5,0M530.29,287.63a1.75,1.4 0 1,0 3.5,0a1.75,1.4 0 1,0 -3.5,0M491.08,291.02a1.75,1.4 0 1,0 3.5,0a1.75,1.4 0 1,0 -3.5,0M494.84,291.02a1.75,1.4 0 1,0 3.5,0a1.75,1.4 0 1,0 -3.5,0M498.60,291.02a1.75,1.4 0 1,0 3.5,0a1.75,1.4 0 1,0 -3.5,0M502.36,291.02a1.75,1.4 0 1,0 3.5,0a1.75,1.4 0 1,0 -3.5,0M507.73,291.02a1.75,1.4 0 1,0 3.5,0a1.75,1.4 0 1,0 -3.5,0M514.18,291.02a1.75,1.4 0 1,0 3.5,0a1.75,1.4 0 1,0 -3.5,0M517.94,291.02a1.75,1.4 0 1,0 3.5,0a1.75,1.4 0 1,0 -3.5,0M521.70,291.02a1.75,1.4 0 1,0 3.5,0a1.75,1.4 0 1,0 -3.5,0M525.46,291.02a1.75,1.4 0 1,0 3.5,0a1.75,1.4 0 1,0 -3.5,0M529.21,291.02a1.75,1.4 0 1,0 3.5,0a1.75,1.4 0 1,0 -3.5,0M491.08,294.41a1.75,1.4 0 1,0 3.5,0a1.75,1.4 0 1,0 -3.5,0M494.84,294.41a1.75,1.4 0 1,0 3.5,0a1.75,1.4 0 1,0 -3.5,0M498.60,294.41a1.75,1.4 0 1,0 3.5,0a1.75,1.4 0 1,0 -3.5,0M506.12,294.41a1.75,1.4 0 1,0 3.5,0a1.75,1.4 0 1,0 -3.5,0M520.62,294.41a1.75,1.4 0 1,0 3.5,0a1.75,1.4 0 1,0 -3.5,0M524.38,294.41a1.75,1.4 0 1,0 3.5,0a1.75,1.4 0 1,0 -3.5,0M528.14,294.41a1.75,1.4 0 1,0 3.5,0a1.75,1.4 0 1,0 -3.5,0M491.08,297.80a1.75,1.4 0 1,0 3.5,0a1.75,1.4 0 1,0 -3.5,0M494.84,297.80a1.75,1.4 0 1,0 3.5,0a1.75,1.4 0 1,0 -3.5,0M498.60,297.80a1.75,1.4 0 1,0 3.5,0a1.75,1.4 0 1,0 -3.5,0M502.36,297.80a1.75,1.4 0 1,0 3.5,0a1.75,1.4 0 1,0 -3.5,0M506.12,297.80a1.75,1.4 0 1,0 3.5,0a1.75,1.4 0 1,0 -3.5,0M509.88,297.80a1.75,1.4 0 1,0 3.5,0a1.75,1.4 0 1,0 -3.5,0M513.64,297.80a1.75,1.4 0 1,0 3.5,0a1.75,1.4 0 1,0 -3.5,0M517.40,297.80a1.75,1.4 0 1,0 3.5,0a1.75,1.4 0 1,0 -3.5,0M521.16,297.80a1.75,1.4 0 1,0 3.5,0a1.75,1.4 0 1,0 -3.5,0M524.92,297.80a1.75,1.4 0 1,0 3.5,0a1.75,1.4 0 1,0 -3.5,0M528.68,297.80a1.75,1.4 0 1,0 3.5,0a1.75,1.4 0 1,0 -3.5,0M538.99,236.78a1.75,1.4 0 1,0 3.5,0a1.75,1.4 0 1,0 -3.5,0M534.69,240.17a1.75,1.4 0 1,0 3.5,0a1.75,1.4 0 1,0 -3.5,0M540.07,240.17a1.75,1.4 0 1,0 3.5,0a1.75,1.4 0 1,0 -3.5,0M535.23,243.56a1.75,1.4 0 1,0 3.5,0a1.75,1.4 0 1,0 -3.5,0M535.77,246.95a1.75,1.4 0 1,0 3.5,0a1.75,1.4 0 1,0 -3.5,0M538.99,246.95a1.75,1.4 0 1,0 3.5,0a1.75,1.4 0 1,0 -3.5,0M547.58,246.95a1.75,1.4 0 1,0 3.5,0a1.75,1.4 0 1,0 -3.5,0M534.16,250.34a1.75,1.4 0 1,0 3.5,0a1.75,1.4 0 1,0 -3.5,0M537.38,250.34a1.75,1.4 0 1,0 3.5,0a1.75,1.4 0 1,0 -3.5,0M541.14,250.34a1.75,1.4 0 1,0 3.5,0a1.75,1.4 0 1,0 -3.5,0M570.14,250.34a1.75,1.4 0 1,0 3.5,0a1.75,1.4 0 1,0 -3.5,0M534.16,253.73a1.75,1.4 0 1,0 3.5,0a1.75,1.4 0 1,0 -3.5,0M537.92,253.73a1.75,1.4 0 1,0 3.5,0a1.75,1.4 0 1,0 -3.5,0M541.14,253.73a1.75,1.4 0 1,0 3.5,0a1.75,1.4 0 1,0 -3.5,0M550.27,253.73a1.75,1.4 0 1,0 3.5,0a1.75,1.4 0 1,0 -3.5,0M555.64,253.73a1.75,1.4 0 1,0 3.5,0a1.75,1.4 0 1,0 -3.5,0M571.21,253.73a1.75,1.4 0 1,0 3.5,0a1.75,1.4 0 1,0 -3.5,0M534.16,257.12a1.75,1.4 0 1,0 3.5,0a1.75,1.4 0 1,0 -3.5,0M537.92,257.12a1.75,1.4 0 1,0 3.5,0a1.75,1.4 0 1,0 -3.5,0M542.21,257.12a1.75,1.4 0 1,0 3.5,0a1.75,1.4 0 1,0 -3.5,0M550.27,257.12a1.75,1.4 0 1,0 3.5,0a1.75,1.4 0 1,0 -3.5,0M557.25,257.12a1.75,1.4 0 1,0 3.5,0a1.75,1.4 0 1,0 -3.5,0M561.55,257.12a1.75,1.4 0 1,0 3.5,0a1.75,1.4 0 1,0 -3.5,0M534.16,260.51a1.75,1.4 0 1,0 3.5,0a1.75,1.4 0 1,0 -3.5,0M537.92,260.51a1.75,1.4 0 1,0 3.5,0a1.75,1.4 0 1,0 -3.5,0M541.68,260.51a1.75,1.4 0 1,0 3.5,0a1.75,1.4 0 1,0 -3.5,0M564.77,260.51a1.75,1.4 0 1,0 3.5,0a1.75,1.4 0 1,0 -3.5,0M534.69,263.90a1.75,1.4 0 1,0 3.5,0a1.75,1.4 0 1,0 -3.5,0M538.45,263.90a1.75,1.4 0 1,0 3.5,0a1.75,1.4 0 1,0 -3.5,0M550.81,263.90a1.75,1.4 0 1,0 3.5,0a1.75,1.4 0 1,0 -3.5,0M533.08,267.29a1.75,1.4 0 1,0 3.5,0a1.75,1.4 0 1,0 -3.5,0M536.84,267.29a1.75,1.4 0 1,0 3.5,0a1.75,1.4 0 1,0 -3.5,0M540.60,267.29a1.75,1.4 0 1,0 3.5,0a1.75,1.4 0 1,0 -3.5,0M570.14,267.29a1.75,1.4 0 1,0 3.5,0a1.75,1.4 0 1,0 -3.5,0M536.31,270.68a1.75,1.4 0 1,0 3.5,0a1.75,1.4 0 1,0 -3.5,0M539.53,270.68a1.75,1.4 0 1,0 3.5,0a1.75,1.4 0 1,0 -3.5,0M548.12,270.68a1.75,1.4 0 1,0 3.5,0a1.75,1.4 0 1,0 -3.5,0M556.18,270.68a1.75,1.4 0 1,0 3.5,0a1.75,1.4 0 1,0 -3.5,0M564.23,270.68a1.75,1.4 0 1,0 3.5,0a1.75,1.4 0 1,0 -3.5,0M532.55,274.07a1.75,1.4 0 1,0 3.5,0a1.75,1.4 0 1,0 -3.5,0M536.31,274.07a1.75,1.4 0 1,0 3.5,0a1.75,1.4 0 1,0 -3.5,0M539.53,274.07a1.75,1.4 0 1,0 3.5,0a1.75,1.4 0 1,0 -3.5,0M554.03,274.07a1.75,1.4 0 1,0 3.5,0a1.75,1.4 0 1,0 -3.5,0M560.47,274.07a1.75,1.4 0 1,0 3.5,0a1.75,1.4 0 1,0 -3.5,0M571.21,274.07a1.75,1.4 0 1,0 3.5,0a1.75,1.4 0 1,0 -3.5,0M533.08,277.46a1.75,1.4 0 1,0 3.5,0a1.75,1.4 0 1,0 -3.5,0M536.84,277.46a1.75,1.4 0 1,0 3.5,0a1.75,1.4 0 1,0 -3.5,0M540.07,277.46a1.75,1.4 0 1,0 3.5,0a1.75,1.4 0 1,0 -3.5,0M543.82,277.46a1.75,1.4 0 1,0 3.5,0a1.75,1.4 0 1,0 -3.5,0M547.58,277.46a1.75,1.4 0 1,0 3.5,0a1.75,1.4 0 1,0 -3.5,0M550.81,277.46a1.75,1.4 0 1,0 3.5,0a1.75,1.4 0 1,0 -3.5,0M557.25,277.46a1.75,1.4 0 1,0 3.5,0a1.75,1.4 0 1,0 -3.5,0M567.99,277.46a1.75,1.4 0 1,0 3.5,0a1.75,1.4 0 1,0 -3.5,0M572.29,277.46a1.75,1.4 0 1,0 3.5,0a1.75,1.4 0 1,0 -3.5,0M533.08,280.85a1.75,1.4 0 1,0 3.5,0a1.75,1.4 0 1,0 -3.5,0M536.84,280.85a1.75,1.4 0 1,0 3.5,0a1.75,1.4 0 1,0 -3.5,0M540.07,280.85a1.75,1.4 0 1,0 3.5,0a1.75,1.4 0 1,0 -3.5,0M544.36,280.85a1.75,1.4 0 1,0 3.5,0a1.75,1.4 0 1,0 -3.5,0M547.58,280.85a1.75,1.4 0 1,0 3.5,0a1.75,1.4 0 1,0 -3.5,0M556.18,280.85a1.75,1.4 0 1,0 3.5,0a1.75,1.4 0 1,0 -3.5,0M562.62,280.85a1.75,1.4 0 1,0 3.5,0a1.75,1.4 0 1,0 -3.5,0M569.07,280.85a1.75,1.4 0 1,0 3.5,0a1.75,1.4 0 1,0 -3.5,0M533.08,284.24a1.75,1.4 0 1,0 3.5,0a1.75,1.4 0 1,0 -3.5,0M536.84,284.24a1.75,1.4 0 1,0 3.5,0a1.75,1.4 0 1,0 -3.5,0M540.07,284.24a1.75,1.4 0 1,0 3.5,0a1.75,1.4 0 1,0 -3.5,0M544.36,284.24a1.75,1.4 0 1,0 3.5,0a1.75,1.4 0 1,0 -3.5,0M550.81,284.24a1.75,1.4 0 1,0 3.5,0a1.75,1.4 0 1,0 -3.5,0M560.47,284.24a1.75,1.4 0 1,0 3.5,0a1.75,1.4 0 1,0 -3.5,0M564.77,284.24a1.75,1.4 0 1,0 3.5,0a1.75,1.4 0 1,0 -3.5,0M569.07,284.24a1.75,1.4 0 1,0 3.5,0a1.75,1.4 0 1,0 -3.5,0M572.29,284.24a1.75,1.4 0 1,0 3.5,0a1.75,1.4 0 1,0 -3.5,0M533.08,287.63a1.75,1.4 0 1,0 3.5,0a1.75,1.4 0 1,0 -3.5,0M536.84,287.63a1.75,1.4 0 1,0 3.5,0a1.75,1.4 0 1,0 -3.5,0M540.07,287.63a1.75,1.4 0 1,0 3.5,0a1.75,1.4 0 1,0 -3.5,0M544.36,287.63a1.75,1.4 0 1,0 3.5,0a1.75,1.4 0 1,0 -3.5,0M548.12,287.63a1.75,1.4 0 1,0 3.5,0a1.75,1.4 0 1,0 -3.5,0M551.88,287.63a1.75,1.4 0 1,0 3.5,0a1.75,1.4 0 1,0 -3.5,0M558.33,287.63a1.75,1.4 0 1,0 3.5,0a1.75,1.4 0 1,0 -3.5,0M562.62,287.63a1.75,1.4 0 1,0 3.5,0a1.75,1.4 0 1,0 -3.5,0M566.92,287.63a1.75,1.4 0 1,0 3.5,0a1.75,1.4 0 1,0 -3.5,0M571.21,287.63a1.75,1.4 0 1,0 3.5,0a1.75,1.4 0 1,0 -3.5,0M533.08,291.02a1.75,1.4 0 1,0 3.5,0a1.75,1.4 0 1,0 -3.5,0M536.84,291.02a1.75,1.4 0 1,0 3.5,0a1.75,1.4 0 1,0 -3.5,0M540.07,291.02a1.75,1.4 0 1,0 3.5,0a1.75,1.4 0 1,0 -3.5,0M548.66,291.02a1.75,1.4 0 1,0 3.5,0a1.75,1.4 0 1,0 -3.5,0M552.95,291.02a1.75,1.4 0 1,0 3.5,0a1.75,1.4 0 1,0 -3.5,0M557.25,291.02a1.75,1.4 0 1,0 3.5,0a1.75,1.4 0 1,0 -3.5,0M563.70,291.02a1.75,1.4 0 1,0 3.5,0a1.75,1.4 0 1,0 -3.5,0M567.99,291.02a1.75,1.4 0 1,0 3.5,0a1.75,1.4 0 1,0 -3.5,0M571.75,291.02a1.75,1.4 0 1,0 3.5,0a1.75,1.4 0 1,0 -3.5,0M533.08,294.41a1.75,1.4 0 1,0 3.5,0a1.75,1.4 0 1,0 -3.5,0M536.84,294.41a1.75,1.4 0 1,0 3.5,0a1.75,1.4 0 1,0 -3.5,0M540.07,294.41a1.75,1.4 0 1,0 3.5,0a1.75,1.4 0 1,0 -3.5,0M544.36,294.41a1.75,1.4 0 1,0 3.5,0a1.75,1.4 0 1,0 -3.5,0M548.12,294.41a1.75,1.4 0 1,0 3.5,0a1.75,1.4 0 1,0 -3.5,0M551.88,294.41a1.75,1.4 0 1,0 3.5,0a1.75,1.4 0 1,0 -3.5,0M555.64,294.41a1.75,1.4 0 1,0 3.5,0a1.75,1.4 0 1,0 -3.5,0M559.40,294.41a1.75,1.4 0 1,0 3.5,0a1.75,1.4 0 1,0 -3.5,0M563.16,294.41a1.75,1.4 0 1,0 3.5,0a1.75,1.4 0 1,0 -3.5,0M566.92,294.41a1.75,1.4 0 1,0 3.5,0a1.75,1.4 0 1,0 -3.5,0M570.68,294.41a1.75,1.4 0 1,0 3.5,0a1.75,1.4 0 1,0 -3.5,0M533.08,297.80a1.75,1.4 0 1,0 3.5,0a1.75,1.4 0 1,0 -3.5,0M536.84,297.80a1.75,1.4 0 1,0 3.5,0a1.75,1.4 0 1,0 -3.5,0M540.07,297.80a1.75,1.4 0 1,0 3.5,0a1.75,1.4 0 1,0 -3.5,0M544.36,297.80a1.75,1.4 0 1,0 3.5,0a1.75,1.4 0 1,0 -3.5,0M548.12,297.80a1.75,1.4 0 1,0 3.5,0a1.75,1.4 0 1,0 -3.5,0M551.88,297.80a1.75,1.4 0 1,0 3.5,0a1.75,1.4 0 1,0 -3.5,0M555.64,297.80a1.75,1.4 0 1,0 3.5,0a1.75,1.4 0 1,0 -3.5,0M559.40,297.80a1.75,1.4 0 1,0 3.5,0a1.75,1.4 0 1,0 -3.5,0M563.16,297.80a1.75,1.4 0 1,0 3.5,0a1.75,1.4 0 1,0 -3.5,0M566.92,297.80a1.75,1.4 0 1,0 3.5,0a1.75,1.4 0 1,0 -3.5,0M570.68,297.80a1.75,1.4 0 1,0 3.5,0a1.75,1.4 0 1,0 -3.5,0M578.84,233.39a1.75,1.4 0 1,0 3.5,0a1.75,1.4 0 1,0 -3.5,0M596.03,233.39a1.75,1.4 0 1,0 3.5,0a1.75,1.4 0 1,0 -3.5,0M598.18,236.78a1.75,1.4 0 1,0 3.5,0a1.75,1.4 0 1,0 -3.5,0M587.44,240.17a1.75,1.4 0 1,0 3.5,0a1.75,1.4 0 1,0 -3.5,0M590.12,240.17a1.75,1.4 0 1,0 3.5,0a1.75,1.4 0 1,0 -3.5,0M585.82,246.95a1.75,1.4 0 1,0 3.5,0a1.75,1.4 0 1,0 -3.5,0M583.14,253.73a1.75,1.4 0 1,0 3.5,0a1.75,1.4 0 1,0 -3.5,0M596.03,253.73a1.75,1.4 0 1,0 3.5,0a1.75,1.4 0 1,0 -3.5,0M586.90,257.12a1.75,1.4 0 1,0 3.5,0a1.75,1.4 0 1,0 -3.5,0M590.66,257.12a1.75,1.4 0 1,0 3.5,0a1.75,1.4 0 1,0 -3.5,0M595.49,257.12a1.75,1.4 0 1,0 3.5,0a1.75,1.4 0 1,0 -3.5,0M586.90,260.51a1.75,1.4 0 1,0 3.5,0a1.75,1.4 0 1,0 -3.5,0M595.49,260.51a1.75,1.4 0 1,0 3.5,0a1.75,1.4 0 1,0 -3.5,0M583.68,263.90a1.75,1.4 0 1,0 3.5,0a1.75,1.4 0 1,0 -3.5,0M587.44,263.90a1.75,1.4 0 1,0 3.5,0a1.75,1.4 0 1,0 -3.5,0M595.49,263.90a1.75,1.4 0 1,0 3.5,0a1.75,1.4 0 1,0 -3.5,0M587.97,267.29a1.75,1.4 0 1,0 3.5,0a1.75,1.4 0 1,0 -3.5,0M597.10,267.29a1.75,1.4 0 1,0 3.5,0a1.75,1.4 0 1,0 -3.5,0M580.99,270.68a1.75,1.4 0 1,0 3.5,0a1.75,1.4 0 1,0 -3.5,0M587.97,270.68a1.75,1.4 0 1,0 3.5,0a1.75,1.4 0 1,0 -3.5,0M593.88,270.68a1.75,1.4 0 1,0 3.5,0a1.75,1.4 0 1,0 -3.5,0M597.10,270.68a1.75,1.4 0 1,0 3.5,0a1.75,1.4 0 1,0 -3.5,0M579.38,274.07a1.75,1.4 0 1,0 3.5,0a1.75,1.4 0 1,0 -3.5,0M582.60,274.07a1.75,1.4 0 1,0 3.5,0a1.75,1.4 0 1,0 -3.5,0M587.44,274.07a1.75,1.4 0 1,0 3.5,0a1.75,1.4 0 1,0 -3.5,0M592.81,274.07a1.75,1.4 0 1,0 3.5,0a1.75,1.4 0 1,0 -3.5,0M597.10,274.07a1.75,1.4 0 1,0 3.5,0a1.75,1.4 0 1,0 -3.5,0M587.44,277.46a1.75,1.4 0 1,0 3.5,0a1.75,1.4 0 1,0 -3.5,0M590.66,277.46a1.75,1.4 0 1,0 3.5,0a1.75,1.4 0 1,0 -3.5,0M593.88,277.46a1.75,1.4 0 1,0 3.5,0a1.75,1.4 0 1,0 -3.5,0M597.10,277.46a1.75,1.4 0 1,0 3.5,0a1.75,1.4 0 1,0 -3.5,0M574.55,280.85a1.75,1.4 0 1,0 3.5,0a1.75,1.4 0 1,0 -3.5,0M577.77,280.85a1.75,1.4 0 1,0 3.5,0a1.75,1.4 0 1,0 -3.5,0M580.99,280.85a1.75,1.4 0 1,0 3.5,0a1.75,1.4 0 1,0 -3.5,0M586.36,280.85a1.75,1.4 0 1,0 3.5,0a1.75,1.4 0 1,0 -3.5,0M589.58,280.85a1.75,1.4 0 1,0 3.5,0a1.75,1.4 0 1,0 -3.5,0M592.81,280.85a1.75,1.4 0 1,0 3.5,0a1.75,1.4 0 1,0 -3.5,0M597.10,280.85a1.75,1.4 0 1,0 3.5,0a1.75,1.4 0 1,0 -3.5,0M576.69,284.24a1.75,1.4 0 1,0 3.5,0a1.75,1.4 0 1,0 -3.5,0M579.38,284.24a1.75,1.4 0 1,0 3.5,0a1.75,1.4 0 1,0 -3.5,0M582.07,284.24a1.75,1.4 0 1,0 3.5,0a1.75,1.4 0 1,0 -3.5,0M587.44,284.24a1.75,1.4 0 1,0 3.5,0a1.75,1.4 0 1,0 -3.5,0M590.66,284.24a1.75,1.4 0 1,0 3.5,0a1.75,1.4 0 1,0 -3.5,0M593.88,284.24a1.75,1.4 0 1,0 3.5,0a1.75,1.4 0 1,0 -3.5,0M597.10,284.24a1.75,1.4 0 1,0 3.5,0a1.75,1.4 0 1,0 -3.5,0M574.55,287.63a1.75,1.4 0 1,0 3.5,0a1.75,1.4 0 1,0 -3.5,0M577.77,287.63a1.75,1.4 0 1,0 3.5,0a1.75,1.4 0 1,0 -3.5,0M580.99,287.63a1.75,1.4 0 1,0 3.5,0a1.75,1.4 0 1,0 -3.5,0M584.21,287.63a1.75,1.4 0 1,0 3.5,0a1.75,1.4 0 1,0 -3.5,0M587.44,287.63a1.75,1.4 0 1,0 3.5,0a1.75,1.4 0 1,0 -3.5,0M590.66,287.63a1.75,1.4 0 1,0 3.5,0a1.75,1.4 0 1,0 -3.5,0M593.88,287.63a1.75,1.4 0 1,0 3.5,0a1.75,1.4 0 1,0 -3.5,0M597.10,287.63a1.75,1.4 0 1,0 3.5,0a1.75,1.4 0 1,0 -3.5,0M574.55,291.02a1.75,1.4 0 1,0 3.5,0a1.75,1.4 0 1,0 -3.5,0M577.77,291.02a1.75,1.4 0 1,0 3.5,0a1.75,1.4 0 1,0 -3.5,0M584.21,291.02a1.75,1.4 0 1,0 3.5,0a1.75,1.4 0 1,0 -3.5,0M587.44,291.02a1.75,1.4 0 1,0 3.5,0a1.75,1.4 0 1,0 -3.5,0M590.66,291.02a1.75,1.4 0 1,0 3.5,0a1.75,1.4 0 1,0 -3.5,0M593.88,291.02a1.75,1.4 0 1,0 3.5,0a1.75,1.4 0 1,0 -3.5,0M597.10,291.02a1.75,1.4 0 1,0 3.5,0a1.75,1.4 0 1,0 -3.5,0M574.55,294.41a1.75,1.4 0 1,0 3.5,0a1.75,1.4 0 1,0 -3.5,0M577.77,294.41a1.75,1.4 0 1,0 3.5,0a1.75,1.4 0 1,0 -3.5,0M580.99,294.41a1.75,1.4 0 1,0 3.5,0a1.75,1.4 0 1,0 -3.5,0M584.21,294.41a1.75,1.4 0 1,0 3.5,0a1.75,1.4 0 1,0 -3.5,0M587.44,294.41a1.75,1.4 0 1,0 3.5,0a1.75,1.4 0 1,0 -3.5,0M590.66,294.41a1.75,1.4 0 1,0 3.5,0a1.75,1.4 0 1,0 -3.5,0M593.88,294.41a1.75,1.4 0 1,0 3.5,0a1.75,1.4 0 1,0 -3.5,0M597.10,294.41a1.75,1.4 0 1,0 3.5,0a1.75,1.4 0 1,0 -3.5,0M574.55,297.80a1.75,1.4 0 1,0 3.5,0a1.75,1.4 0 1,0 -3.5,0M577.77,297.80a1.75,1.4 0 1,0 3.5,0a1.75,1.4 0 1,0 -3.5,0M580.99,297.80a1.75,1.4 0 1,0 3.5,0a1.75,1.4 0 1,0 -3.5,0M584.21,297.80a1.75,1.4 0 1,0 3.5,0a1.75,1.4 0 1,0 -3.5,0M587.44,297.80a1.75,1.4 0 1,0 3.5,0a1.75,1.4 0 1,0 -3.5,0M590.66,297.80a1.75,1.4 0 1,0 3.5,0a1.75,1.4 0 1,0 -3.5,0M593.88,297.80a1.75,1.4 0 1,0 3.5,0a1.75,1.4 0 1,0 -3.5,0M597.10,297.80a1.75,1.4 0 1,0 3.5,0a1.75,1.4 0 1,0 -3.5,0M96.65,277.60a1.75,1.4 0 1,0 3.5,0a1.75,1.4 0 1,0 -3.5,0M99.25,291.00a1.75,1.4 0 1,0 3.5,0a1.75,1.4 0 1,0 -3.5,0M96.95,297.80a1.75,1.4 0 1,0 3.5,0a1.75,1.4 0 1,0 -3.5,0M114.65,250.10a1.75,1.4 0 1,0 3.5,0a1.75,1.4 0 1,0 -3.5,0M114.65,257.00a1.75,1.4 0 1,0 3.5,0a1.75,1.4 0 1,0 -3.5,0M113.25,294.60a1.75,1.4 0 1,0 3.5,0a1.75,1.4 0 1,0 -3.5,0M122.75,264.00a1.75,1.4 0 1,0 3.5,0a1.75,1.4 0 1,0 -3.5,0M120.85,294.60a1.75,1.4 0 1,0 3.5,0a1.75,1.4 0 1,0 -3.5,0M123.55,290.80a1.75,1.4 0 1,0 3.5,0a1.75,1.4 0 1,0 -3.5,0M126.95,294.60a1.75,1.4 0 1,0 3.5,0a1.75,1.4 0 1,0 -3.5,0M129.85,250.10a1.75,1.4 0 1,0 3.5,0a1.75,1.4 0 1,0 -3.5,0M131.25,284.50a1.75,1.4 0 1,0 3.5,0a1.75,1.4 0 1,0 -3.5,0M134.65,277.60a1.75,1.4 0 1,0 3.5,0a1.75,1.4 0 1,0 -3.5,0M137.25,267.10a1.75,1.4 0 1,0 3.5,0a1.75,1.4 0 1,0 -3.5,0M145.15,243.00a1.75,1.4 0 1,0 3.5,0a1.75,1.4 0 1,0 -3.5,0M143.75,284.50a1.75,1.4 0 1,0 3.5,0a1.75,1.4 0 1,0 -3.5,0M142.35,291.00a1.75,1.4 0 1,0 3.5,0a1.75,1.4 0 1,0 -3.5,0M144.65,294.40a1.75,1.4 0 1,0 3.5,0a1.75,1.4 0 1,0 -3.5,0M145.85,297.80a1.75,1.4 0 1,0 3.5,0a1.75,1.4 0 1,0 -3.5,0M148.45,287.70a1.75,1.4 0 1,0 3.5,0a1.75,1.4 0 1,0 -3.5,0M151.45,297.80a1.75,1.4 0 1,0 3.5,0a1.75,1.4 0 1,0 -3.5,0M152.35,274.10a1.75,1.4 0 1,0 3.5,0a1.75,1.4 0 1,0 -3.5,0M157.95,267.10a1.75,1.4 0 1,0 3.5,0a1.75,1.4 0 1,0 -3.5,0M159.75,284.50a1.75,1.4 0 1,0 3.5,0a1.75,1.4 0 1,0 -3.5,0M163.25,270.70a1.75,1.4 0 1,0 3.5,0a1.75,1.4 0 1,0 -3.5,0M165.65,291.00a1.75,1.4 0 1,0 3.5,0a1.75,1.4 0 1,0 -3.5,0M166.55,294.60a1.75,1.4 0 1,0 3.5,0a1.75,1.4 0 1,0 -3.5,0M170.65,284.50a1.75,1.4 0 1,0 3.5,0a1.75,1.4 0 1,0 -3.5,0M170.65,297.80a1.75,1.4 0 1,0 3.5,0a1.75,1.4 0 1,0 -3.5,0M176.25,270.70a1.75,1.4 0 1,0 3.5,0a1.75,1.4 0 1,0 -3.5,0M178.15,288.10a1.75,1.4 0 1,0 3.5,0a1.75,1.4 0 1,0 -3.5,0M177.25,291.00a1.75,1.4 0 1,0 3.5,0a1.75,1.4 0 1,0 -3.5,0M178.65,294.60a1.75,1.4 0 1,0 3.5,0a1.75,1.4 0 1,0 -3.5,0M185.55,294.60a1.75,1.4 0 1,0 3.5,0a1.75,1.4 0 1,0 -3.5,0M193.85,287.70a1.75,1.4 0 1,0 3.5,0a1.75,1.4 0 1,0 -3.5,0M195.95,277.60a1.75,1.4 0 1,0 3.5,0a1.75,1.4 0 1,0 -3.5,0M200.05,294.60a1.75,1.4 0 1,0 3.5,0a1.75,1.4 0 1,0 -3.5,0M209.55,274.10a1.75,1.4 0 1,0 3.5,0a1.75,1.4 0 1,0 -3.5,0M210.05,284.50a1.75,1.4 0 1,0 3.5,0a1.75,1.4 0 1,0 -3.5,0M209.55,297.80a1.75,1.4 0 1,0 3.5,0a1.75,1.4 0 1,0 -3.5,0M215.75,287.70a1.75,1.4 0 1,0 3.5,0a1.75,1.4 0 1,0 -3.5,0M215.95,294.60a1.75,1.4 0 1,0 3.5,0a1.75,1.4 0 1,0 -3.5,0M218.15,264.00a1.75,1.4 0 1,0 3.5,0a1.75,1.4 0 1,0 -3.5,0M218.65,287.70a1.75,1.4 0 1,0 3.5,0a1.75,1.4 0 1,0 -3.5,0M221.05,284.50a1.75,1.4 0 1,0 3.5,0a1.75,1.4 0 1,0 -3.5,0M221.85,243.00a1.75,1.4 0 1,0 3.5,0a1.75,1.4 0 1,0 -3.5,0M166.25,195.60a1.75,1.4 0 1,0 3.5,0a1.75,1.4 0 1,0 -3.5,0M252.75,199.30a1.75,1.4 0 1,0 3.5,0a1.75,1.4 0 1,0 -3.5,0M270.95,208.90a1.75,1.4 0 1,0 3.5,0a1.75,1.4 0 1,0 -3.5,0M269.05,212.60a1.75,1.4 0 1,0 3.5,0a1.75,1.4 0 1,0 -3.5,0M300.15,199.30a1.75,1.4 0 1,0 3.5,0a1.75,1.4 0 1,0 -3.5,0M306.15,189.20a1.75,1.4 0 1,0 3.5,0a1.75,1.4 0 1,0 -3.5,0M319.45,202.50a1.75,1.4 0 1,0 3.5,0a1.75,1.4 0 1,0 -3.5,0M300.65,208.90a1.75,1.4 0 1,0 3.5,0a1.75,1.4 0 1,0 -3.5,0M308.75,206.20a1.75,1.4 0 1,0 3.5,0a1.75,1.4 0 1,0 -3.5,0M306.15,216.30a1.75,1.4 0 1,0 3.5,0a1.75,1.4 0 1,0 -3.5,0M302.35,219.30a1.75,1.4 0 1,0 3.5,0a1.75,1.4 0 1,0 -3.5,0M297.25,226.20a1.75,1.4 0 1,0 3.5,0a1.75,1.4 0 1,0 -3.5,0M301.25,226.20a1.75,1.4 0 1,0 3.5,0a1.75,1.4 0 1,0 -3.5,0M279.85,229.60a1.75,1.4 0 1,0 3.5,0a1.75,1.4 0 1,0 -3.5,0M293.55,229.60a1.75,1.4 0 1,0 3.5,0a1.75,1.4 0 1,0 -3.5,0M312.05,229.60a1.75,1.4 0 1,0 3.5,0a1.75,1.4 0 1,0 -3.5,0M323.85,223.00a1.75,1.4 0 1,0 3.5,0a1.75,1.4 0 1,0 -3.5,0M330.85,223.00a1.75,1.4 0 1,0 3.5,0a1.75,1.4 0 1,0 -3.5,0M385.25,195.60a1.75,1.4 0 1,0 3.5,0a1.75,1.4 0 1,0 -3.5,0M412.35,195.60a1.75,1.4 0 1,0 3.5,0a1.75,1.4 0 1,0 -3.5,0M354.65,209.20a1.75,1.4 0 1,0 3.5,0a1.75,1.4 0 1,0 -3.5,0M417.15,209.20a1.75,1.4 0 1,0 3.5,0a1.75,1.4 0 1,0 -3.5,0M403.85,212.60a1.75,1.4 0 1,0 3.5,0a1.75,1.4 0 1,0 -3.5,0M408.95,212.60a1.75,1.4 0 1,0 3.5,0a1.75,1.4 0 1,0 -3.5,0M402.35,216.00a1.75,1.4 0 1,0 3.5,0a1.75,1.4 0 1,0 -3.5,0M411.95,219.30a1.75,1.4 0 1,0 3.5,0a1.75,1.4 0 1,0 -3.5,0M414.95,223.00a1.75,1.4 0 1,0 3.5,0a1.75,1.4 0 1,0 -3.5,0M413.45,225.90a1.75,1.4 0 1,0 3.5,0a1.75,1.4 0 1,0 -3.5,0M346.75,223.00a1.75,1.4 0 1,0 3.5,0a1.75,1.4 0 1,0 -3.5,0M435.85,226.20a1.75,1.4 0 1,0 3.5,0a1.75,1.4 0 1,0 -3.5,0M522.55,222.70a1.75,1.4 0 1,0 3.5,0a1.75,1.4 0 1,0 -3.5,0M537.45,202.30a1.75,1.4 0 1,0 3.5,0a1.75,1.4 0 1,0 -3.5,0M597.35,188.80a1.75,1.4 0 1,0 3.5,0a1.75,1.4 0 1,0 -3.5,0M595.95,198.20a1.75,1.4 0 1,0 3.5,0a1.75,1.4 0 1,0 -3.5,0M595.95,201.80a1.75,1.4 0 1,0 3.5,0a1.75,1.4 0 1,0 -3.5,0M595.95,205.90a1.75,1.4 0 1,0 3.5,0a1.75,1.4 0 1,0 -3.5,0M597.75,213.00a1.75,1.4 0 1,0 3.5,0a1.75,1.4 0 1,0 -3.5,0M587.55,208.90a1.75,1.4 0 1,0 3.5,0a1.75,1.4 0 1,0 -3.5,0M587.55,216.50a1.75,1.4 0 1,0 3.5,0a1.75,1.4 0 1,0 -3.5,0M587.95,222.60a1.75,1.4 0 1,0 3.5,0a1.75,1.4 0 1,0 -3.5,0M597.35,226.10a1.75,1.4 0 1,0 3.5,0a1.75,1.4 0 1,0 -3.5,0" fill="#c8c8c8" stroke="#111" stroke-width="1.6"/>
<polyline points="98.4,297.6 150.0,297.2 200.0,296.5 239.5,295.2 241.9,294.3 253.7,291.9 265.6,289.6 277.4,287.2 289.3,286.0 296.4,285.4 301.1,283.6 310.0,281.3 323.0,279.2 330.7,277.3 341.5,272.4 350.0,268.7 356.5,266.5 365.0,265.4 372.7,264.4 383.5,262.2 389.9,260.6 394.2,259.5 407.0,256.3 414.7,253.1 425.5,250.4 436.2,248.8 449.0,247.4 452.4,245.0 456.7,242.4 467.5,239.1 478.2,235.9 487.2,232.6 494.6,228.4 505.0,225.9 513.9,224.7 525.0,223.7 536.5,222.4 539.5,214.5 542.5,209.8 547.2,207.6 560.9,205.3 573.3,202.7 587.6,200.0 592.9,197.0 597.3,195.6 598.3,191.5" fill="none" stroke="#f00af0" stroke-width="1.8"/>
<circle cx="291.6" cy="188.9" r="8.0" fill="#fff" stroke="#111" stroke-width="1"/><text x="291.6" y="194.6" font-size="15" text-anchor="middle">1</text><circle cx="304.9" cy="172.1" r="8.0" fill="#fff" stroke="#111" stroke-width="1"/><text x="304.9" y="177.8" font-size="15" text-anchor="middle">2</text><circle cx="322.4" cy="187.1" r="8.0" fill="#fff" stroke="#111" stroke-width="1"/><text x="322.4" y="192.8" font-size="15" text-anchor="middle">3</text><circle cx="331.5" cy="171.8" r="8.0" fill="#fff" stroke="#111" stroke-width="1"/><text x="331.5" y="177.5" font-size="15" text-anchor="middle">4</text><circle cx="388.5" cy="178.2" r="8.0" fill="#fff" stroke="#111" stroke-width="1"/><text x="388.5" y="183.9" font-size="15" text-anchor="middle">5</text><circle cx="415.2" cy="180.4" r="8.0" fill="#fff" stroke="#111" stroke-width="1"/><text x="415.2" y="186.1" font-size="15" text-anchor="middle">6</text><circle cx="538.7" cy="185.4" r="8.0" fill="#fff" stroke="#111" stroke-width="1"/><text x="538.7" y="191.1" font-size="15" text-anchor="middle">7</text><circle cx="586.3" cy="176.4" r="8.0" fill="#fff" stroke="#111" stroke-width="1"/><text x="586.3" y="182.1" font-size="15" text-anchor="middle">8</text><circle cx="614.1" cy="176.4" r="8.0" fill="#fff" stroke="#111" stroke-width="1"/><text x="614.1" y="181.3" font-size="14.5" text-anchor="middle" textLength="11.8" lengthAdjust="spacingAndGlyphs">12</text><text x="600.5" y="182.5" font-size="19" text-anchor="middle">~</text>
<text x="2.5" y="476" font-size="23.5" text-anchor="start" >c</text>
<path d="M88.5,311.5H632.0V622.3H88.5Z" fill="none" stroke="#222" stroke-width="1.3"/>
<line x1="84.0" y1="622.30" x2="88.5" y2="622.30" stroke="#222" stroke-width="1"/>
<line x1="85.7" y1="598.91" x2="88.5" y2="598.91" stroke="#222" stroke-width="1"/>
<line x1="85.7" y1="585.23" x2="88.5" y2="585.23" stroke="#222" stroke-width="1"/>
<line x1="85.7" y1="575.52" x2="88.5" y2="575.52" stroke="#222" stroke-width="1"/>
<line x1="85.7" y1="567.99" x2="88.5" y2="567.99" stroke="#222" stroke-width="1"/>
<line x1="85.7" y1="561.84" x2="88.5" y2="561.84" stroke="#222" stroke-width="1"/>
<line x1="85.7" y1="556.64" x2="88.5" y2="556.64" stroke="#222" stroke-width="1"/>
<line x1="85.7" y1="552.13" x2="88.5" y2="552.13" stroke="#222" stroke-width="1"/>
<line x1="85.7" y1="548.16" x2="88.5" y2="548.16" stroke="#222" stroke-width="1"/>
<line x1="84.0" y1="544.60" x2="88.5" y2="544.60" stroke="#222" stroke-width="1"/>
<line x1="85.7" y1="521.21" x2="88.5" y2="521.21" stroke="#222" stroke-width="1"/>
<line x1="85.7" y1="507.53" x2="88.5" y2="507.53" stroke="#222" stroke-width="1"/>
<line x1="85.7" y1="497.82" x2="88.5" y2="497.82" stroke="#222" stroke-width="1"/>
<line x1="85.7" y1="490.29" x2="88.5" y2="490.29" stroke="#222" stroke-width="1"/>
<line x1="85.7" y1="484.14" x2="88.5" y2="484.14" stroke="#222" stroke-width="1"/>
<line x1="85.7" y1="478.94" x2="88.5" y2="478.94" stroke="#222" stroke-width="1"/>
<line x1="85.7" y1="474.43" x2="88.5" y2="474.43" stroke="#222" stroke-width="1"/>
<line x1="85.7" y1="470.46" x2="88.5" y2="470.46" stroke="#222" stroke-width="1"/>
<line x1="84.0" y1="466.90" x2="88.5" y2="466.90" stroke="#222" stroke-width="1"/>
<line x1="85.7" y1="443.51" x2="88.5" y2="443.51" stroke="#222" stroke-width="1"/>
<line x1="85.7" y1="429.83" x2="88.5" y2="429.83" stroke="#222" stroke-width="1"/>
<line x1="85.7" y1="420.12" x2="88.5" y2="420.12" stroke="#222" stroke-width="1"/>
<line x1="85.7" y1="412.59" x2="88.5" y2="412.59" stroke="#222" stroke-width="1"/>
<line x1="85.7" y1="406.44" x2="88.5" y2="406.44" stroke="#222" stroke-width="1"/>
<line x1="85.7" y1="401.24" x2="88.5" y2="401.24" stroke="#222" stroke-width="1"/>
<line x1="85.7" y1="396.73" x2="88.5" y2="396.73" stroke="#222" stroke-width="1"/>
<line x1="85.7" y1="392.76" x2="88.5" y2="392.76" stroke="#222" stroke-width="1"/>
<line x1="84.0" y1="389.20" x2="88.5" y2="389.20" stroke="#222" stroke-width="1"/>
<line x1="85.7" y1="365.81" x2="88.5" y2="365.81" stroke="#222" stroke-width="1"/>
<line x1="85.7" y1="352.13" x2="88.5" y2="352.13" stroke="#222" stroke-width="1"/>
<line x1="85.7" y1="342.42" x2="88.5" y2="342.42" stroke="#222" stroke-width="1"/>
<line x1="85.7" y1="334.89" x2="88.5" y2="334.89" stroke="#222" stroke-width="1"/>
<line x1="85.7" y1="328.74" x2="88.5" y2="328.74" stroke="#222" stroke-width="1"/>
<line x1="85.7" y1="323.54" x2="88.5" y2="323.54" stroke="#222" stroke-width="1"/>
<line x1="85.7" y1="319.03" x2="88.5" y2="319.03" stroke="#222" stroke-width="1"/>
<line x1="85.7" y1="315.06" x2="88.5" y2="315.06" stroke="#222" stroke-width="1"/>
<line x1="84.0" y1="311.50" x2="88.5" y2="311.50" stroke="#222" stroke-width="1"/>
<text x="83" y="317.5" font-size="17.5" text-anchor="end" >100</text>
<text x="83" y="395.2" font-size="17.5" text-anchor="end" >10</text>
<text x="83" y="472.9" font-size="17.5" text-anchor="end" >1</text>
<text x="83" y="550.5999999999999" font-size="17.5" text-anchor="end" >.1</text>
<text x="83" y="628.3" font-size="17.5" text-anchor="end" >.01</text>
<text transform="translate(42,479.5) rotate(-90)" font-size="17.5" text-anchor="middle">Forcing seismicity, #1/day</text>
<line x1="89.00" y1="622.3" x2="89.00" y2="627.3" stroke="#222" stroke-width="1"/>
<line x1="102.95" y1="622.3" x2="102.95" y2="625.3" stroke="#222" stroke-width="1"/>
<line x1="116.90" y1="622.3" x2="116.90" y2="625.3" stroke="#222" stroke-width="1"/>
<line x1="130.85" y1="622.3" x2="130.85" y2="625.3" stroke="#222" stroke-width="1"/>
<line x1="144.80" y1="622.3" x2="144.80" y2="625.3" stroke="#222" stroke-width="1"/>
<line x1="158.75" y1="622.3" x2="158.75" y2="625.3" stroke="#222" stroke-width="1"/>
<line x1="172.70" y1="622.3" x2="172.70" y2="625.3" stroke="#222" stroke-width="1"/>
<line x1="186.65" y1="622.3" x2="186.65" y2="625.3" stroke="#222" stroke-width="1"/>
<line x1="200.60" y1="622.3" x2="200.60" y2="625.3" stroke="#222" stroke-width="1"/>
<line x1="214.55" y1="622.3" x2="214.55" y2="625.3" stroke="#222" stroke-width="1"/>
<line x1="228.50" y1="622.3" x2="228.50" y2="625.3" stroke="#222" stroke-width="1"/>
<line x1="242.45" y1="622.3" x2="242.45" y2="625.3" stroke="#222" stroke-width="1"/>
<line x1="256.40" y1="622.3" x2="256.40" y2="627.3" stroke="#222" stroke-width="1"/>
<line x1="270.35" y1="622.3" x2="270.35" y2="625.3" stroke="#222" stroke-width="1"/>
<line x1="284.30" y1="622.3" x2="284.30" y2="625.3" stroke="#222" stroke-width="1"/>
<line x1="298.25" y1="622.3" x2="298.25" y2="625.3" stroke="#222" stroke-width="1"/>
<line x1="312.20" y1="622.3" x2="312.20" y2="625.3" stroke="#222" stroke-width="1"/>
<line x1="326.15" y1="622.3" x2="326.15" y2="625.3" stroke="#222" stroke-width="1"/>
<line x1="340.10" y1="622.3" x2="340.10" y2="625.3" stroke="#222" stroke-width="1"/>
<line x1="354.05" y1="622.3" x2="354.05" y2="625.3" stroke="#222" stroke-width="1"/>
<line x1="368.00" y1="622.3" x2="368.00" y2="625.3" stroke="#222" stroke-width="1"/>
<line x1="381.95" y1="622.3" x2="381.95" y2="625.3" stroke="#222" stroke-width="1"/>
<line x1="395.90" y1="622.3" x2="395.90" y2="625.3" stroke="#222" stroke-width="1"/>
<line x1="409.85" y1="622.3" x2="409.85" y2="625.3" stroke="#222" stroke-width="1"/>
<line x1="423.80" y1="622.3" x2="423.80" y2="627.3" stroke="#222" stroke-width="1"/>
<line x1="437.75" y1="622.3" x2="437.75" y2="625.3" stroke="#222" stroke-width="1"/>
<line x1="451.70" y1="622.3" x2="451.70" y2="625.3" stroke="#222" stroke-width="1"/>
<line x1="465.65" y1="622.3" x2="465.65" y2="625.3" stroke="#222" stroke-width="1"/>
<line x1="479.60" y1="622.3" x2="479.60" y2="625.3" stroke="#222" stroke-width="1"/>
<line x1="493.55" y1="622.3" x2="493.55" y2="625.3" stroke="#222" stroke-width="1"/>
<line x1="507.50" y1="622.3" x2="507.50" y2="625.3" stroke="#222" stroke-width="1"/>
<line x1="521.45" y1="622.3" x2="521.45" y2="625.3" stroke="#222" stroke-width="1"/>
<line x1="535.40" y1="622.3" x2="535.40" y2="625.3" stroke="#222" stroke-width="1"/>
<line x1="549.35" y1="622.3" x2="549.35" y2="625.3" stroke="#222" stroke-width="1"/>
<line x1="563.30" y1="622.3" x2="563.30" y2="625.3" stroke="#222" stroke-width="1"/>
<line x1="577.25" y1="622.3" x2="577.25" y2="625.3" stroke="#222" stroke-width="1"/>
<line x1="591.20" y1="622.3" x2="591.20" y2="627.3" stroke="#222" stroke-width="1"/>
<line x1="605.15" y1="622.3" x2="605.15" y2="625.3" stroke="#222" stroke-width="1"/>
<line x1="619.10" y1="622.3" x2="619.10" y2="625.3" stroke="#222" stroke-width="1"/>
<text x="169.5" y="648" font-size="17.5" text-anchor="middle" >2014</text>
<text x="333.5" y="648" font-size="17.5" text-anchor="middle" >2015</text>
<text x="518" y="648" font-size="17.5" text-anchor="middle" >2016</text>
<polyline points="99.3,540.8 138.8,540.8 148.3,529.6 151.9,530.3 154.3,531.5 159.0,531.5 166.1,539.1 168.5,539.8 173.2,537.9 189.8,542.2 195.7,542.2 198.1,537.4 211.1,536.0 213.5,530.1 217.1,529.6 219.4,532.7 221.8,523.7 241.5,517.1 242.0,509.8 243.0,483.8 244.0,479.8 246.0,477.8 248.0,476.2 249.0,475.8 249.4,447.9 251.0,453.9 252.0,459.9 252.6,470.8 254.0,468.8 255.0,467.8 256.0,465.8 257.0,468.8 258.0,469.8 259.0,464.9 260.0,465.8 261.0,477.8 262.0,467.8 263.0,466.8 265.0,466.8 266.0,465.8 267.0,452.9 268.0,454.9 269.0,453.9 270.0,458.9 271.0,447.9 272.0,442.9 273.0,432.9 274.0,454.9 275.0,466.8 277.0,470.8 278.5,473.8 280.0,462.9 281.3,460.9 282.5,493.8 283.9,495.4 292.9,495.8 293.9,493.8 294.9,461.9 296.5,452.9 297.9,459.9 299.9,455.9 300.9,448.9 302.1,395.3 302.9,445.9 303.9,461.9 304.9,466.8 306.9,465.8 307.9,439.9 308.9,457.9 309.9,469.8 310.8,488.8 312.8,489.8 314.8,488.8 317.8,485.8 318.8,473.8 319.8,453.9 320.8,443.9 321.8,425.9 322.8,420.0 323.8,405.7 324.8,439.9 325.8,449.9 326.8,461.9 327.8,465.8 329.8,468.8 331.8,463.9 332.8,445.9 333.8,429.9 334.5,390.0 335.4,435.9 337.0,427.9 338.0,422.9 339.0,429.9 340.0,423.9 341.0,437.9 343.0,447.9 345.0,435.9 346.0,419.9 347.0,389.0 348.0,419.9 349.0,445.9 350.0,443.9 351.0,467.8 354.0,467.8 356.0,457.8 357.0,443.9 358.0,461.8 360.0,465.8 362.0,463.8 363.0,468.8 366.0,475.8 369.0,479.8 372.0,471.8 374.0,463.8 377.0,463.8 379.0,461.8 380.0,464.8 382.0,457.8 384.0,453.9 384.3,414.9 385.5,439.9 386.9,447.9 388.9,430.9 389.9,455.8 391.9,461.8 393.9,475.8 395.9,465.8 398.9,445.9 400.9,449.9 402.9,454.9 404.9,455.8 405.4,447.9 406.8,471.8 408.2,467.8 409.8,467.8 411.8,439.9 412.8,433.9 413.8,409.9 414.8,435.9 415.8,431.9 416.8,445.9 418.8,423.9 420.8,443.9 422.8,451.9 423.8,459.8 425.8,465.8 427.0,467.8 428.0,465.8 430.0,465.8 431.0,455.8 432.4,452.8 434.0,457.8 436.0,461.8 437.0,455.8 438.0,473.8 440.0,476.8 442.0,477.8 444.0,485.8 446.0,478.8 449.0,469.8 449.4,429.9 450.3,428.9 450.9,419.9 452.0,390.0 453.0,387.0 454.0,407.9 455.0,404.9 456.0,439.9 457.0,435.9 457.5,425.9 459.0,449.8 461.0,473.8 463.0,469.8 465.0,463.8 466.0,427.9 467.3,439.9 468.5,433.9 469.3,414.9 470.5,443.9 471.9,463.8 473.9,473.8 475.9,475.8 476.9,479.8 478.9,476.8 480.9,474.8 482.9,478.8 484.9,465.8 486.5,453.8 487.7,405.9 489.3,429.9 490.5,458.8 492.9,459.8 493.9,460.8 494.9,445.8 496.5,457.8 497.9,467.8 500.8,477.8 503.8,477.8 506.8,475.8 509.8,478.8 512.8,480.8 515.8,478.8 517.8,476.8 519.2,468.8 520.8,467.8 523.9,468.4 526.5,465.8 529.9,461.9 532.5,471.0 534.4,460.5 536.2,444.9 536.7,374.4 537.8,392.7 538.8,363.9 539.6,361.3 540.4,408.3 541.4,397.9 542.2,382.2 543.0,416.2 544.0,439.7 545.6,444.9 546.1,457.9 548.7,457.9 550.0,439.7 551.3,434.4 552.1,417.5 552.6,460.5 555.2,464.5 557.9,444.9 560.5,457.9 561.8,452.7 563.1,448.8 564.4,454.0 566.5,460.5 568.3,457.9 569.6,461.9 570.9,447.5 573.5,421.4 574.8,447.5 577.4,439.7 578.2,408.3 580.1,418.8 581.4,434.4 582.7,447.5 584.0,460.5 586.6,464.5 587.9,450.1 589.2,377.0 590.5,450.1 591.8,444.9 593.1,430.5 594.4,452.7 596.2,455.3 597.3,445.0 597.8,420.0 598.9,416.0 599.4,400.0 598.8,393.0 598.9,410.0 599.4,395.0" fill="none" stroke="#111" stroke-width="1.0" stroke-linejoin="miter" stroke-miterlimit="3"/>
<line x1="597.6" y1="302.5" x2="597.6" y2="420" stroke="#111" stroke-width="1.1"/>
<path d="M302.3,351.7V375.6M298.7,370.1L302.3,375.6L305.90000000000003,370.1" fill="none" stroke="#f00808" stroke-width="1.5"/>
<path d="M307.8,362.7V386.7M304.2,381.2L307.8,386.7L311.40000000000003,381.2" fill="none" stroke="#f00808" stroke-width="1.5"/>
<path d="M312.4,374.4V397.7M308.79999999999995,392.2L312.4,397.7L316.0,392.2" fill="none" stroke="#f00808" stroke-width="1.5"/>
<path d="M320.7,378.1V401.4M317.09999999999997,395.9L320.7,401.4L324.3,395.9" fill="none" stroke="#f00808" stroke-width="1.5"/>
<path d="M387.5,382V406M383.9,400.5L387.5,406L391.1,400.5" fill="none" stroke="#f00808" stroke-width="1.5"/>
<path d="M414.8,385V409.5M411.2,404.0L414.8,409.5L418.40000000000003,404.0" fill="none" stroke="#f00808" stroke-width="1.5"/>
<path d="M539.6,336.5V360M536.0,354.5L539.6,360L543.2,354.5" fill="none" stroke="#f00808" stroke-width="1.5"/>
<path d="M586.6,335.2L597.5,356.1M591.9,352.8L597.5,356.1L597.9,349.6" fill="none" stroke="#f00808" stroke-width="1.3"/>
<path d="M614.0,335.7L597.8,350.9M599.5,344.6L597.8,350.9L604.2,349.6" fill="none" stroke="#f00808" stroke-width="1.3"/>
<line x1="108.6" y1="529.6" x2="125.2" y2="529.6" stroke="#f00808" stroke-width="2"/>
<line x1="137.4" y1="580.1" x2="187.7" y2="580.1" stroke="#f00808" stroke-width="2" stroke-dasharray="8.3,2.8"/>
<line x1="240.2" y1="575.4" x2="291.5" y2="575.4" stroke="#f00808" stroke-width="2"/>
<line x1="325.1" y1="570.7" x2="360.9" y2="570.7" stroke="#f00808" stroke-width="2"/>
<line x1="395" y1="550.5" x2="410.6" y2="550.5" stroke="#f00808" stroke-width="2" stroke-dasharray="3.2,2"/>
<line x1="414.2" y1="569.8" x2="440.7" y2="569.8" stroke="#f00808" stroke-width="2" stroke-dasharray="3.2,2"/>
<line x1="447.8" y1="555.2" x2="494.2" y2="555.2" stroke="#f00808" stroke-width="2"/>
<line x1="516.9" y1="554.8" x2="544.3" y2="554.8" stroke="#f00808" stroke-width="2"/>
<line x1="557.3" y1="538.7" x2="583.8" y2="538.7" stroke="#f00808" stroke-width="2"/>
<line x1="378.9" y1="588.4" x2="416" y2="588.4" stroke="#f00808" stroke-width="2"/>
<line x1="299.3" y1="598.7" x2="322.6" y2="598.7" stroke="#f00808" stroke-width="2" stroke-dasharray="3.2,2"/>
<line x1="222.4" y1="614.3" x2="242.7" y2="614.3" stroke="#f00808" stroke-width="2" stroke-dasharray="3.2,2"/>
<line x1="262.9" y1="614.3" x2="287.8" y2="614.3" stroke="#f00808" stroke-width="2" stroke-dasharray="3.2,2"/>
<line x1="332.3" y1="615.8" x2="422" y2="615.8" stroke="#f00808" stroke-width="2" stroke-dasharray="3.2,2"/>
<line x1="440.7" y1="592.2" x2="495.1" y2="592.2" stroke="#f00808" stroke-width="2" stroke-dasharray="3.2,2"/>
<line x1="540.2" y1="590.9" x2="560.5" y2="590.9" stroke="#f00808" stroke-width="2"/>
<line x1="435.4" y1="615.8" x2="495.1" y2="615.8" stroke="#f00808" stroke-width="2" stroke-dasharray="3.2,2"/>
<line x1="513.2" y1="615.9" x2="612" y2="615.9" stroke="#f00808" stroke-width="2" stroke-dasharray="3.2,2"/>
<text x="98.86" y="519" font-size="16" textLength="58.56" lengthAdjust="spacingAndGlyphs">N2(1-4)</text>
<text x="135.05" y="574" font-size="16" textLength="59.18" lengthAdjust="spacingAndGlyphs">N2(5-8)</text>
<text x="236.27" y="569.8" font-size="16" textLength="58.35" lengthAdjust="spacingAndGlyphs">N3(4-6)</text>
<text x="317.18" y="564.5" font-size="16" textLength="57.73" lengthAdjust="spacingAndGlyphs">N6(1-3)</text>
<text x="389.79" y="544.9" font-size="16" textLength="30.64" lengthAdjust="spacingAndGlyphs">N10</text>
<text x="415.54" y="563.6" font-size="16" textLength="22.71" lengthAdjust="spacingAndGlyphs">N9</text>
<text x="461.38" y="551.1" font-size="16" textLength="21.95" lengthAdjust="spacingAndGlyphs">N4</text>
<text x="515.82" y="548.6" font-size="16" textLength="29.23" lengthAdjust="spacingAndGlyphs">N11</text>
<text x="556.20" y="534" font-size="16" textLength="30.42" lengthAdjust="spacingAndGlyphs">N12</text>
<text x="381.10" y="583.8" font-size="16" textLength="19.87" lengthAdjust="spacingAndGlyphs">Y4</text>
<text x="301.80" y="595.3" font-size="16" textLength="19.87" lengthAdjust="spacingAndGlyphs">Y3</text>
<text x="222.40" y="610.2" font-size="16" textLength="21.30" lengthAdjust="spacingAndGlyphs">Y1</text>
<text x="269.10" y="610.2" font-size="16" textLength="16.99" lengthAdjust="spacingAndGlyphs">Y5</text>
<text x="348.50" y="611.2" font-size="16" textLength="59.91" lengthAdjust="spacingAndGlyphs">Y6(1,3,5)</text>
<text x="456.20" y="588.4" font-size="16" textLength="27.49" lengthAdjust="spacingAndGlyphs">Y11</text>
<text x="541.20" y="586.9" font-size="16" textLength="19.15" lengthAdjust="spacingAndGlyphs">Y8</text>
<text x="440.00" y="611.8" font-size="16" textLength="36.71" lengthAdjust="spacingAndGlyphs">Y6(7)</text>
<text x="532.50" y="611.8" font-size="16" textLength="48.41" lengthAdjust="spacingAndGlyphs">Y6(6,8)</text>
<text x="607.40" y="569.6" font-size="16" textLength="19.77" lengthAdjust="spacingAndGlyphs">Y2</text>
<text x="591.30" y="594.3" font-size="16" textLength="19.56" lengthAdjust="spacingAndGlyphs">Y7</text>
<path d="M612.6,577.6H621.8M614,573.4L621.8,577.6L614,582" fill="none" stroke="#f00808" stroke-width="1.8"/>
<path d="M596.5,600.7H600.2M600.2,596V605.3" fill="none" stroke="#f00808" stroke-width="1.6"/>
<text x="103.40" y="348.1" font-size="13.6" textLength="116.56" lengthAdjust="spacingAndGlyphs"><tspan font-style="italic">Mc</tspan> = 1.25, <tspan font-style="italic">N</tspan> = 1520</text>
<text x="103.80" y="362.6" font-size="13.6" textLength="105.32" lengthAdjust="spacingAndGlyphs">The best: <tspan font-style="italic">ne_2</tspan> = 6</text>
<text x="102.80" y="388.0" font-size="13.6" textLength="122.24" lengthAdjust="spacingAndGlyphs"><tspan font-style="italic">f.s.</tspan> = 86.557 (1.803)</text>
<text x="105.30" y="403.0" font-size="13.6" textLength="119.30" lengthAdjust="spacingAndGlyphs"><tspan font-style="italic">K</tspan><tspan font-style="italic" font-size="8" dy="2.5">0</tspan><tspan dy="-2.5"> = 0.0012(0.0006)</tspan></text>
<text x="105.30" y="418.0" font-size="13.6" textLength="99.85" lengthAdjust="spacingAndGlyphs"><tspan font-style="italic">α</tspan> = 1.285 (0.109)</text>
<text x="105.30" y="433.3" font-size="13.6" textLength="64.70" lengthAdjust="spacingAndGlyphs"><tspan font-style="italic">c</tspan> := 0.0069</text>
<text x="104.20" y="447.6" font-size="13.6" textLength="101.65" lengthAdjust="spacingAndGlyphs"><tspan font-style="italic">p</tspan> = 1.695 (0.123)</text>
</svg></body></html>
